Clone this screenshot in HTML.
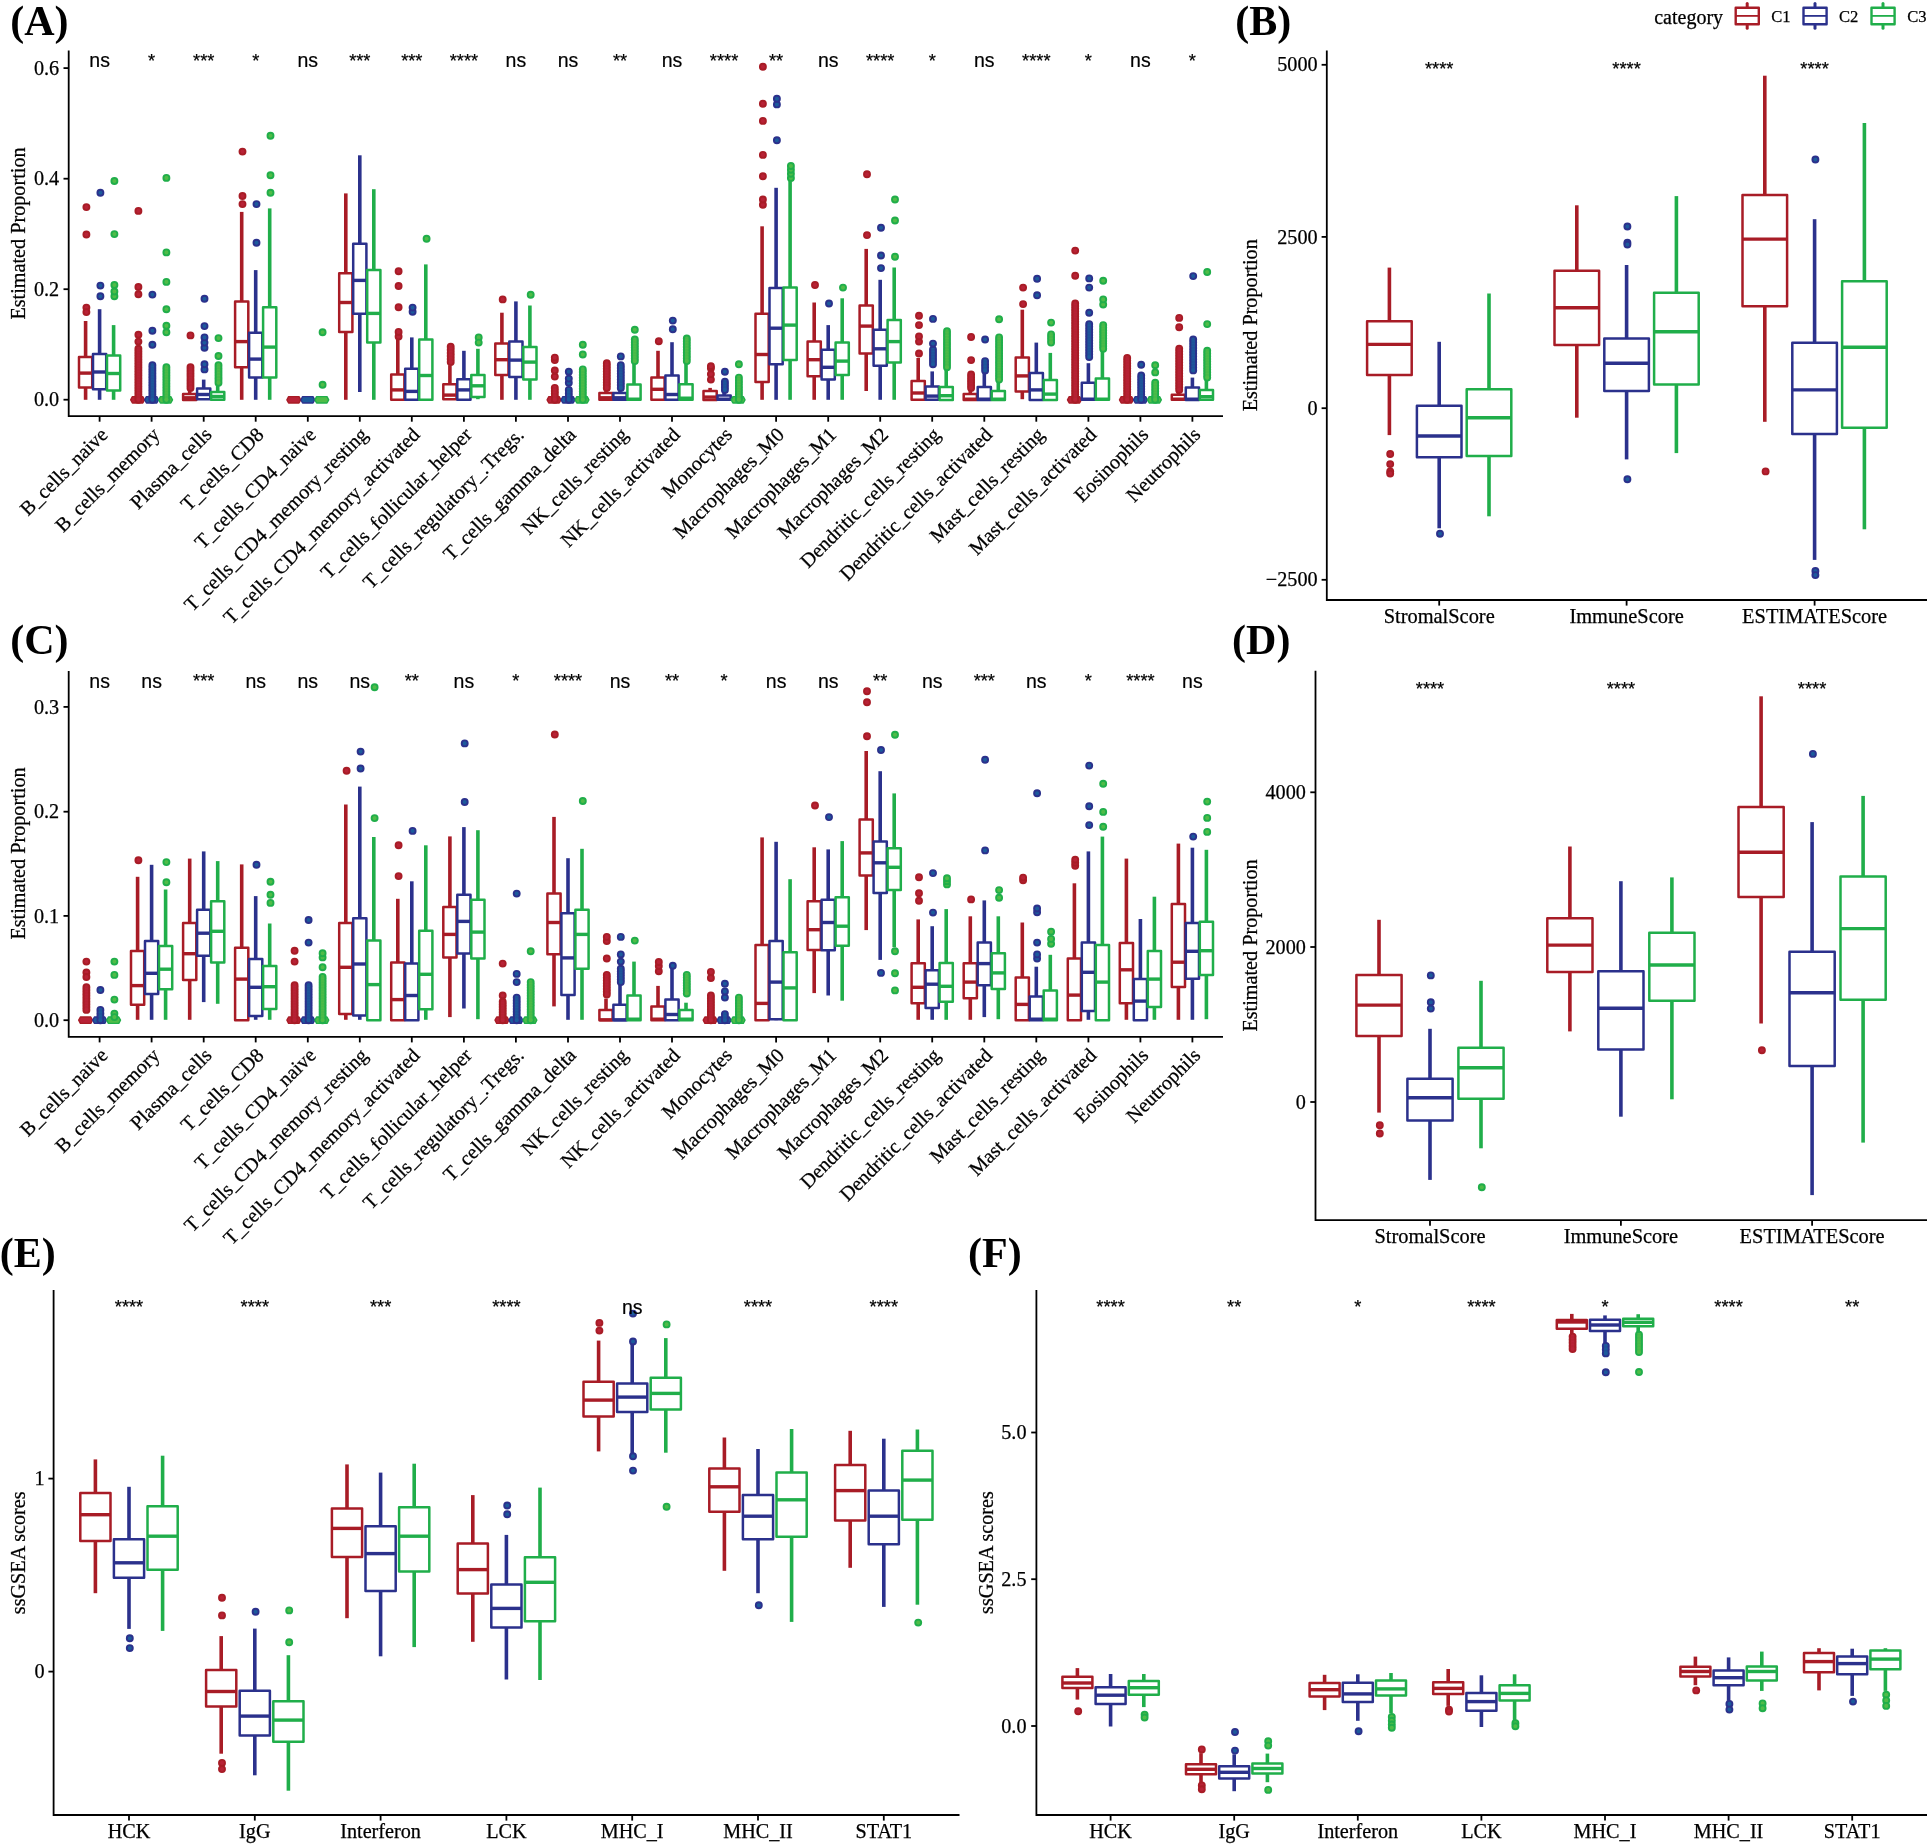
<!DOCTYPE html>
<html lang="en"><head><meta charset="utf-8"><title>Figure</title>
<style>html,body{margin:0;padding:0;background:#fff;overflow:hidden}svg{display:block;filter:blur(0.45px)}</style></head>
<body>
<svg width="1930" height="1846" viewBox="0 0 1930 1846">
<style>.t{font-family:"Liberation Serif","Times New Roman",serif;font-size:20.2px;fill:#000;stroke:#000;stroke-width:0.25px}.s{font-family:"Liberation Sans",Arial,sans-serif;font-size:19px;fill:#000;stroke:#000;stroke-width:0.2px}.p{font-family:"Liberation Serif","Times New Roman",serif;font-size:42px;font-weight:bold;fill:#000}</style>
<rect width="1930" height="1846" fill="#fff"/>
<g id="panelA">
<line x1="85.6" x2="85.6" y1="321.0" y2="357.0" stroke="#A81C26" stroke-width="3.6"/><line x1="85.6" x2="85.6" y1="387.5" y2="399.8" stroke="#A81C26" stroke-width="3.6"/><rect x="79.0" y="357.0" width="13.2" height="30.5" fill="#fff" stroke="#A81C26" stroke-width="2.5" stroke-linejoin="round"/><line x1="79.0" x2="92.2" y1="373.1" y2="373.1" stroke="#A81C26" stroke-width="3.4"/><circle cx="86.4" cy="307.6" r="3.0" fill="#B82236" stroke="#A81C26" stroke-width="1.9"/><circle cx="86.4" cy="312.1" r="3.0" fill="#B82236" stroke="#A81C26" stroke-width="1.9"/><circle cx="86.4" cy="234.5" r="3.0" fill="#B82236" stroke="#A81C26" stroke-width="1.9"/><circle cx="86.4" cy="207.1" r="3.0" fill="#B82236" stroke="#A81C26" stroke-width="1.9"/>
<line x1="99.6" x2="99.6" y1="309.2" y2="353.9" stroke="#2B318C" stroke-width="3.6"/><line x1="99.6" x2="99.6" y1="389.3" y2="399.8" stroke="#2B318C" stroke-width="3.6"/><rect x="93.0" y="353.9" width="13.2" height="35.4" fill="#fff" stroke="#2B318C" stroke-width="2.5" stroke-linejoin="round"/><line x1="93.0" x2="106.2" y1="372.0" y2="372.0" stroke="#2B318C" stroke-width="3.4"/><circle cx="100.4" cy="296.3" r="3.0" fill="#1C5A9C" stroke="#2B318C" stroke-width="1.9"/><circle cx="100.4" cy="285.6" r="3.0" fill="#1C5A9C" stroke="#2B318C" stroke-width="1.9"/><circle cx="100.4" cy="192.7" r="3.0" fill="#1C5A9C" stroke="#2B318C" stroke-width="1.9"/>
<line x1="113.6" x2="113.6" y1="325.1" y2="355.6" stroke="#20AE4A" stroke-width="3.6"/><line x1="113.6" x2="113.6" y1="390.6" y2="399.8" stroke="#20AE4A" stroke-width="3.6"/><rect x="107.0" y="355.6" width="13.2" height="35.0" fill="#fff" stroke="#20AE4A" stroke-width="2.5" stroke-linejoin="round"/><line x1="107.0" x2="120.2" y1="373.5" y2="373.5" stroke="#20AE4A" stroke-width="3.4"/><circle cx="114.4" cy="296.3" r="3.0" fill="#50BC48" stroke="#20AE4A" stroke-width="1.9"/><circle cx="114.4" cy="291.5" r="3.0" fill="#50BC48" stroke="#20AE4A" stroke-width="1.9"/><circle cx="114.4" cy="285.0" r="3.0" fill="#50BC48" stroke="#20AE4A" stroke-width="1.9"/><circle cx="114.4" cy="234.1" r="3.0" fill="#50BC48" stroke="#20AE4A" stroke-width="1.9"/><circle cx="114.4" cy="181.0" r="3.0" fill="#50BC48" stroke="#20AE4A" stroke-width="1.9"/>
<polygon points="130.7,399.8 132.4,396.6 142.8,396.6 144.5,399.8 142.8,403.0 132.4,403.0" fill="#B82236" stroke="#A81C26" stroke-width="1.4" stroke-linejoin="round"/><circle cx="138.4" cy="341.6" r="3.0" fill="#B82236" stroke="#A81C26" stroke-width="1.9"/><circle cx="138.4" cy="334.8" r="3.0" fill="#B82236" stroke="#A81C26" stroke-width="1.9"/><circle cx="138.4" cy="294.2" r="3.0" fill="#B82236" stroke="#A81C26" stroke-width="1.9"/><circle cx="138.4" cy="287.0" r="3.0" fill="#B82236" stroke="#A81C26" stroke-width="1.9"/><circle cx="138.4" cy="210.9" r="3.0" fill="#B82236" stroke="#A81C26" stroke-width="1.9"/><circle cx="138.4" cy="348.8" r="3.0" fill="#B82236" stroke="#A81C26" stroke-width="1.9"/><circle cx="138.4" cy="351.5" r="3.0" fill="#B82236" stroke="#A81C26" stroke-width="1.9"/><circle cx="138.4" cy="354.1" r="3.0" fill="#B82236" stroke="#A81C26" stroke-width="1.9"/><circle cx="138.4" cy="356.8" r="3.0" fill="#B82236" stroke="#A81C26" stroke-width="1.9"/><circle cx="138.4" cy="359.5" r="3.0" fill="#B82236" stroke="#A81C26" stroke-width="1.9"/><circle cx="138.4" cy="362.2" r="3.0" fill="#B82236" stroke="#A81C26" stroke-width="1.9"/><circle cx="138.4" cy="364.9" r="3.0" fill="#B82236" stroke="#A81C26" stroke-width="1.9"/><circle cx="138.4" cy="367.6" r="3.0" fill="#B82236" stroke="#A81C26" stroke-width="1.9"/><circle cx="138.4" cy="370.3" r="3.0" fill="#B82236" stroke="#A81C26" stroke-width="1.9"/><circle cx="138.4" cy="373.0" r="3.0" fill="#B82236" stroke="#A81C26" stroke-width="1.9"/><circle cx="138.4" cy="375.6" r="3.0" fill="#B82236" stroke="#A81C26" stroke-width="1.9"/><circle cx="138.4" cy="378.3" r="3.0" fill="#B82236" stroke="#A81C26" stroke-width="1.9"/><circle cx="138.4" cy="381.0" r="3.0" fill="#B82236" stroke="#A81C26" stroke-width="1.9"/><circle cx="138.4" cy="383.7" r="3.0" fill="#B82236" stroke="#A81C26" stroke-width="1.9"/><circle cx="138.4" cy="386.4" r="3.0" fill="#B82236" stroke="#A81C26" stroke-width="1.9"/><circle cx="138.4" cy="389.1" r="3.0" fill="#B82236" stroke="#A81C26" stroke-width="1.9"/><circle cx="138.4" cy="391.8" r="3.0" fill="#B82236" stroke="#A81C26" stroke-width="1.9"/><circle cx="138.4" cy="394.4" r="3.0" fill="#B82236" stroke="#A81C26" stroke-width="1.9"/><circle cx="138.4" cy="397.1" r="3.0" fill="#B82236" stroke="#A81C26" stroke-width="1.9"/><circle cx="138.4" cy="399.8" r="3.0" fill="#B82236" stroke="#A81C26" stroke-width="1.9"/><line x1="138.4" x2="138.4" y1="348.8" y2="399.8" stroke="#B82236" stroke-width="3.6" stroke-linecap="round" opacity="0.8"/>
<polygon points="144.7,399.8 146.4,396.6 156.8,396.6 158.5,399.8 156.8,403.0 146.4,403.0" fill="#1C5A9C" stroke="#2B318C" stroke-width="1.4" stroke-linejoin="round"/><circle cx="152.4" cy="344.7" r="3.0" fill="#1C5A9C" stroke="#2B318C" stroke-width="1.9"/><circle cx="152.4" cy="330.7" r="3.0" fill="#1C5A9C" stroke="#2B318C" stroke-width="1.9"/><circle cx="152.4" cy="294.6" r="3.0" fill="#1C5A9C" stroke="#2B318C" stroke-width="1.9"/><circle cx="152.4" cy="365.2" r="3.0" fill="#1C5A9C" stroke="#2B318C" stroke-width="1.9"/><circle cx="152.4" cy="367.9" r="3.0" fill="#1C5A9C" stroke="#2B318C" stroke-width="1.9"/><circle cx="152.4" cy="370.6" r="3.0" fill="#1C5A9C" stroke="#2B318C" stroke-width="1.9"/><circle cx="152.4" cy="373.2" r="3.0" fill="#1C5A9C" stroke="#2B318C" stroke-width="1.9"/><circle cx="152.4" cy="375.9" r="3.0" fill="#1C5A9C" stroke="#2B318C" stroke-width="1.9"/><circle cx="152.4" cy="378.5" r="3.0" fill="#1C5A9C" stroke="#2B318C" stroke-width="1.9"/><circle cx="152.4" cy="381.2" r="3.0" fill="#1C5A9C" stroke="#2B318C" stroke-width="1.9"/><circle cx="152.4" cy="383.9" r="3.0" fill="#1C5A9C" stroke="#2B318C" stroke-width="1.9"/><circle cx="152.4" cy="386.5" r="3.0" fill="#1C5A9C" stroke="#2B318C" stroke-width="1.9"/><circle cx="152.4" cy="389.2" r="3.0" fill="#1C5A9C" stroke="#2B318C" stroke-width="1.9"/><circle cx="152.4" cy="391.8" r="3.0" fill="#1C5A9C" stroke="#2B318C" stroke-width="1.9"/><circle cx="152.4" cy="394.5" r="3.0" fill="#1C5A9C" stroke="#2B318C" stroke-width="1.9"/><circle cx="152.4" cy="397.2" r="3.0" fill="#1C5A9C" stroke="#2B318C" stroke-width="1.9"/><circle cx="152.4" cy="399.8" r="3.0" fill="#1C5A9C" stroke="#2B318C" stroke-width="1.9"/><line x1="152.4" x2="152.4" y1="365.2" y2="399.8" stroke="#1C5A9C" stroke-width="3.6" stroke-linecap="round" opacity="0.8"/>
<polygon points="158.7,399.8 160.4,396.6 170.8,396.6 172.5,399.8 170.8,403.0 160.4,403.0" fill="#50BC48" stroke="#20AE4A" stroke-width="1.4" stroke-linejoin="round"/><circle cx="166.4" cy="332.3" r="3.0" fill="#50BC48" stroke="#20AE4A" stroke-width="1.9"/><circle cx="166.4" cy="325.7" r="3.0" fill="#50BC48" stroke="#20AE4A" stroke-width="1.9"/><circle cx="166.4" cy="309.2" r="3.0" fill="#50BC48" stroke="#20AE4A" stroke-width="1.9"/><circle cx="166.4" cy="281.9" r="3.0" fill="#50BC48" stroke="#20AE4A" stroke-width="1.9"/><circle cx="166.4" cy="252.4" r="3.0" fill="#50BC48" stroke="#20AE4A" stroke-width="1.9"/><circle cx="166.4" cy="177.9" r="3.0" fill="#50BC48" stroke="#20AE4A" stroke-width="1.9"/><circle cx="166.4" cy="367.3" r="3.0" fill="#50BC48" stroke="#20AE4A" stroke-width="1.9"/><circle cx="166.4" cy="370.0" r="3.0" fill="#50BC48" stroke="#20AE4A" stroke-width="1.9"/><circle cx="166.4" cy="372.7" r="3.0" fill="#50BC48" stroke="#20AE4A" stroke-width="1.9"/><circle cx="166.4" cy="375.4" r="3.0" fill="#50BC48" stroke="#20AE4A" stroke-width="1.9"/><circle cx="166.4" cy="378.1" r="3.0" fill="#50BC48" stroke="#20AE4A" stroke-width="1.9"/><circle cx="166.4" cy="380.8" r="3.0" fill="#50BC48" stroke="#20AE4A" stroke-width="1.9"/><circle cx="166.4" cy="383.6" r="3.0" fill="#50BC48" stroke="#20AE4A" stroke-width="1.9"/><circle cx="166.4" cy="386.3" r="3.0" fill="#50BC48" stroke="#20AE4A" stroke-width="1.9"/><circle cx="166.4" cy="389.0" r="3.0" fill="#50BC48" stroke="#20AE4A" stroke-width="1.9"/><circle cx="166.4" cy="391.7" r="3.0" fill="#50BC48" stroke="#20AE4A" stroke-width="1.9"/><circle cx="166.4" cy="394.4" r="3.0" fill="#50BC48" stroke="#20AE4A" stroke-width="1.9"/><circle cx="166.4" cy="397.1" r="3.0" fill="#50BC48" stroke="#20AE4A" stroke-width="1.9"/><circle cx="166.4" cy="399.8" r="3.0" fill="#50BC48" stroke="#20AE4A" stroke-width="1.9"/><line x1="166.4" x2="166.4" y1="367.3" y2="399.8" stroke="#50BC48" stroke-width="3.6" stroke-linecap="round" opacity="0.8"/>
<line x1="189.7" x2="189.7" y1="387.9" y2="394.1" stroke="#A81C26" stroke-width="3.6"/><rect x="183.1" y="394.1" width="13.2" height="5.8" fill="#fff" stroke="#A81C26" stroke-width="2.5" stroke-linejoin="round"/><line x1="183.1" x2="196.3" y1="397.8" y2="397.8" stroke="#A81C26" stroke-width="3.4"/><circle cx="190.5" cy="335.4" r="3.0" fill="#B82236" stroke="#A81C26" stroke-width="1.9"/><circle cx="190.5" cy="367.3" r="3.0" fill="#B82236" stroke="#A81C26" stroke-width="1.9"/><circle cx="190.5" cy="370.2" r="3.0" fill="#B82236" stroke="#A81C26" stroke-width="1.9"/><circle cx="190.5" cy="373.2" r="3.0" fill="#B82236" stroke="#A81C26" stroke-width="1.9"/><circle cx="190.5" cy="376.1" r="3.0" fill="#B82236" stroke="#A81C26" stroke-width="1.9"/><circle cx="190.5" cy="379.1" r="3.0" fill="#B82236" stroke="#A81C26" stroke-width="1.9"/><circle cx="190.5" cy="382.0" r="3.0" fill="#B82236" stroke="#A81C26" stroke-width="1.9"/><circle cx="190.5" cy="384.9" r="3.0" fill="#B82236" stroke="#A81C26" stroke-width="1.9"/><circle cx="190.5" cy="387.9" r="3.0" fill="#B82236" stroke="#A81C26" stroke-width="1.9"/><line x1="190.5" x2="190.5" y1="367.3" y2="387.9" stroke="#B82236" stroke-width="3.6" stroke-linecap="round" opacity="0.8"/>
<line x1="203.7" x2="203.7" y1="379.6" y2="388.5" stroke="#2B318C" stroke-width="3.6"/><line x1="203.7" x2="203.7" y1="399.2" y2="399.8" stroke="#2B318C" stroke-width="3.6"/><rect x="197.1" y="388.5" width="13.2" height="10.7" fill="#fff" stroke="#2B318C" stroke-width="2.5" stroke-linejoin="round"/><line x1="197.1" x2="210.3" y1="394.5" y2="394.5" stroke="#2B318C" stroke-width="3.4"/><circle cx="204.5" cy="369.4" r="3.0" fill="#1C5A9C" stroke="#2B318C" stroke-width="1.9"/><circle cx="204.5" cy="364.2" r="3.0" fill="#1C5A9C" stroke="#2B318C" stroke-width="1.9"/><circle cx="204.5" cy="347.7" r="3.0" fill="#1C5A9C" stroke="#2B318C" stroke-width="1.9"/><circle cx="204.5" cy="342.6" r="3.0" fill="#1C5A9C" stroke="#2B318C" stroke-width="1.9"/><circle cx="204.5" cy="337.4" r="3.0" fill="#1C5A9C" stroke="#2B318C" stroke-width="1.9"/><circle cx="204.5" cy="326.1" r="3.0" fill="#1C5A9C" stroke="#2B318C" stroke-width="1.9"/><circle cx="204.5" cy="298.7" r="3.0" fill="#1C5A9C" stroke="#2B318C" stroke-width="1.9"/>
<line x1="217.7" x2="217.7" y1="382.7" y2="392.0" stroke="#20AE4A" stroke-width="3.6"/><rect x="211.1" y="392.0" width="13.2" height="7.8" fill="#fff" stroke="#20AE4A" stroke-width="2.5" stroke-linejoin="round"/><line x1="211.1" x2="224.3" y1="396.5" y2="396.5" stroke="#20AE4A" stroke-width="3.4"/><circle cx="218.5" cy="356.0" r="3.0" fill="#50BC48" stroke="#20AE4A" stroke-width="1.9"/><circle cx="218.5" cy="338.1" r="3.0" fill="#50BC48" stroke="#20AE4A" stroke-width="1.9"/><circle cx="218.5" cy="365.2" r="3.0" fill="#50BC48" stroke="#20AE4A" stroke-width="1.9"/><circle cx="218.5" cy="368.2" r="3.0" fill="#50BC48" stroke="#20AE4A" stroke-width="1.9"/><circle cx="218.5" cy="371.1" r="3.0" fill="#50BC48" stroke="#20AE4A" stroke-width="1.9"/><circle cx="218.5" cy="374.0" r="3.0" fill="#50BC48" stroke="#20AE4A" stroke-width="1.9"/><circle cx="218.5" cy="376.9" r="3.0" fill="#50BC48" stroke="#20AE4A" stroke-width="1.9"/><circle cx="218.5" cy="379.8" r="3.0" fill="#50BC48" stroke="#20AE4A" stroke-width="1.9"/><circle cx="218.5" cy="382.7" r="3.0" fill="#50BC48" stroke="#20AE4A" stroke-width="1.9"/><line x1="218.5" x2="218.5" y1="365.2" y2="382.7" stroke="#50BC48" stroke-width="3.6" stroke-linecap="round" opacity="0.8"/>
<line x1="241.7" x2="241.7" y1="211.9" y2="301.4" stroke="#A81C26" stroke-width="3.6"/><line x1="241.7" x2="241.7" y1="367.3" y2="399.8" stroke="#A81C26" stroke-width="3.6"/><rect x="235.1" y="301.4" width="13.2" height="65.9" fill="#fff" stroke="#A81C26" stroke-width="2.5" stroke-linejoin="round"/><line x1="235.1" x2="248.3" y1="341.6" y2="341.6" stroke="#A81C26" stroke-width="3.4"/><circle cx="242.5" cy="204.1" r="3.0" fill="#B82236" stroke="#A81C26" stroke-width="1.9"/><circle cx="242.5" cy="196.0" r="3.0" fill="#B82236" stroke="#A81C26" stroke-width="1.9"/><circle cx="242.5" cy="151.6" r="3.0" fill="#B82236" stroke="#A81C26" stroke-width="1.9"/>
<line x1="255.7" x2="255.7" y1="270.1" y2="332.7" stroke="#2B318C" stroke-width="3.6"/><line x1="255.7" x2="255.7" y1="377.6" y2="399.8" stroke="#2B318C" stroke-width="3.6"/><rect x="249.1" y="332.7" width="13.2" height="44.9" fill="#fff" stroke="#2B318C" stroke-width="2.5" stroke-linejoin="round"/><line x1="249.1" x2="262.3" y1="359.1" y2="359.1" stroke="#2B318C" stroke-width="3.4"/><circle cx="256.5" cy="242.8" r="3.0" fill="#1C5A9C" stroke="#2B318C" stroke-width="1.9"/><circle cx="256.5" cy="204.1" r="3.0" fill="#1C5A9C" stroke="#2B318C" stroke-width="1.9"/>
<line x1="269.7" x2="269.7" y1="208.4" y2="307.2" stroke="#20AE4A" stroke-width="3.6"/><line x1="269.7" x2="269.7" y1="377.6" y2="399.8" stroke="#20AE4A" stroke-width="3.6"/><rect x="263.1" y="307.2" width="13.2" height="70.4" fill="#fff" stroke="#20AE4A" stroke-width="2.5" stroke-linejoin="round"/><line x1="263.1" x2="276.3" y1="347.1" y2="347.1" stroke="#20AE4A" stroke-width="3.4"/><circle cx="270.5" cy="192.7" r="3.0" fill="#50BC48" stroke="#20AE4A" stroke-width="1.9"/><circle cx="270.5" cy="175.2" r="3.0" fill="#50BC48" stroke="#20AE4A" stroke-width="1.9"/><circle cx="270.5" cy="135.7" r="3.0" fill="#50BC48" stroke="#20AE4A" stroke-width="1.9"/>
<polygon points="286.9,399.8 288.6,396.6 299.0,396.6 300.7,399.8 299.0,403.0 288.6,403.0" fill="#B82236" stroke="#A81C26" stroke-width="1.4" stroke-linejoin="round"/>
<polygon points="300.9,399.8 302.6,396.6 313.0,396.6 314.7,399.8 313.0,403.0 302.6,403.0" fill="#1C5A9C" stroke="#2B318C" stroke-width="1.4" stroke-linejoin="round"/>
<polygon points="314.9,399.8 316.6,396.6 327.0,396.6 328.7,399.8 327.0,403.0 316.6,403.0" fill="#50BC48" stroke="#20AE4A" stroke-width="1.4" stroke-linejoin="round"/><circle cx="322.6" cy="384.8" r="3.0" fill="#50BC48" stroke="#20AE4A" stroke-width="1.9"/><circle cx="322.6" cy="332.3" r="3.0" fill="#50BC48" stroke="#20AE4A" stroke-width="1.9"/>
<line x1="345.8" x2="345.8" y1="193.4" y2="273.2" stroke="#A81C26" stroke-width="3.6"/><line x1="345.8" x2="345.8" y1="331.9" y2="399.8" stroke="#A81C26" stroke-width="3.6"/><rect x="339.2" y="273.2" width="13.2" height="58.7" fill="#fff" stroke="#A81C26" stroke-width="2.5" stroke-linejoin="round"/><line x1="339.2" x2="352.4" y1="302.5" y2="302.5" stroke="#A81C26" stroke-width="3.4"/>
<line x1="359.8" x2="359.8" y1="155.3" y2="243.8" stroke="#2B318C" stroke-width="3.6"/><line x1="359.8" x2="359.8" y1="313.8" y2="392.0" stroke="#2B318C" stroke-width="3.6"/><rect x="353.2" y="243.8" width="13.2" height="70.0" fill="#fff" stroke="#2B318C" stroke-width="2.5" stroke-linejoin="round"/><line x1="353.2" x2="366.4" y1="280.4" y2="280.4" stroke="#2B318C" stroke-width="3.4"/>
<line x1="373.8" x2="373.8" y1="189.2" y2="269.9" stroke="#20AE4A" stroke-width="3.6"/><line x1="373.8" x2="373.8" y1="342.6" y2="399.8" stroke="#20AE4A" stroke-width="3.6"/><rect x="367.2" y="269.9" width="13.2" height="72.7" fill="#fff" stroke="#20AE4A" stroke-width="2.5" stroke-linejoin="round"/><line x1="367.2" x2="380.4" y1="313.4" y2="313.4" stroke="#20AE4A" stroke-width="3.4"/>
<line x1="397.8" x2="397.8" y1="338.5" y2="374.5" stroke="#A81C26" stroke-width="3.6"/><rect x="391.2" y="374.5" width="13.2" height="25.3" fill="#fff" stroke="#A81C26" stroke-width="2.5" stroke-linejoin="round"/><line x1="391.2" x2="404.4" y1="389.9" y2="389.9" stroke="#A81C26" stroke-width="3.4"/><circle cx="398.6" cy="336.4" r="3.0" fill="#B82236" stroke="#A81C26" stroke-width="1.9"/><circle cx="398.6" cy="331.9" r="3.0" fill="#B82236" stroke="#A81C26" stroke-width="1.9"/><circle cx="398.6" cy="307.2" r="3.0" fill="#B82236" stroke="#A81C26" stroke-width="1.9"/><circle cx="398.6" cy="286.0" r="3.0" fill="#B82236" stroke="#A81C26" stroke-width="1.9"/><circle cx="398.6" cy="271.2" r="3.0" fill="#B82236" stroke="#A81C26" stroke-width="1.9"/>
<line x1="411.8" x2="411.8" y1="337.4" y2="368.7" stroke="#2B318C" stroke-width="3.6"/><rect x="405.2" y="368.7" width="13.2" height="31.1" fill="#fff" stroke="#2B318C" stroke-width="2.5" stroke-linejoin="round"/><line x1="405.2" x2="418.4" y1="391.4" y2="391.4" stroke="#2B318C" stroke-width="3.4"/><circle cx="412.6" cy="311.7" r="3.0" fill="#1C5A9C" stroke="#2B318C" stroke-width="1.9"/><circle cx="412.6" cy="307.6" r="3.0" fill="#1C5A9C" stroke="#2B318C" stroke-width="1.9"/>
<line x1="425.8" x2="425.8" y1="264.4" y2="339.5" stroke="#20AE4A" stroke-width="3.6"/><rect x="419.2" y="339.5" width="13.2" height="60.3" fill="#fff" stroke="#20AE4A" stroke-width="2.5" stroke-linejoin="round"/><line x1="419.2" x2="432.4" y1="375.5" y2="375.5" stroke="#20AE4A" stroke-width="3.4"/><circle cx="426.6" cy="238.8" r="3.0" fill="#50BC48" stroke="#20AE4A" stroke-width="1.9"/>
<line x1="449.9" x2="449.9" y1="365.2" y2="384.2" stroke="#A81C26" stroke-width="3.6"/><line x1="449.9" x2="449.9" y1="399.2" y2="399.8" stroke="#A81C26" stroke-width="3.6"/><rect x="443.3" y="384.2" width="13.2" height="15.0" fill="#fff" stroke="#A81C26" stroke-width="2.5" stroke-linejoin="round"/><line x1="443.3" x2="456.5" y1="395.1" y2="395.1" stroke="#A81C26" stroke-width="3.4"/><circle cx="450.7" cy="346.7" r="3.0" fill="#B82236" stroke="#A81C26" stroke-width="1.9"/><circle cx="450.7" cy="349.8" r="3.0" fill="#B82236" stroke="#A81C26" stroke-width="1.9"/><circle cx="450.7" cy="352.9" r="3.0" fill="#B82236" stroke="#A81C26" stroke-width="1.9"/><circle cx="450.7" cy="356.0" r="3.0" fill="#B82236" stroke="#A81C26" stroke-width="1.9"/><circle cx="450.7" cy="359.1" r="3.0" fill="#B82236" stroke="#A81C26" stroke-width="1.9"/><circle cx="450.7" cy="362.1" r="3.0" fill="#B82236" stroke="#A81C26" stroke-width="1.9"/><line x1="450.7" x2="450.7" y1="346.7" y2="362.1" stroke="#B82236" stroke-width="3.6" stroke-linecap="round" opacity="0.8"/>
<line x1="463.9" x2="463.9" y1="350.8" y2="379.2" stroke="#2B318C" stroke-width="3.6"/><rect x="457.3" y="379.2" width="13.2" height="20.6" fill="#fff" stroke="#2B318C" stroke-width="2.5" stroke-linejoin="round"/><line x1="457.3" x2="470.5" y1="389.9" y2="389.9" stroke="#2B318C" stroke-width="3.4"/>
<line x1="477.9" x2="477.9" y1="348.8" y2="375.1" stroke="#20AE4A" stroke-width="3.6"/><line x1="477.9" x2="477.9" y1="397.1" y2="399.2" stroke="#20AE4A" stroke-width="3.6"/><rect x="471.3" y="375.1" width="13.2" height="22.0" fill="#fff" stroke="#20AE4A" stroke-width="2.5" stroke-linejoin="round"/><line x1="471.3" x2="484.5" y1="385.8" y2="385.8" stroke="#20AE4A" stroke-width="3.4"/><circle cx="478.7" cy="337.4" r="3.0" fill="#50BC48" stroke="#20AE4A" stroke-width="1.9"/><circle cx="478.7" cy="342.6" r="3.0" fill="#50BC48" stroke="#20AE4A" stroke-width="1.9"/>
<line x1="501.9" x2="501.9" y1="312.7" y2="343.6" stroke="#A81C26" stroke-width="3.6"/><line x1="501.9" x2="501.9" y1="375.1" y2="399.8" stroke="#A81C26" stroke-width="3.6"/><rect x="495.3" y="343.6" width="13.2" height="31.5" fill="#fff" stroke="#A81C26" stroke-width="2.5" stroke-linejoin="round"/><line x1="495.3" x2="508.5" y1="359.7" y2="359.7" stroke="#A81C26" stroke-width="3.4"/><circle cx="502.7" cy="299.4" r="3.0" fill="#B82236" stroke="#A81C26" stroke-width="1.9"/>
<line x1="515.9" x2="515.9" y1="301.4" y2="341.6" stroke="#2B318C" stroke-width="3.6"/><line x1="515.9" x2="515.9" y1="377.0" y2="399.8" stroke="#2B318C" stroke-width="3.6"/><rect x="509.3" y="341.6" width="13.2" height="35.4" fill="#fff" stroke="#2B318C" stroke-width="2.5" stroke-linejoin="round"/><line x1="509.3" x2="522.5" y1="360.1" y2="360.1" stroke="#2B318C" stroke-width="3.4"/>
<line x1="529.9" x2="529.9" y1="305.5" y2="347.1" stroke="#20AE4A" stroke-width="3.6"/><line x1="529.9" x2="529.9" y1="379.6" y2="399.8" stroke="#20AE4A" stroke-width="3.6"/><rect x="523.3" y="347.1" width="13.2" height="32.5" fill="#fff" stroke="#20AE4A" stroke-width="2.5" stroke-linejoin="round"/><line x1="523.3" x2="536.5" y1="362.1" y2="362.1" stroke="#20AE4A" stroke-width="3.4"/><circle cx="530.7" cy="294.8" r="3.0" fill="#50BC48" stroke="#20AE4A" stroke-width="1.9"/>
<polygon points="547.1,399.8 548.8,396.6 559.2,396.6 560.9,399.8 559.2,403.0 548.8,403.0" fill="#B82236" stroke="#A81C26" stroke-width="1.4" stroke-linejoin="round"/><circle cx="554.8" cy="376.6" r="3.0" fill="#B82236" stroke="#A81C26" stroke-width="1.9"/><circle cx="554.8" cy="370.4" r="3.0" fill="#B82236" stroke="#A81C26" stroke-width="1.9"/><circle cx="554.8" cy="360.1" r="3.0" fill="#B82236" stroke="#A81C26" stroke-width="1.9"/><circle cx="554.8" cy="357.6" r="3.0" fill="#B82236" stroke="#A81C26" stroke-width="1.9"/><circle cx="554.8" cy="387.9" r="3.0" fill="#B82236" stroke="#A81C26" stroke-width="1.9"/><circle cx="554.8" cy="390.9" r="3.0" fill="#B82236" stroke="#A81C26" stroke-width="1.9"/><circle cx="554.8" cy="393.8" r="3.0" fill="#B82236" stroke="#A81C26" stroke-width="1.9"/><circle cx="554.8" cy="396.8" r="3.0" fill="#B82236" stroke="#A81C26" stroke-width="1.9"/><circle cx="554.8" cy="399.8" r="3.0" fill="#B82236" stroke="#A81C26" stroke-width="1.9"/><line x1="554.8" x2="554.8" y1="387.9" y2="399.8" stroke="#B82236" stroke-width="3.6" stroke-linecap="round" opacity="0.8"/>
<polygon points="561.1,399.8 562.8,396.6 573.2,396.6 574.9,399.8 573.2,403.0 562.8,403.0" fill="#1C5A9C" stroke="#2B318C" stroke-width="1.4" stroke-linejoin="round"/><circle cx="568.8" cy="382.7" r="3.0" fill="#1C5A9C" stroke="#2B318C" stroke-width="1.9"/><circle cx="568.8" cy="378.6" r="3.0" fill="#1C5A9C" stroke="#2B318C" stroke-width="1.9"/><circle cx="568.8" cy="371.8" r="3.0" fill="#1C5A9C" stroke="#2B318C" stroke-width="1.9"/><circle cx="568.8" cy="389.9" r="3.0" fill="#1C5A9C" stroke="#2B318C" stroke-width="1.9"/><circle cx="568.8" cy="393.2" r="3.0" fill="#1C5A9C" stroke="#2B318C" stroke-width="1.9"/><circle cx="568.8" cy="396.5" r="3.0" fill="#1C5A9C" stroke="#2B318C" stroke-width="1.9"/><circle cx="568.8" cy="399.8" r="3.0" fill="#1C5A9C" stroke="#2B318C" stroke-width="1.9"/><line x1="568.8" x2="568.8" y1="389.9" y2="399.8" stroke="#1C5A9C" stroke-width="3.6" stroke-linecap="round" opacity="0.8"/>
<polygon points="575.1,399.8 576.8,396.6 587.2,396.6 588.9,399.8 587.2,403.0 576.8,403.0" fill="#50BC48" stroke="#20AE4A" stroke-width="1.4" stroke-linejoin="round"/><circle cx="582.8" cy="354.5" r="3.0" fill="#50BC48" stroke="#20AE4A" stroke-width="1.9"/><circle cx="582.8" cy="344.7" r="3.0" fill="#50BC48" stroke="#20AE4A" stroke-width="1.9"/><circle cx="582.8" cy="369.4" r="3.0" fill="#50BC48" stroke="#20AE4A" stroke-width="1.9"/><circle cx="582.8" cy="372.1" r="3.0" fill="#50BC48" stroke="#20AE4A" stroke-width="1.9"/><circle cx="582.8" cy="374.9" r="3.0" fill="#50BC48" stroke="#20AE4A" stroke-width="1.9"/><circle cx="582.8" cy="377.7" r="3.0" fill="#50BC48" stroke="#20AE4A" stroke-width="1.9"/><circle cx="582.8" cy="380.4" r="3.0" fill="#50BC48" stroke="#20AE4A" stroke-width="1.9"/><circle cx="582.8" cy="383.2" r="3.0" fill="#50BC48" stroke="#20AE4A" stroke-width="1.9"/><circle cx="582.8" cy="386.0" r="3.0" fill="#50BC48" stroke="#20AE4A" stroke-width="1.9"/><circle cx="582.8" cy="388.7" r="3.0" fill="#50BC48" stroke="#20AE4A" stroke-width="1.9"/><circle cx="582.8" cy="391.5" r="3.0" fill="#50BC48" stroke="#20AE4A" stroke-width="1.9"/><circle cx="582.8" cy="394.3" r="3.0" fill="#50BC48" stroke="#20AE4A" stroke-width="1.9"/><circle cx="582.8" cy="397.0" r="3.0" fill="#50BC48" stroke="#20AE4A" stroke-width="1.9"/><circle cx="582.8" cy="399.8" r="3.0" fill="#50BC48" stroke="#20AE4A" stroke-width="1.9"/><line x1="582.8" x2="582.8" y1="369.4" y2="399.8" stroke="#50BC48" stroke-width="3.6" stroke-linecap="round" opacity="0.8"/>
<line x1="606.0" x2="606.0" y1="387.9" y2="393.0" stroke="#A81C26" stroke-width="3.6"/><rect x="599.4" y="393.0" width="13.2" height="6.8" fill="#fff" stroke="#A81C26" stroke-width="2.5" stroke-linejoin="round"/><line x1="599.4" x2="612.6" y1="397.8" y2="397.8" stroke="#A81C26" stroke-width="3.4"/><circle cx="606.8" cy="363.2" r="3.0" fill="#B82236" stroke="#A81C26" stroke-width="1.9"/><circle cx="606.8" cy="365.9" r="3.0" fill="#B82236" stroke="#A81C26" stroke-width="1.9"/><circle cx="606.8" cy="368.7" r="3.0" fill="#B82236" stroke="#A81C26" stroke-width="1.9"/><circle cx="606.8" cy="371.4" r="3.0" fill="#B82236" stroke="#A81C26" stroke-width="1.9"/><circle cx="606.8" cy="374.2" r="3.0" fill="#B82236" stroke="#A81C26" stroke-width="1.9"/><circle cx="606.8" cy="376.9" r="3.0" fill="#B82236" stroke="#A81C26" stroke-width="1.9"/><circle cx="606.8" cy="379.6" r="3.0" fill="#B82236" stroke="#A81C26" stroke-width="1.9"/><circle cx="606.8" cy="382.4" r="3.0" fill="#B82236" stroke="#A81C26" stroke-width="1.9"/><circle cx="606.8" cy="385.1" r="3.0" fill="#B82236" stroke="#A81C26" stroke-width="1.9"/><circle cx="606.8" cy="387.9" r="3.0" fill="#B82236" stroke="#A81C26" stroke-width="1.9"/><line x1="606.8" x2="606.8" y1="363.2" y2="387.9" stroke="#B82236" stroke-width="3.6" stroke-linecap="round" opacity="0.8"/>
<line x1="620.0" x2="620.0" y1="387.9" y2="393.0" stroke="#2B318C" stroke-width="3.6"/><rect x="613.4" y="393.0" width="13.2" height="6.8" fill="#fff" stroke="#2B318C" stroke-width="2.5" stroke-linejoin="round"/><line x1="613.4" x2="626.6" y1="397.8" y2="397.8" stroke="#2B318C" stroke-width="3.4"/><circle cx="620.8" cy="356.4" r="3.0" fill="#1C5A9C" stroke="#2B318C" stroke-width="1.9"/><circle cx="620.8" cy="365.2" r="3.0" fill="#1C5A9C" stroke="#2B318C" stroke-width="1.9"/><circle cx="620.8" cy="368.1" r="3.0" fill="#1C5A9C" stroke="#2B318C" stroke-width="1.9"/><circle cx="620.8" cy="370.9" r="3.0" fill="#1C5A9C" stroke="#2B318C" stroke-width="1.9"/><circle cx="620.8" cy="373.7" r="3.0" fill="#1C5A9C" stroke="#2B318C" stroke-width="1.9"/><circle cx="620.8" cy="376.6" r="3.0" fill="#1C5A9C" stroke="#2B318C" stroke-width="1.9"/><circle cx="620.8" cy="379.4" r="3.0" fill="#1C5A9C" stroke="#2B318C" stroke-width="1.9"/><circle cx="620.8" cy="382.2" r="3.0" fill="#1C5A9C" stroke="#2B318C" stroke-width="1.9"/><circle cx="620.8" cy="385.0" r="3.0" fill="#1C5A9C" stroke="#2B318C" stroke-width="1.9"/><circle cx="620.8" cy="387.9" r="3.0" fill="#1C5A9C" stroke="#2B318C" stroke-width="1.9"/><line x1="620.8" x2="620.8" y1="365.2" y2="387.9" stroke="#1C5A9C" stroke-width="3.6" stroke-linecap="round" opacity="0.8"/>
<line x1="634.0" x2="634.0" y1="361.1" y2="384.4" stroke="#20AE4A" stroke-width="3.6"/><rect x="627.4" y="384.4" width="13.2" height="15.4" fill="#fff" stroke="#20AE4A" stroke-width="2.5" stroke-linejoin="round"/><line x1="627.4" x2="640.6" y1="399.2" y2="399.2" stroke="#20AE4A" stroke-width="3.4"/><circle cx="634.8" cy="329.8" r="3.0" fill="#50BC48" stroke="#20AE4A" stroke-width="1.9"/><circle cx="634.8" cy="339.5" r="3.0" fill="#50BC48" stroke="#20AE4A" stroke-width="1.9"/><circle cx="634.8" cy="342.2" r="3.0" fill="#50BC48" stroke="#20AE4A" stroke-width="1.9"/><circle cx="634.8" cy="344.9" r="3.0" fill="#50BC48" stroke="#20AE4A" stroke-width="1.9"/><circle cx="634.8" cy="347.6" r="3.0" fill="#50BC48" stroke="#20AE4A" stroke-width="1.9"/><circle cx="634.8" cy="350.3" r="3.0" fill="#50BC48" stroke="#20AE4A" stroke-width="1.9"/><circle cx="634.8" cy="353.0" r="3.0" fill="#50BC48" stroke="#20AE4A" stroke-width="1.9"/><circle cx="634.8" cy="355.7" r="3.0" fill="#50BC48" stroke="#20AE4A" stroke-width="1.9"/><circle cx="634.8" cy="358.4" r="3.0" fill="#50BC48" stroke="#20AE4A" stroke-width="1.9"/><circle cx="634.8" cy="361.1" r="3.0" fill="#50BC48" stroke="#20AE4A" stroke-width="1.9"/><line x1="634.8" x2="634.8" y1="339.5" y2="361.1" stroke="#50BC48" stroke-width="3.6" stroke-linecap="round" opacity="0.8"/>
<line x1="658.0" x2="658.0" y1="350.8" y2="377.6" stroke="#A81C26" stroke-width="3.6"/><rect x="651.4" y="377.6" width="13.2" height="22.2" fill="#fff" stroke="#A81C26" stroke-width="2.5" stroke-linejoin="round"/><line x1="651.4" x2="664.6" y1="389.3" y2="389.3" stroke="#A81C26" stroke-width="3.4"/><circle cx="658.8" cy="341.2" r="3.0" fill="#B82236" stroke="#A81C26" stroke-width="1.9"/>
<line x1="672.0" x2="672.0" y1="342.2" y2="375.5" stroke="#2B318C" stroke-width="3.6"/><rect x="665.4" y="375.5" width="13.2" height="24.3" fill="#fff" stroke="#2B318C" stroke-width="2.5" stroke-linejoin="round"/><line x1="665.4" x2="678.6" y1="394.5" y2="394.5" stroke="#2B318C" stroke-width="3.4"/><circle cx="672.8" cy="329.2" r="3.0" fill="#1C5A9C" stroke="#2B318C" stroke-width="1.9"/><circle cx="672.8" cy="320.6" r="3.0" fill="#1C5A9C" stroke="#2B318C" stroke-width="1.9"/>
<line x1="686.0" x2="686.0" y1="361.1" y2="384.2" stroke="#20AE4A" stroke-width="3.6"/><rect x="679.4" y="384.2" width="13.2" height="15.6" fill="#fff" stroke="#20AE4A" stroke-width="2.5" stroke-linejoin="round"/><line x1="679.4" x2="692.6" y1="398.2" y2="398.2" stroke="#20AE4A" stroke-width="3.4"/><circle cx="686.8" cy="338.5" r="3.0" fill="#50BC48" stroke="#20AE4A" stroke-width="1.9"/><circle cx="686.8" cy="341.3" r="3.0" fill="#50BC48" stroke="#20AE4A" stroke-width="1.9"/><circle cx="686.8" cy="344.1" r="3.0" fill="#50BC48" stroke="#20AE4A" stroke-width="1.9"/><circle cx="686.8" cy="347.0" r="3.0" fill="#50BC48" stroke="#20AE4A" stroke-width="1.9"/><circle cx="686.8" cy="349.8" r="3.0" fill="#50BC48" stroke="#20AE4A" stroke-width="1.9"/><circle cx="686.8" cy="352.6" r="3.0" fill="#50BC48" stroke="#20AE4A" stroke-width="1.9"/><circle cx="686.8" cy="355.5" r="3.0" fill="#50BC48" stroke="#20AE4A" stroke-width="1.9"/><circle cx="686.8" cy="358.3" r="3.0" fill="#50BC48" stroke="#20AE4A" stroke-width="1.9"/><circle cx="686.8" cy="361.1" r="3.0" fill="#50BC48" stroke="#20AE4A" stroke-width="1.9"/><line x1="686.8" x2="686.8" y1="338.5" y2="361.1" stroke="#50BC48" stroke-width="3.6" stroke-linecap="round" opacity="0.8"/>
<line x1="710.1" x2="710.1" y1="387.9" y2="391.0" stroke="#A81C26" stroke-width="3.6"/><rect x="703.5" y="391.0" width="13.2" height="8.9" fill="#fff" stroke="#A81C26" stroke-width="2.5" stroke-linejoin="round"/><line x1="703.5" x2="716.7" y1="397.1" y2="397.1" stroke="#A81C26" stroke-width="3.4"/><circle cx="710.9" cy="379.6" r="3.0" fill="#B82236" stroke="#A81C26" stroke-width="1.9"/><circle cx="710.9" cy="374.1" r="3.0" fill="#B82236" stroke="#A81C26" stroke-width="1.9"/><circle cx="710.9" cy="368.3" r="3.0" fill="#B82236" stroke="#A81C26" stroke-width="1.9"/><circle cx="710.9" cy="366.3" r="3.0" fill="#B82236" stroke="#A81C26" stroke-width="1.9"/>
<line x1="724.1" x2="724.1" y1="392.0" y2="395.5" stroke="#2B318C" stroke-width="3.6"/><rect x="717.5" y="395.5" width="13.2" height="4.3" fill="#fff" stroke="#2B318C" stroke-width="2.5" stroke-linejoin="round"/><line x1="717.5" x2="730.7" y1="399.2" y2="399.2" stroke="#2B318C" stroke-width="3.4"/><circle cx="724.9" cy="371.8" r="3.0" fill="#1C5A9C" stroke="#2B318C" stroke-width="1.9"/><circle cx="724.9" cy="381.7" r="3.0" fill="#1C5A9C" stroke="#2B318C" stroke-width="1.9"/><circle cx="724.9" cy="384.4" r="3.0" fill="#1C5A9C" stroke="#2B318C" stroke-width="1.9"/><circle cx="724.9" cy="387.2" r="3.0" fill="#1C5A9C" stroke="#2B318C" stroke-width="1.9"/><circle cx="724.9" cy="389.9" r="3.0" fill="#1C5A9C" stroke="#2B318C" stroke-width="1.9"/><line x1="724.9" x2="724.9" y1="381.7" y2="389.9" stroke="#1C5A9C" stroke-width="3.6" stroke-linecap="round" opacity="0.8"/>
<polygon points="731.2,399.8 732.9,396.6 743.3,396.6 745.0,399.8 743.3,403.0 732.9,403.0" fill="#50BC48" stroke="#20AE4A" stroke-width="1.4" stroke-linejoin="round"/><circle cx="738.9" cy="364.2" r="3.0" fill="#50BC48" stroke="#20AE4A" stroke-width="1.9"/><circle cx="738.9" cy="377.6" r="3.0" fill="#50BC48" stroke="#20AE4A" stroke-width="1.9"/><circle cx="738.9" cy="380.4" r="3.0" fill="#50BC48" stroke="#20AE4A" stroke-width="1.9"/><circle cx="738.9" cy="383.1" r="3.0" fill="#50BC48" stroke="#20AE4A" stroke-width="1.9"/><circle cx="738.9" cy="385.9" r="3.0" fill="#50BC48" stroke="#20AE4A" stroke-width="1.9"/><circle cx="738.9" cy="388.7" r="3.0" fill="#50BC48" stroke="#20AE4A" stroke-width="1.9"/><circle cx="738.9" cy="391.5" r="3.0" fill="#50BC48" stroke="#20AE4A" stroke-width="1.9"/><circle cx="738.9" cy="394.3" r="3.0" fill="#50BC48" stroke="#20AE4A" stroke-width="1.9"/><circle cx="738.9" cy="397.0" r="3.0" fill="#50BC48" stroke="#20AE4A" stroke-width="1.9"/><circle cx="738.9" cy="399.8" r="3.0" fill="#50BC48" stroke="#20AE4A" stroke-width="1.9"/><line x1="738.9" x2="738.9" y1="377.6" y2="399.8" stroke="#50BC48" stroke-width="3.6" stroke-linecap="round" opacity="0.8"/>
<line x1="762.1" x2="762.1" y1="226.3" y2="313.8" stroke="#A81C26" stroke-width="3.6"/><line x1="762.1" x2="762.1" y1="382.1" y2="399.8" stroke="#A81C26" stroke-width="3.6"/><rect x="755.5" y="313.8" width="13.2" height="68.3" fill="#fff" stroke="#A81C26" stroke-width="2.5" stroke-linejoin="round"/><line x1="755.5" x2="768.7" y1="354.5" y2="354.5" stroke="#A81C26" stroke-width="3.4"/><circle cx="762.9" cy="204.7" r="3.0" fill="#B82236" stroke="#A81C26" stroke-width="1.9"/><circle cx="762.9" cy="199.5" r="3.0" fill="#B82236" stroke="#A81C26" stroke-width="1.9"/><circle cx="762.9" cy="176.3" r="3.0" fill="#B82236" stroke="#A81C26" stroke-width="1.9"/><circle cx="762.9" cy="154.9" r="3.0" fill="#B82236" stroke="#A81C26" stroke-width="1.9"/><circle cx="762.9" cy="120.9" r="3.0" fill="#B82236" stroke="#A81C26" stroke-width="1.9"/><circle cx="762.9" cy="103.8" r="3.0" fill="#B82236" stroke="#A81C26" stroke-width="1.9"/><circle cx="762.9" cy="66.8" r="3.0" fill="#B82236" stroke="#A81C26" stroke-width="1.9"/>
<line x1="776.1" x2="776.1" y1="187.8" y2="288.0" stroke="#2B318C" stroke-width="3.6"/><line x1="776.1" x2="776.1" y1="364.2" y2="399.8" stroke="#2B318C" stroke-width="3.6"/><rect x="769.5" y="288.0" width="13.2" height="76.2" fill="#fff" stroke="#2B318C" stroke-width="2.5" stroke-linejoin="round"/><line x1="769.5" x2="782.7" y1="328.2" y2="328.2" stroke="#2B318C" stroke-width="3.4"/><circle cx="776.9" cy="140.2" r="3.0" fill="#1C5A9C" stroke="#2B318C" stroke-width="1.9"/><circle cx="776.9" cy="104.4" r="3.0" fill="#1C5A9C" stroke="#2B318C" stroke-width="1.9"/><circle cx="776.9" cy="98.7" r="3.0" fill="#1C5A9C" stroke="#2B318C" stroke-width="1.9"/>
<line x1="790.1" x2="790.1" y1="180.0" y2="287.6" stroke="#20AE4A" stroke-width="3.6"/><line x1="790.1" x2="790.1" y1="360.1" y2="399.8" stroke="#20AE4A" stroke-width="3.6"/><rect x="783.5" y="287.6" width="13.2" height="72.5" fill="#fff" stroke="#20AE4A" stroke-width="2.5" stroke-linejoin="round"/><line x1="783.5" x2="796.7" y1="325.1" y2="325.1" stroke="#20AE4A" stroke-width="3.4"/><circle cx="790.9" cy="177.9" r="3.0" fill="#50BC48" stroke="#20AE4A" stroke-width="1.9"/><circle cx="790.9" cy="173.8" r="3.0" fill="#50BC48" stroke="#20AE4A" stroke-width="1.9"/><circle cx="790.9" cy="169.7" r="3.0" fill="#50BC48" stroke="#20AE4A" stroke-width="1.9"/><circle cx="790.9" cy="166.0" r="3.0" fill="#50BC48" stroke="#20AE4A" stroke-width="1.9"/>
<line x1="814.2" x2="814.2" y1="302.5" y2="341.6" stroke="#A81C26" stroke-width="3.6"/><line x1="814.2" x2="814.2" y1="376.1" y2="399.8" stroke="#A81C26" stroke-width="3.6"/><rect x="807.6" y="341.6" width="13.2" height="34.6" fill="#fff" stroke="#A81C26" stroke-width="2.5" stroke-linejoin="round"/><line x1="807.6" x2="820.8" y1="359.7" y2="359.7" stroke="#A81C26" stroke-width="3.4"/><circle cx="815.0" cy="285.0" r="3.0" fill="#B82236" stroke="#A81C26" stroke-width="1.9"/>
<line x1="828.2" x2="828.2" y1="325.1" y2="349.8" stroke="#2B318C" stroke-width="3.6"/><line x1="828.2" x2="828.2" y1="379.6" y2="399.8" stroke="#2B318C" stroke-width="3.6"/><rect x="821.6" y="349.8" width="13.2" height="29.8" fill="#fff" stroke="#2B318C" stroke-width="2.5" stroke-linejoin="round"/><line x1="821.6" x2="834.8" y1="367.3" y2="367.3" stroke="#2B318C" stroke-width="3.4"/><circle cx="829.0" cy="303.5" r="3.0" fill="#1C5A9C" stroke="#2B318C" stroke-width="1.9"/>
<line x1="842.2" x2="842.2" y1="298.3" y2="342.6" stroke="#20AE4A" stroke-width="3.6"/><line x1="842.2" x2="842.2" y1="375.1" y2="399.8" stroke="#20AE4A" stroke-width="3.6"/><rect x="835.6" y="342.6" width="13.2" height="32.5" fill="#fff" stroke="#20AE4A" stroke-width="2.5" stroke-linejoin="round"/><line x1="835.6" x2="848.8" y1="361.1" y2="361.1" stroke="#20AE4A" stroke-width="3.4"/><circle cx="843.0" cy="287.6" r="3.0" fill="#50BC48" stroke="#20AE4A" stroke-width="1.9"/>
<line x1="866.2" x2="866.2" y1="248.9" y2="305.5" stroke="#A81C26" stroke-width="3.6"/><line x1="866.2" x2="866.2" y1="353.5" y2="391.0" stroke="#A81C26" stroke-width="3.6"/><rect x="859.6" y="305.5" width="13.2" height="48.0" fill="#fff" stroke="#A81C26" stroke-width="2.5" stroke-linejoin="round"/><line x1="859.6" x2="872.8" y1="326.1" y2="326.1" stroke="#A81C26" stroke-width="3.4"/><circle cx="867.0" cy="235.1" r="3.0" fill="#B82236" stroke="#A81C26" stroke-width="1.9"/><circle cx="867.0" cy="174.2" r="3.0" fill="#B82236" stroke="#A81C26" stroke-width="1.9"/>
<line x1="880.2" x2="880.2" y1="279.8" y2="329.8" stroke="#2B318C" stroke-width="3.6"/><line x1="880.2" x2="880.2" y1="365.9" y2="399.8" stroke="#2B318C" stroke-width="3.6"/><rect x="873.6" y="329.8" width="13.2" height="36.0" fill="#fff" stroke="#2B318C" stroke-width="2.5" stroke-linejoin="round"/><line x1="873.6" x2="886.8" y1="348.8" y2="348.8" stroke="#2B318C" stroke-width="3.4"/><circle cx="881.0" cy="268.1" r="3.0" fill="#1C5A9C" stroke="#2B318C" stroke-width="1.9"/><circle cx="881.0" cy="255.5" r="3.0" fill="#1C5A9C" stroke="#2B318C" stroke-width="1.9"/><circle cx="881.0" cy="227.7" r="3.0" fill="#1C5A9C" stroke="#2B318C" stroke-width="1.9"/>
<line x1="894.2" x2="894.2" y1="267.5" y2="320.0" stroke="#20AE4A" stroke-width="3.6"/><line x1="894.2" x2="894.2" y1="362.6" y2="399.8" stroke="#20AE4A" stroke-width="3.6"/><rect x="887.6" y="320.0" width="13.2" height="42.6" fill="#fff" stroke="#20AE4A" stroke-width="2.5" stroke-linejoin="round"/><line x1="887.6" x2="900.8" y1="341.6" y2="341.6" stroke="#20AE4A" stroke-width="3.4"/><circle cx="895.0" cy="256.8" r="3.0" fill="#50BC48" stroke="#20AE4A" stroke-width="1.9"/><circle cx="895.0" cy="220.5" r="3.0" fill="#50BC48" stroke="#20AE4A" stroke-width="1.9"/><circle cx="895.0" cy="199.5" r="3.0" fill="#50BC48" stroke="#20AE4A" stroke-width="1.9"/>
<line x1="918.2" x2="918.2" y1="358.0" y2="381.1" stroke="#A81C26" stroke-width="3.6"/><rect x="911.6" y="381.1" width="13.2" height="18.7" fill="#fff" stroke="#A81C26" stroke-width="2.5" stroke-linejoin="round"/><line x1="911.6" x2="924.8" y1="393.0" y2="393.0" stroke="#A81C26" stroke-width="3.4"/><circle cx="919.0" cy="353.5" r="3.0" fill="#B82236" stroke="#A81C26" stroke-width="1.9"/><circle cx="919.0" cy="341.6" r="3.0" fill="#B82236" stroke="#A81C26" stroke-width="1.9"/><circle cx="919.0" cy="336.4" r="3.0" fill="#B82236" stroke="#A81C26" stroke-width="1.9"/><circle cx="919.0" cy="325.1" r="3.0" fill="#B82236" stroke="#A81C26" stroke-width="1.9"/><circle cx="919.0" cy="315.8" r="3.0" fill="#B82236" stroke="#A81C26" stroke-width="1.9"/>
<line x1="932.2" x2="932.2" y1="371.4" y2="386.4" stroke="#2B318C" stroke-width="3.6"/><rect x="925.6" y="386.4" width="13.2" height="13.4" fill="#fff" stroke="#2B318C" stroke-width="2.5" stroke-linejoin="round"/><line x1="925.6" x2="938.8" y1="396.1" y2="396.1" stroke="#2B318C" stroke-width="3.4"/><circle cx="933.0" cy="343.6" r="3.0" fill="#1C5A9C" stroke="#2B318C" stroke-width="1.9"/><circle cx="933.0" cy="318.9" r="3.0" fill="#1C5A9C" stroke="#2B318C" stroke-width="1.9"/><circle cx="933.0" cy="349.8" r="3.0" fill="#1C5A9C" stroke="#2B318C" stroke-width="1.9"/><circle cx="933.0" cy="352.7" r="3.0" fill="#1C5A9C" stroke="#2B318C" stroke-width="1.9"/><circle cx="933.0" cy="355.6" r="3.0" fill="#1C5A9C" stroke="#2B318C" stroke-width="1.9"/><circle cx="933.0" cy="358.4" r="3.0" fill="#1C5A9C" stroke="#2B318C" stroke-width="1.9"/><circle cx="933.0" cy="361.3" r="3.0" fill="#1C5A9C" stroke="#2B318C" stroke-width="1.9"/><circle cx="933.0" cy="364.2" r="3.0" fill="#1C5A9C" stroke="#2B318C" stroke-width="1.9"/><line x1="933.0" x2="933.0" y1="349.8" y2="364.2" stroke="#1C5A9C" stroke-width="3.6" stroke-linecap="round" opacity="0.8"/>
<line x1="946.2" x2="946.2" y1="367.3" y2="386.9" stroke="#20AE4A" stroke-width="3.6"/><rect x="939.6" y="386.9" width="13.2" height="13.0" fill="#fff" stroke="#20AE4A" stroke-width="2.5" stroke-linejoin="round"/><line x1="939.6" x2="952.8" y1="395.7" y2="395.7" stroke="#20AE4A" stroke-width="3.4"/><circle cx="947.0" cy="331.3" r="3.0" fill="#50BC48" stroke="#20AE4A" stroke-width="1.9"/><circle cx="947.0" cy="334.0" r="3.0" fill="#50BC48" stroke="#20AE4A" stroke-width="1.9"/><circle cx="947.0" cy="336.8" r="3.0" fill="#50BC48" stroke="#20AE4A" stroke-width="1.9"/><circle cx="947.0" cy="339.6" r="3.0" fill="#50BC48" stroke="#20AE4A" stroke-width="1.9"/><circle cx="947.0" cy="342.4" r="3.0" fill="#50BC48" stroke="#20AE4A" stroke-width="1.9"/><circle cx="947.0" cy="345.1" r="3.0" fill="#50BC48" stroke="#20AE4A" stroke-width="1.9"/><circle cx="947.0" cy="347.9" r="3.0" fill="#50BC48" stroke="#20AE4A" stroke-width="1.9"/><circle cx="947.0" cy="350.7" r="3.0" fill="#50BC48" stroke="#20AE4A" stroke-width="1.9"/><circle cx="947.0" cy="353.4" r="3.0" fill="#50BC48" stroke="#20AE4A" stroke-width="1.9"/><circle cx="947.0" cy="356.2" r="3.0" fill="#50BC48" stroke="#20AE4A" stroke-width="1.9"/><circle cx="947.0" cy="359.0" r="3.0" fill="#50BC48" stroke="#20AE4A" stroke-width="1.9"/><circle cx="947.0" cy="361.8" r="3.0" fill="#50BC48" stroke="#20AE4A" stroke-width="1.9"/><circle cx="947.0" cy="364.5" r="3.0" fill="#50BC48" stroke="#20AE4A" stroke-width="1.9"/><circle cx="947.0" cy="367.3" r="3.0" fill="#50BC48" stroke="#20AE4A" stroke-width="1.9"/><line x1="947.0" x2="947.0" y1="331.3" y2="367.3" stroke="#50BC48" stroke-width="3.6" stroke-linecap="round" opacity="0.8"/>
<line x1="970.3" x2="970.3" y1="389.9" y2="394.1" stroke="#A81C26" stroke-width="3.6"/><rect x="963.7" y="394.1" width="13.2" height="5.8" fill="#fff" stroke="#A81C26" stroke-width="2.5" stroke-linejoin="round"/><line x1="963.7" x2="976.9" y1="399.2" y2="399.2" stroke="#A81C26" stroke-width="3.4"/><circle cx="971.1" cy="360.1" r="3.0" fill="#B82236" stroke="#A81C26" stroke-width="1.9"/><circle cx="971.1" cy="337.0" r="3.0" fill="#B82236" stroke="#A81C26" stroke-width="1.9"/><circle cx="971.1" cy="374.5" r="3.0" fill="#B82236" stroke="#A81C26" stroke-width="1.9"/><circle cx="971.1" cy="377.2" r="3.0" fill="#B82236" stroke="#A81C26" stroke-width="1.9"/><circle cx="971.1" cy="379.9" r="3.0" fill="#B82236" stroke="#A81C26" stroke-width="1.9"/><circle cx="971.1" cy="382.5" r="3.0" fill="#B82236" stroke="#A81C26" stroke-width="1.9"/><circle cx="971.1" cy="385.2" r="3.0" fill="#B82236" stroke="#A81C26" stroke-width="1.9"/><circle cx="971.1" cy="387.9" r="3.0" fill="#B82236" stroke="#A81C26" stroke-width="1.9"/><line x1="971.1" x2="971.1" y1="374.5" y2="387.9" stroke="#B82236" stroke-width="3.6" stroke-linecap="round" opacity="0.8"/>
<line x1="984.3" x2="984.3" y1="371.4" y2="386.9" stroke="#2B318C" stroke-width="3.6"/><rect x="977.7" y="386.9" width="13.2" height="13.0" fill="#fff" stroke="#2B318C" stroke-width="2.5" stroke-linejoin="round"/><line x1="977.7" x2="990.9" y1="399.2" y2="399.2" stroke="#2B318C" stroke-width="3.4"/><circle cx="985.1" cy="339.5" r="3.0" fill="#1C5A9C" stroke="#2B318C" stroke-width="1.9"/><circle cx="985.1" cy="361.1" r="3.0" fill="#1C5A9C" stroke="#2B318C" stroke-width="1.9"/><circle cx="985.1" cy="364.2" r="3.0" fill="#1C5A9C" stroke="#2B318C" stroke-width="1.9"/><circle cx="985.1" cy="367.3" r="3.0" fill="#1C5A9C" stroke="#2B318C" stroke-width="1.9"/><circle cx="985.1" cy="370.4" r="3.0" fill="#1C5A9C" stroke="#2B318C" stroke-width="1.9"/><line x1="985.1" x2="985.1" y1="361.1" y2="370.4" stroke="#1C5A9C" stroke-width="3.6" stroke-linecap="round" opacity="0.8"/>
<line x1="998.3" x2="998.3" y1="379.6" y2="391.0" stroke="#20AE4A" stroke-width="3.6"/><rect x="991.7" y="391.0" width="13.2" height="8.9" fill="#fff" stroke="#20AE4A" stroke-width="2.5" stroke-linejoin="round"/><line x1="991.7" x2="1004.9" y1="399.2" y2="399.2" stroke="#20AE4A" stroke-width="3.4"/><circle cx="999.1" cy="319.3" r="3.0" fill="#50BC48" stroke="#20AE4A" stroke-width="1.9"/><circle cx="999.1" cy="337.4" r="3.0" fill="#50BC48" stroke="#20AE4A" stroke-width="1.9"/><circle cx="999.1" cy="340.1" r="3.0" fill="#50BC48" stroke="#20AE4A" stroke-width="1.9"/><circle cx="999.1" cy="342.7" r="3.0" fill="#50BC48" stroke="#20AE4A" stroke-width="1.9"/><circle cx="999.1" cy="345.4" r="3.0" fill="#50BC48" stroke="#20AE4A" stroke-width="1.9"/><circle cx="999.1" cy="348.0" r="3.0" fill="#50BC48" stroke="#20AE4A" stroke-width="1.9"/><circle cx="999.1" cy="350.6" r="3.0" fill="#50BC48" stroke="#20AE4A" stroke-width="1.9"/><circle cx="999.1" cy="353.3" r="3.0" fill="#50BC48" stroke="#20AE4A" stroke-width="1.9"/><circle cx="999.1" cy="355.9" r="3.0" fill="#50BC48" stroke="#20AE4A" stroke-width="1.9"/><circle cx="999.1" cy="358.5" r="3.0" fill="#50BC48" stroke="#20AE4A" stroke-width="1.9"/><circle cx="999.1" cy="361.2" r="3.0" fill="#50BC48" stroke="#20AE4A" stroke-width="1.9"/><circle cx="999.1" cy="363.8" r="3.0" fill="#50BC48" stroke="#20AE4A" stroke-width="1.9"/><circle cx="999.1" cy="366.5" r="3.0" fill="#50BC48" stroke="#20AE4A" stroke-width="1.9"/><circle cx="999.1" cy="369.1" r="3.0" fill="#50BC48" stroke="#20AE4A" stroke-width="1.9"/><circle cx="999.1" cy="371.7" r="3.0" fill="#50BC48" stroke="#20AE4A" stroke-width="1.9"/><circle cx="999.1" cy="374.4" r="3.0" fill="#50BC48" stroke="#20AE4A" stroke-width="1.9"/><circle cx="999.1" cy="377.0" r="3.0" fill="#50BC48" stroke="#20AE4A" stroke-width="1.9"/><circle cx="999.1" cy="379.6" r="3.0" fill="#50BC48" stroke="#20AE4A" stroke-width="1.9"/><line x1="999.1" x2="999.1" y1="337.4" y2="379.6" stroke="#50BC48" stroke-width="3.6" stroke-linecap="round" opacity="0.8"/>
<line x1="1022.3" x2="1022.3" y1="309.7" y2="357.4" stroke="#A81C26" stroke-width="3.6"/><line x1="1022.3" x2="1022.3" y1="391.4" y2="399.2" stroke="#A81C26" stroke-width="3.6"/><rect x="1015.7" y="357.4" width="13.2" height="34.0" fill="#fff" stroke="#A81C26" stroke-width="2.5" stroke-linejoin="round"/><line x1="1015.7" x2="1028.9" y1="375.9" y2="375.9" stroke="#A81C26" stroke-width="3.4"/><circle cx="1023.1" cy="304.1" r="3.0" fill="#B82236" stroke="#A81C26" stroke-width="1.9"/><circle cx="1023.1" cy="287.6" r="3.0" fill="#B82236" stroke="#A81C26" stroke-width="1.9"/>
<line x1="1036.3" x2="1036.3" y1="342.6" y2="373.1" stroke="#2B318C" stroke-width="3.6"/><rect x="1029.7" y="373.1" width="13.2" height="26.8" fill="#fff" stroke="#2B318C" stroke-width="2.5" stroke-linejoin="round"/><line x1="1029.7" x2="1042.9" y1="389.9" y2="389.9" stroke="#2B318C" stroke-width="3.4"/><circle cx="1037.1" cy="295.2" r="3.0" fill="#1C5A9C" stroke="#2B318C" stroke-width="1.9"/><circle cx="1037.1" cy="278.8" r="3.0" fill="#1C5A9C" stroke="#2B318C" stroke-width="1.9"/>
<line x1="1050.3" x2="1050.3" y1="352.9" y2="380.1" stroke="#20AE4A" stroke-width="3.6"/><rect x="1043.7" y="380.1" width="13.2" height="19.8" fill="#fff" stroke="#20AE4A" stroke-width="2.5" stroke-linejoin="round"/><line x1="1043.7" x2="1056.9" y1="394.1" y2="394.1" stroke="#20AE4A" stroke-width="3.4"/><circle cx="1051.1" cy="322.6" r="3.0" fill="#50BC48" stroke="#20AE4A" stroke-width="1.9"/><circle cx="1051.1" cy="334.4" r="3.0" fill="#50BC48" stroke="#20AE4A" stroke-width="1.9"/><circle cx="1051.1" cy="337.1" r="3.0" fill="#50BC48" stroke="#20AE4A" stroke-width="1.9"/><circle cx="1051.1" cy="339.8" r="3.0" fill="#50BC48" stroke="#20AE4A" stroke-width="1.9"/><circle cx="1051.1" cy="342.6" r="3.0" fill="#50BC48" stroke="#20AE4A" stroke-width="1.9"/><line x1="1051.1" x2="1051.1" y1="334.4" y2="342.6" stroke="#50BC48" stroke-width="3.6" stroke-linecap="round" opacity="0.8"/>
<polygon points="1067.5,399.8 1069.2,396.6 1079.6,396.6 1081.3,399.8 1079.6,403.0 1069.2,403.0" fill="#B82236" stroke="#A81C26" stroke-width="1.4" stroke-linejoin="round"/><circle cx="1075.2" cy="275.7" r="3.0" fill="#B82236" stroke="#A81C26" stroke-width="1.9"/><circle cx="1075.2" cy="250.6" r="3.0" fill="#B82236" stroke="#A81C26" stroke-width="1.9"/><circle cx="1075.2" cy="303.5" r="3.0" fill="#B82236" stroke="#A81C26" stroke-width="1.9"/><circle cx="1075.2" cy="306.1" r="3.0" fill="#B82236" stroke="#A81C26" stroke-width="1.9"/><circle cx="1075.2" cy="308.7" r="3.0" fill="#B82236" stroke="#A81C26" stroke-width="1.9"/><circle cx="1075.2" cy="311.3" r="3.0" fill="#B82236" stroke="#A81C26" stroke-width="1.9"/><circle cx="1075.2" cy="313.9" r="3.0" fill="#B82236" stroke="#A81C26" stroke-width="1.9"/><circle cx="1075.2" cy="316.5" r="3.0" fill="#B82236" stroke="#A81C26" stroke-width="1.9"/><circle cx="1075.2" cy="319.1" r="3.0" fill="#B82236" stroke="#A81C26" stroke-width="1.9"/><circle cx="1075.2" cy="321.7" r="3.0" fill="#B82236" stroke="#A81C26" stroke-width="1.9"/><circle cx="1075.2" cy="324.3" r="3.0" fill="#B82236" stroke="#A81C26" stroke-width="1.9"/><circle cx="1075.2" cy="326.9" r="3.0" fill="#B82236" stroke="#A81C26" stroke-width="1.9"/><circle cx="1075.2" cy="329.5" r="3.0" fill="#B82236" stroke="#A81C26" stroke-width="1.9"/><circle cx="1075.2" cy="332.1" r="3.0" fill="#B82236" stroke="#A81C26" stroke-width="1.9"/><circle cx="1075.2" cy="334.7" r="3.0" fill="#B82236" stroke="#A81C26" stroke-width="1.9"/><circle cx="1075.2" cy="337.3" r="3.0" fill="#B82236" stroke="#A81C26" stroke-width="1.9"/><circle cx="1075.2" cy="339.9" r="3.0" fill="#B82236" stroke="#A81C26" stroke-width="1.9"/><circle cx="1075.2" cy="342.5" r="3.0" fill="#B82236" stroke="#A81C26" stroke-width="1.9"/><circle cx="1075.2" cy="345.1" r="3.0" fill="#B82236" stroke="#A81C26" stroke-width="1.9"/><circle cx="1075.2" cy="347.7" r="3.0" fill="#B82236" stroke="#A81C26" stroke-width="1.9"/><circle cx="1075.2" cy="350.3" r="3.0" fill="#B82236" stroke="#A81C26" stroke-width="1.9"/><circle cx="1075.2" cy="353.0" r="3.0" fill="#B82236" stroke="#A81C26" stroke-width="1.9"/><circle cx="1075.2" cy="355.6" r="3.0" fill="#B82236" stroke="#A81C26" stroke-width="1.9"/><circle cx="1075.2" cy="358.2" r="3.0" fill="#B82236" stroke="#A81C26" stroke-width="1.9"/><circle cx="1075.2" cy="360.8" r="3.0" fill="#B82236" stroke="#A81C26" stroke-width="1.9"/><circle cx="1075.2" cy="363.4" r="3.0" fill="#B82236" stroke="#A81C26" stroke-width="1.9"/><circle cx="1075.2" cy="366.0" r="3.0" fill="#B82236" stroke="#A81C26" stroke-width="1.9"/><circle cx="1075.2" cy="368.6" r="3.0" fill="#B82236" stroke="#A81C26" stroke-width="1.9"/><circle cx="1075.2" cy="371.2" r="3.0" fill="#B82236" stroke="#A81C26" stroke-width="1.9"/><circle cx="1075.2" cy="373.8" r="3.0" fill="#B82236" stroke="#A81C26" stroke-width="1.9"/><circle cx="1075.2" cy="376.4" r="3.0" fill="#B82236" stroke="#A81C26" stroke-width="1.9"/><circle cx="1075.2" cy="379.0" r="3.0" fill="#B82236" stroke="#A81C26" stroke-width="1.9"/><circle cx="1075.2" cy="381.6" r="3.0" fill="#B82236" stroke="#A81C26" stroke-width="1.9"/><circle cx="1075.2" cy="384.2" r="3.0" fill="#B82236" stroke="#A81C26" stroke-width="1.9"/><circle cx="1075.2" cy="386.8" r="3.0" fill="#B82236" stroke="#A81C26" stroke-width="1.9"/><circle cx="1075.2" cy="389.4" r="3.0" fill="#B82236" stroke="#A81C26" stroke-width="1.9"/><circle cx="1075.2" cy="392.0" r="3.0" fill="#B82236" stroke="#A81C26" stroke-width="1.9"/><circle cx="1075.2" cy="394.6" r="3.0" fill="#B82236" stroke="#A81C26" stroke-width="1.9"/><circle cx="1075.2" cy="397.2" r="3.0" fill="#B82236" stroke="#A81C26" stroke-width="1.9"/><circle cx="1075.2" cy="399.8" r="3.0" fill="#B82236" stroke="#A81C26" stroke-width="1.9"/><line x1="1075.2" x2="1075.2" y1="303.5" y2="399.8" stroke="#B82236" stroke-width="3.6" stroke-linecap="round" opacity="0.8"/>
<line x1="1088.4" x2="1088.4" y1="363.2" y2="382.7" stroke="#2B318C" stroke-width="3.6"/><rect x="1081.8" y="382.7" width="13.2" height="17.1" fill="#fff" stroke="#2B318C" stroke-width="2.5" stroke-linejoin="round"/><line x1="1081.8" x2="1095.0" y1="399.2" y2="399.2" stroke="#2B318C" stroke-width="3.4"/><circle cx="1089.2" cy="312.7" r="3.0" fill="#1C5A9C" stroke="#2B318C" stroke-width="1.9"/><circle cx="1089.2" cy="287.6" r="3.0" fill="#1C5A9C" stroke="#2B318C" stroke-width="1.9"/><circle cx="1089.2" cy="278.4" r="3.0" fill="#1C5A9C" stroke="#2B318C" stroke-width="1.9"/><circle cx="1089.2" cy="324.1" r="3.0" fill="#1C5A9C" stroke="#2B318C" stroke-width="1.9"/><circle cx="1089.2" cy="326.8" r="3.0" fill="#1C5A9C" stroke="#2B318C" stroke-width="1.9"/><circle cx="1089.2" cy="329.6" r="3.0" fill="#1C5A9C" stroke="#2B318C" stroke-width="1.9"/><circle cx="1089.2" cy="332.3" r="3.0" fill="#1C5A9C" stroke="#2B318C" stroke-width="1.9"/><circle cx="1089.2" cy="335.0" r="3.0" fill="#1C5A9C" stroke="#2B318C" stroke-width="1.9"/><circle cx="1089.2" cy="337.8" r="3.0" fill="#1C5A9C" stroke="#2B318C" stroke-width="1.9"/><circle cx="1089.2" cy="340.5" r="3.0" fill="#1C5A9C" stroke="#2B318C" stroke-width="1.9"/><circle cx="1089.2" cy="343.3" r="3.0" fill="#1C5A9C" stroke="#2B318C" stroke-width="1.9"/><circle cx="1089.2" cy="346.0" r="3.0" fill="#1C5A9C" stroke="#2B318C" stroke-width="1.9"/><circle cx="1089.2" cy="348.8" r="3.0" fill="#1C5A9C" stroke="#2B318C" stroke-width="1.9"/><circle cx="1089.2" cy="351.5" r="3.0" fill="#1C5A9C" stroke="#2B318C" stroke-width="1.9"/><circle cx="1089.2" cy="354.3" r="3.0" fill="#1C5A9C" stroke="#2B318C" stroke-width="1.9"/><circle cx="1089.2" cy="357.0" r="3.0" fill="#1C5A9C" stroke="#2B318C" stroke-width="1.9"/><line x1="1089.2" x2="1089.2" y1="324.1" y2="357.0" stroke="#1C5A9C" stroke-width="3.6" stroke-linecap="round" opacity="0.8"/>
<line x1="1102.4" x2="1102.4" y1="348.8" y2="378.6" stroke="#20AE4A" stroke-width="3.6"/><rect x="1095.8" y="378.6" width="13.2" height="21.2" fill="#fff" stroke="#20AE4A" stroke-width="2.5" stroke-linejoin="round"/><line x1="1095.8" x2="1109.0" y1="399.2" y2="399.2" stroke="#20AE4A" stroke-width="3.4"/><circle cx="1103.2" cy="304.5" r="3.0" fill="#50BC48" stroke="#20AE4A" stroke-width="1.9"/><circle cx="1103.2" cy="299.4" r="3.0" fill="#50BC48" stroke="#20AE4A" stroke-width="1.9"/><circle cx="1103.2" cy="280.8" r="3.0" fill="#50BC48" stroke="#20AE4A" stroke-width="1.9"/><circle cx="1103.2" cy="325.1" r="3.0" fill="#50BC48" stroke="#20AE4A" stroke-width="1.9"/><circle cx="1103.2" cy="327.7" r="3.0" fill="#50BC48" stroke="#20AE4A" stroke-width="1.9"/><circle cx="1103.2" cy="330.4" r="3.0" fill="#50BC48" stroke="#20AE4A" stroke-width="1.9"/><circle cx="1103.2" cy="333.0" r="3.0" fill="#50BC48" stroke="#20AE4A" stroke-width="1.9"/><circle cx="1103.2" cy="335.6" r="3.0" fill="#50BC48" stroke="#20AE4A" stroke-width="1.9"/><circle cx="1103.2" cy="338.2" r="3.0" fill="#50BC48" stroke="#20AE4A" stroke-width="1.9"/><circle cx="1103.2" cy="340.9" r="3.0" fill="#50BC48" stroke="#20AE4A" stroke-width="1.9"/><circle cx="1103.2" cy="343.5" r="3.0" fill="#50BC48" stroke="#20AE4A" stroke-width="1.9"/><circle cx="1103.2" cy="346.1" r="3.0" fill="#50BC48" stroke="#20AE4A" stroke-width="1.9"/><circle cx="1103.2" cy="348.8" r="3.0" fill="#50BC48" stroke="#20AE4A" stroke-width="1.9"/><line x1="1103.2" x2="1103.2" y1="325.1" y2="348.8" stroke="#50BC48" stroke-width="3.6" stroke-linecap="round" opacity="0.8"/>
<polygon points="1119.5,399.8 1121.2,396.6 1131.6,396.6 1133.3,399.8 1131.6,403.0 1121.2,403.0" fill="#B82236" stroke="#A81C26" stroke-width="1.4" stroke-linejoin="round"/><circle cx="1127.2" cy="358.0" r="3.0" fill="#B82236" stroke="#A81C26" stroke-width="1.9"/><circle cx="1127.2" cy="360.6" r="3.0" fill="#B82236" stroke="#A81C26" stroke-width="1.9"/><circle cx="1127.2" cy="363.3" r="3.0" fill="#B82236" stroke="#A81C26" stroke-width="1.9"/><circle cx="1127.2" cy="365.9" r="3.0" fill="#B82236" stroke="#A81C26" stroke-width="1.9"/><circle cx="1127.2" cy="368.5" r="3.0" fill="#B82236" stroke="#A81C26" stroke-width="1.9"/><circle cx="1127.2" cy="371.1" r="3.0" fill="#B82236" stroke="#A81C26" stroke-width="1.9"/><circle cx="1127.2" cy="373.7" r="3.0" fill="#B82236" stroke="#A81C26" stroke-width="1.9"/><circle cx="1127.2" cy="376.3" r="3.0" fill="#B82236" stroke="#A81C26" stroke-width="1.9"/><circle cx="1127.2" cy="378.9" r="3.0" fill="#B82236" stroke="#A81C26" stroke-width="1.9"/><circle cx="1127.2" cy="381.5" r="3.0" fill="#B82236" stroke="#A81C26" stroke-width="1.9"/><circle cx="1127.2" cy="384.1" r="3.0" fill="#B82236" stroke="#A81C26" stroke-width="1.9"/><circle cx="1127.2" cy="386.8" r="3.0" fill="#B82236" stroke="#A81C26" stroke-width="1.9"/><circle cx="1127.2" cy="389.4" r="3.0" fill="#B82236" stroke="#A81C26" stroke-width="1.9"/><circle cx="1127.2" cy="392.0" r="3.0" fill="#B82236" stroke="#A81C26" stroke-width="1.9"/><circle cx="1127.2" cy="394.6" r="3.0" fill="#B82236" stroke="#A81C26" stroke-width="1.9"/><circle cx="1127.2" cy="397.2" r="3.0" fill="#B82236" stroke="#A81C26" stroke-width="1.9"/><circle cx="1127.2" cy="399.8" r="3.0" fill="#B82236" stroke="#A81C26" stroke-width="1.9"/><line x1="1127.2" x2="1127.2" y1="358.0" y2="399.8" stroke="#B82236" stroke-width="3.6" stroke-linecap="round" opacity="0.8"/>
<polygon points="1133.5,399.8 1135.2,396.6 1145.6,396.6 1147.3,399.8 1145.6,403.0 1135.2,403.0" fill="#1C5A9C" stroke="#2B318C" stroke-width="1.4" stroke-linejoin="round"/><circle cx="1141.2" cy="364.8" r="3.0" fill="#1C5A9C" stroke="#2B318C" stroke-width="1.9"/><circle cx="1141.2" cy="375.5" r="3.0" fill="#1C5A9C" stroke="#2B318C" stroke-width="1.9"/><circle cx="1141.2" cy="378.2" r="3.0" fill="#1C5A9C" stroke="#2B318C" stroke-width="1.9"/><circle cx="1141.2" cy="380.9" r="3.0" fill="#1C5A9C" stroke="#2B318C" stroke-width="1.9"/><circle cx="1141.2" cy="383.6" r="3.0" fill="#1C5A9C" stroke="#2B318C" stroke-width="1.9"/><circle cx="1141.2" cy="386.3" r="3.0" fill="#1C5A9C" stroke="#2B318C" stroke-width="1.9"/><circle cx="1141.2" cy="389.0" r="3.0" fill="#1C5A9C" stroke="#2B318C" stroke-width="1.9"/><circle cx="1141.2" cy="391.7" r="3.0" fill="#1C5A9C" stroke="#2B318C" stroke-width="1.9"/><circle cx="1141.2" cy="394.4" r="3.0" fill="#1C5A9C" stroke="#2B318C" stroke-width="1.9"/><circle cx="1141.2" cy="397.1" r="3.0" fill="#1C5A9C" stroke="#2B318C" stroke-width="1.9"/><circle cx="1141.2" cy="399.8" r="3.0" fill="#1C5A9C" stroke="#2B318C" stroke-width="1.9"/><line x1="1141.2" x2="1141.2" y1="375.5" y2="399.8" stroke="#1C5A9C" stroke-width="3.6" stroke-linecap="round" opacity="0.8"/>
<polygon points="1147.5,399.8 1149.2,396.6 1159.6,396.6 1161.3,399.8 1159.6,403.0 1149.2,403.0" fill="#50BC48" stroke="#20AE4A" stroke-width="1.4" stroke-linejoin="round"/><circle cx="1155.2" cy="372.4" r="3.0" fill="#50BC48" stroke="#20AE4A" stroke-width="1.9"/><circle cx="1155.2" cy="365.2" r="3.0" fill="#50BC48" stroke="#20AE4A" stroke-width="1.9"/><circle cx="1155.2" cy="382.7" r="3.0" fill="#50BC48" stroke="#20AE4A" stroke-width="1.9"/><circle cx="1155.2" cy="385.6" r="3.0" fill="#50BC48" stroke="#20AE4A" stroke-width="1.9"/><circle cx="1155.2" cy="388.4" r="3.0" fill="#50BC48" stroke="#20AE4A" stroke-width="1.9"/><circle cx="1155.2" cy="391.3" r="3.0" fill="#50BC48" stroke="#20AE4A" stroke-width="1.9"/><circle cx="1155.2" cy="394.1" r="3.0" fill="#50BC48" stroke="#20AE4A" stroke-width="1.9"/><circle cx="1155.2" cy="397.0" r="3.0" fill="#50BC48" stroke="#20AE4A" stroke-width="1.9"/><circle cx="1155.2" cy="399.8" r="3.0" fill="#50BC48" stroke="#20AE4A" stroke-width="1.9"/><line x1="1155.2" x2="1155.2" y1="382.7" y2="399.8" stroke="#50BC48" stroke-width="3.6" stroke-linecap="round" opacity="0.8"/>
<line x1="1178.4" x2="1178.4" y1="389.9" y2="394.7" stroke="#A81C26" stroke-width="3.6"/><rect x="1171.8" y="394.7" width="13.2" height="5.1" fill="#fff" stroke="#A81C26" stroke-width="2.5" stroke-linejoin="round"/><line x1="1171.8" x2="1185.0" y1="399.2" y2="399.2" stroke="#A81C26" stroke-width="3.4"/><circle cx="1179.2" cy="327.2" r="3.0" fill="#B82236" stroke="#A81C26" stroke-width="1.9"/><circle cx="1179.2" cy="317.9" r="3.0" fill="#B82236" stroke="#A81C26" stroke-width="1.9"/><circle cx="1179.2" cy="348.8" r="3.0" fill="#B82236" stroke="#A81C26" stroke-width="1.9"/><circle cx="1179.2" cy="351.5" r="3.0" fill="#B82236" stroke="#A81C26" stroke-width="1.9"/><circle cx="1179.2" cy="354.3" r="3.0" fill="#B82236" stroke="#A81C26" stroke-width="1.9"/><circle cx="1179.2" cy="357.0" r="3.0" fill="#B82236" stroke="#A81C26" stroke-width="1.9"/><circle cx="1179.2" cy="359.7" r="3.0" fill="#B82236" stroke="#A81C26" stroke-width="1.9"/><circle cx="1179.2" cy="362.5" r="3.0" fill="#B82236" stroke="#A81C26" stroke-width="1.9"/><circle cx="1179.2" cy="365.2" r="3.0" fill="#B82236" stroke="#A81C26" stroke-width="1.9"/><circle cx="1179.2" cy="368.0" r="3.0" fill="#B82236" stroke="#A81C26" stroke-width="1.9"/><circle cx="1179.2" cy="370.7" r="3.0" fill="#B82236" stroke="#A81C26" stroke-width="1.9"/><circle cx="1179.2" cy="373.5" r="3.0" fill="#B82236" stroke="#A81C26" stroke-width="1.9"/><circle cx="1179.2" cy="376.2" r="3.0" fill="#B82236" stroke="#A81C26" stroke-width="1.9"/><circle cx="1179.2" cy="379.0" r="3.0" fill="#B82236" stroke="#A81C26" stroke-width="1.9"/><circle cx="1179.2" cy="381.7" r="3.0" fill="#B82236" stroke="#A81C26" stroke-width="1.9"/><circle cx="1179.2" cy="384.4" r="3.0" fill="#B82236" stroke="#A81C26" stroke-width="1.9"/><circle cx="1179.2" cy="387.2" r="3.0" fill="#B82236" stroke="#A81C26" stroke-width="1.9"/><circle cx="1179.2" cy="389.9" r="3.0" fill="#B82236" stroke="#A81C26" stroke-width="1.9"/><line x1="1179.2" x2="1179.2" y1="348.8" y2="389.9" stroke="#B82236" stroke-width="3.6" stroke-linecap="round" opacity="0.8"/>
<line x1="1192.4" x2="1192.4" y1="377.6" y2="387.5" stroke="#2B318C" stroke-width="3.6"/><rect x="1185.8" y="387.5" width="13.2" height="12.4" fill="#fff" stroke="#2B318C" stroke-width="2.5" stroke-linejoin="round"/><line x1="1185.8" x2="1199.0" y1="399.2" y2="399.2" stroke="#2B318C" stroke-width="3.4"/><circle cx="1193.2" cy="276.1" r="3.0" fill="#1C5A9C" stroke="#2B318C" stroke-width="1.9"/><circle cx="1193.2" cy="339.5" r="3.0" fill="#1C5A9C" stroke="#2B318C" stroke-width="1.9"/><circle cx="1193.2" cy="342.3" r="3.0" fill="#1C5A9C" stroke="#2B318C" stroke-width="1.9"/><circle cx="1193.2" cy="345.1" r="3.0" fill="#1C5A9C" stroke="#2B318C" stroke-width="1.9"/><circle cx="1193.2" cy="347.9" r="3.0" fill="#1C5A9C" stroke="#2B318C" stroke-width="1.9"/><circle cx="1193.2" cy="350.7" r="3.0" fill="#1C5A9C" stroke="#2B318C" stroke-width="1.9"/><circle cx="1193.2" cy="353.5" r="3.0" fill="#1C5A9C" stroke="#2B318C" stroke-width="1.9"/><circle cx="1193.2" cy="356.3" r="3.0" fill="#1C5A9C" stroke="#2B318C" stroke-width="1.9"/><circle cx="1193.2" cy="359.2" r="3.0" fill="#1C5A9C" stroke="#2B318C" stroke-width="1.9"/><circle cx="1193.2" cy="362.0" r="3.0" fill="#1C5A9C" stroke="#2B318C" stroke-width="1.9"/><circle cx="1193.2" cy="364.8" r="3.0" fill="#1C5A9C" stroke="#2B318C" stroke-width="1.9"/><circle cx="1193.2" cy="367.6" r="3.0" fill="#1C5A9C" stroke="#2B318C" stroke-width="1.9"/><circle cx="1193.2" cy="370.4" r="3.0" fill="#1C5A9C" stroke="#2B318C" stroke-width="1.9"/><line x1="1193.2" x2="1193.2" y1="339.5" y2="370.4" stroke="#1C5A9C" stroke-width="3.6" stroke-linecap="round" opacity="0.8"/>
<line x1="1206.4" x2="1206.4" y1="377.6" y2="389.9" stroke="#20AE4A" stroke-width="3.6"/><rect x="1199.8" y="389.9" width="13.2" height="9.9" fill="#fff" stroke="#20AE4A" stroke-width="2.5" stroke-linejoin="round"/><line x1="1199.8" x2="1213.0" y1="396.7" y2="396.7" stroke="#20AE4A" stroke-width="3.4"/><circle cx="1207.2" cy="324.1" r="3.0" fill="#50BC48" stroke="#20AE4A" stroke-width="1.9"/><circle cx="1207.2" cy="272.0" r="3.0" fill="#50BC48" stroke="#20AE4A" stroke-width="1.9"/><circle cx="1207.2" cy="350.8" r="3.0" fill="#50BC48" stroke="#20AE4A" stroke-width="1.9"/><circle cx="1207.2" cy="353.5" r="3.0" fill="#50BC48" stroke="#20AE4A" stroke-width="1.9"/><circle cx="1207.2" cy="356.2" r="3.0" fill="#50BC48" stroke="#20AE4A" stroke-width="1.9"/><circle cx="1207.2" cy="358.9" r="3.0" fill="#50BC48" stroke="#20AE4A" stroke-width="1.9"/><circle cx="1207.2" cy="361.5" r="3.0" fill="#50BC48" stroke="#20AE4A" stroke-width="1.9"/><circle cx="1207.2" cy="364.2" r="3.0" fill="#50BC48" stroke="#20AE4A" stroke-width="1.9"/><circle cx="1207.2" cy="366.9" r="3.0" fill="#50BC48" stroke="#20AE4A" stroke-width="1.9"/><circle cx="1207.2" cy="369.6" r="3.0" fill="#50BC48" stroke="#20AE4A" stroke-width="1.9"/><circle cx="1207.2" cy="372.2" r="3.0" fill="#50BC48" stroke="#20AE4A" stroke-width="1.9"/><circle cx="1207.2" cy="374.9" r="3.0" fill="#50BC48" stroke="#20AE4A" stroke-width="1.9"/><circle cx="1207.2" cy="377.6" r="3.0" fill="#50BC48" stroke="#20AE4A" stroke-width="1.9"/><line x1="1207.2" x2="1207.2" y1="350.8" y2="377.6" stroke="#50BC48" stroke-width="3.6" stroke-linecap="round" opacity="0.8"/>
<path d="M68.7 50.4 V416.1 H1223.0" fill="none" stroke="#000" stroke-width="1.8" stroke-linejoin="miter"/>
<line x1="63.5" x2="68.7" y1="399.7" y2="399.7" stroke="#000" stroke-width="1.8"/>
<text x="59.2" y="406.3" text-anchor="end" class="t">0.0</text>
<line x1="63.5" x2="68.7" y1="289.2" y2="289.2" stroke="#000" stroke-width="1.8"/>
<text x="59.2" y="295.8" text-anchor="end" class="t">0.2</text>
<line x1="63.5" x2="68.7" y1="178.7" y2="178.7" stroke="#000" stroke-width="1.8"/>
<text x="59.2" y="185.3" text-anchor="end" class="t">0.4</text>
<line x1="63.5" x2="68.7" y1="68.1" y2="68.1" stroke="#000" stroke-width="1.8"/>
<text x="59.2" y="74.7" text-anchor="end" class="t">0.6</text>
<line x1="99.6" x2="99.6" y1="416.1" y2="421.7" stroke="#000" stroke-width="1.8"/>
<line x1="151.6" x2="151.6" y1="416.1" y2="421.7" stroke="#000" stroke-width="1.8"/>
<line x1="203.7" x2="203.7" y1="416.1" y2="421.7" stroke="#000" stroke-width="1.8"/>
<line x1="255.7" x2="255.7" y1="416.1" y2="421.7" stroke="#000" stroke-width="1.8"/>
<line x1="307.8" x2="307.8" y1="416.1" y2="421.7" stroke="#000" stroke-width="1.8"/>
<line x1="359.8" x2="359.8" y1="416.1" y2="421.7" stroke="#000" stroke-width="1.8"/>
<line x1="411.8" x2="411.8" y1="416.1" y2="421.7" stroke="#000" stroke-width="1.8"/>
<line x1="463.9" x2="463.9" y1="416.1" y2="421.7" stroke="#000" stroke-width="1.8"/>
<line x1="515.9" x2="515.9" y1="416.1" y2="421.7" stroke="#000" stroke-width="1.8"/>
<line x1="568.0" x2="568.0" y1="416.1" y2="421.7" stroke="#000" stroke-width="1.8"/>
<line x1="620.0" x2="620.0" y1="416.1" y2="421.7" stroke="#000" stroke-width="1.8"/>
<line x1="672.0" x2="672.0" y1="416.1" y2="421.7" stroke="#000" stroke-width="1.8"/>
<line x1="724.1" x2="724.1" y1="416.1" y2="421.7" stroke="#000" stroke-width="1.8"/>
<line x1="776.1" x2="776.1" y1="416.1" y2="421.7" stroke="#000" stroke-width="1.8"/>
<line x1="828.2" x2="828.2" y1="416.1" y2="421.7" stroke="#000" stroke-width="1.8"/>
<line x1="880.2" x2="880.2" y1="416.1" y2="421.7" stroke="#000" stroke-width="1.8"/>
<line x1="932.2" x2="932.2" y1="416.1" y2="421.7" stroke="#000" stroke-width="1.8"/>
<line x1="984.3" x2="984.3" y1="416.1" y2="421.7" stroke="#000" stroke-width="1.8"/>
<line x1="1036.3" x2="1036.3" y1="416.1" y2="421.7" stroke="#000" stroke-width="1.8"/>
<line x1="1088.4" x2="1088.4" y1="416.1" y2="421.7" stroke="#000" stroke-width="1.8"/>
<line x1="1140.4" x2="1140.4" y1="416.1" y2="421.7" stroke="#000" stroke-width="1.8"/>
<line x1="1192.4" x2="1192.4" y1="416.1" y2="421.7" stroke="#000" stroke-width="1.8"/>
<text transform="translate(108.8 435.8) rotate(-45)" text-anchor="end" class="t">B_cells_naive</text>
<text transform="translate(160.8 435.8) rotate(-45)" text-anchor="end" class="t">B_cells_memory</text>
<text transform="translate(212.9 435.8) rotate(-45)" text-anchor="end" class="t">Plasma_cells</text>
<text transform="translate(264.9 435.8) rotate(-45)" text-anchor="end" class="t">T_cells_CD8</text>
<text transform="translate(317.0 435.8) rotate(-45)" text-anchor="end" class="t">T_cells_CD4_naive</text>
<text transform="translate(369.0 435.8) rotate(-45)" text-anchor="end" class="t">T_cells_CD4_memory_resting</text>
<text transform="translate(421.0 435.8) rotate(-45)" text-anchor="end" class="t">T_cells_CD4_memory_activated</text>
<text transform="translate(473.1 435.8) rotate(-45)" text-anchor="end" class="t">T_cells_follicular_helper</text>
<text transform="translate(525.1 435.8) rotate(-45)" text-anchor="end" class="t">T_cells_regulatory_.Tregs.</text>
<text transform="translate(577.2 435.8) rotate(-45)" text-anchor="end" class="t">T_cells_gamma_delta</text>
<text transform="translate(629.2 435.8) rotate(-45)" text-anchor="end" class="t">NK_cells_resting</text>
<text transform="translate(681.2 435.8) rotate(-45)" text-anchor="end" class="t">NK_cells_activated</text>
<text transform="translate(733.3 435.8) rotate(-45)" text-anchor="end" class="t">Monocytes</text>
<text transform="translate(785.3 435.8) rotate(-45)" text-anchor="end" class="t">Macrophages_M0</text>
<text transform="translate(837.4 435.8) rotate(-45)" text-anchor="end" class="t">Macrophages_M1</text>
<text transform="translate(889.4 435.8) rotate(-45)" text-anchor="end" class="t">Macrophages_M2</text>
<text transform="translate(941.4 435.8) rotate(-45)" text-anchor="end" class="t">Dendritic_cells_resting</text>
<text transform="translate(993.5 435.8) rotate(-45)" text-anchor="end" class="t">Dendritic_cells_activated</text>
<text transform="translate(1045.5 435.8) rotate(-45)" text-anchor="end" class="t">Mast_cells_resting</text>
<text transform="translate(1097.6 435.8) rotate(-45)" text-anchor="end" class="t">Mast_cells_activated</text>
<text transform="translate(1149.6 435.8) rotate(-45)" text-anchor="end" class="t">Eosinophils</text>
<text transform="translate(1201.6 435.8) rotate(-45)" text-anchor="end" class="t">Neutrophils</text>
<text x="99.6" y="67.2" text-anchor="middle" class="s" style="font-size:19.5px">ns</text>
<text x="151.6" y="66.8" text-anchor="middle" class="s" style="font-size:18.3px">*</text>
<text x="203.7" y="66.8" text-anchor="middle" class="s" style="font-size:18.3px">***</text>
<text x="255.7" y="66.8" text-anchor="middle" class="s" style="font-size:18.3px">*</text>
<text x="307.8" y="67.2" text-anchor="middle" class="s" style="font-size:19.5px">ns</text>
<text x="359.8" y="66.8" text-anchor="middle" class="s" style="font-size:18.3px">***</text>
<text x="411.8" y="66.8" text-anchor="middle" class="s" style="font-size:18.3px">***</text>
<text x="463.9" y="66.8" text-anchor="middle" class="s" style="font-size:18.3px">****</text>
<text x="515.9" y="67.2" text-anchor="middle" class="s" style="font-size:19.5px">ns</text>
<text x="568.0" y="67.2" text-anchor="middle" class="s" style="font-size:19.5px">ns</text>
<text x="620.0" y="66.8" text-anchor="middle" class="s" style="font-size:18.3px">**</text>
<text x="672.0" y="67.2" text-anchor="middle" class="s" style="font-size:19.5px">ns</text>
<text x="724.1" y="66.8" text-anchor="middle" class="s" style="font-size:18.3px">****</text>
<text x="776.1" y="66.8" text-anchor="middle" class="s" style="font-size:18.3px">**</text>
<text x="828.2" y="67.2" text-anchor="middle" class="s" style="font-size:19.5px">ns</text>
<text x="880.2" y="66.8" text-anchor="middle" class="s" style="font-size:18.3px">****</text>
<text x="932.2" y="66.8" text-anchor="middle" class="s" style="font-size:18.3px">*</text>
<text x="984.3" y="67.2" text-anchor="middle" class="s" style="font-size:19.5px">ns</text>
<text x="1036.3" y="66.8" text-anchor="middle" class="s" style="font-size:18.3px">****</text>
<text x="1088.4" y="66.8" text-anchor="middle" class="s" style="font-size:18.3px">*</text>
<text x="1140.4" y="67.2" text-anchor="middle" class="s" style="font-size:19.5px">ns</text>
<text x="1192.4" y="66.8" text-anchor="middle" class="s" style="font-size:18.3px">*</text>
<text transform="translate(25.4 233.5) rotate(-90)" text-anchor="middle" class="t">Estimated Proportion</text>
<text x="10.3" y="35.0" class="p">(A)</text>
</g>
<g id="panelC">
<polygon points="78.7,1020.2 80.4,1017.0 90.8,1017.0 92.5,1020.2 90.8,1023.4 80.4,1023.4" fill="#B82236" stroke="#A81C26" stroke-width="1.4" stroke-linejoin="round"/><circle cx="86.4" cy="961.6" r="3.0" fill="#B82236" stroke="#A81C26" stroke-width="1.9"/><circle cx="86.4" cy="972.5" r="3.0" fill="#B82236" stroke="#A81C26" stroke-width="1.9"/><circle cx="86.4" cy="977.0" r="3.0" fill="#B82236" stroke="#A81C26" stroke-width="1.9"/><circle cx="86.4" cy="987.3" r="3.0" fill="#B82236" stroke="#A81C26" stroke-width="1.9"/><circle cx="86.4" cy="990.1" r="3.0" fill="#B82236" stroke="#A81C26" stroke-width="1.9"/><circle cx="86.4" cy="993.0" r="3.0" fill="#B82236" stroke="#A81C26" stroke-width="1.9"/><circle cx="86.4" cy="995.8" r="3.0" fill="#B82236" stroke="#A81C26" stroke-width="1.9"/><circle cx="86.4" cy="998.6" r="3.0" fill="#B82236" stroke="#A81C26" stroke-width="1.9"/><circle cx="86.4" cy="1001.4" r="3.0" fill="#B82236" stroke="#A81C26" stroke-width="1.9"/><circle cx="86.4" cy="1004.3" r="3.0" fill="#B82236" stroke="#A81C26" stroke-width="1.9"/><circle cx="86.4" cy="1007.1" r="3.0" fill="#B82236" stroke="#A81C26" stroke-width="1.9"/><circle cx="86.4" cy="1009.9" r="3.0" fill="#B82236" stroke="#A81C26" stroke-width="1.9"/><line x1="86.4" x2="86.4" y1="987.3" y2="1009.9" stroke="#B82236" stroke-width="3.6" stroke-linecap="round" opacity="0.8"/>
<polygon points="92.7,1020.2 94.4,1017.0 104.8,1017.0 106.5,1020.2 104.8,1023.4 94.4,1023.4" fill="#1C5A9C" stroke="#2B318C" stroke-width="1.4" stroke-linejoin="round"/><circle cx="100.4" cy="990.0" r="3.0" fill="#1C5A9C" stroke="#2B318C" stroke-width="1.9"/><circle cx="100.4" cy="1009.9" r="3.0" fill="#1C5A9C" stroke="#2B318C" stroke-width="1.9"/><circle cx="100.4" cy="1013.4" r="3.0" fill="#1C5A9C" stroke="#2B318C" stroke-width="1.9"/><circle cx="100.4" cy="1016.8" r="3.0" fill="#1C5A9C" stroke="#2B318C" stroke-width="1.9"/><circle cx="100.4" cy="1020.2" r="3.0" fill="#1C5A9C" stroke="#2B318C" stroke-width="1.9"/><line x1="100.4" x2="100.4" y1="1009.9" y2="1020.2" stroke="#1C5A9C" stroke-width="3.6" stroke-linecap="round" opacity="0.8"/>
<polygon points="106.7,1020.2 108.4,1017.0 118.8,1017.0 120.5,1020.2 118.8,1023.4 108.4,1023.4" fill="#50BC48" stroke="#20AE4A" stroke-width="1.4" stroke-linejoin="round"/><circle cx="114.4" cy="961.6" r="3.0" fill="#50BC48" stroke="#20AE4A" stroke-width="1.9"/><circle cx="114.4" cy="974.9" r="3.0" fill="#50BC48" stroke="#20AE4A" stroke-width="1.9"/><circle cx="114.4" cy="999.6" r="3.0" fill="#50BC48" stroke="#20AE4A" stroke-width="1.9"/><circle cx="114.4" cy="1013.6" r="3.0" fill="#50BC48" stroke="#20AE4A" stroke-width="1.9"/><circle cx="114.4" cy="1017.1" r="3.0" fill="#50BC48" stroke="#20AE4A" stroke-width="1.9"/>
<line x1="137.6" x2="137.6" y1="876.8" y2="950.9" stroke="#A81C26" stroke-width="3.6"/><line x1="137.6" x2="137.6" y1="1004.8" y2="1019.8" stroke="#A81C26" stroke-width="3.6"/><rect x="131.0" y="950.9" width="13.2" height="53.9" fill="#fff" stroke="#A81C26" stroke-width="2.5" stroke-linejoin="round"/><line x1="131.0" x2="144.2" y1="985.6" y2="985.6" stroke="#A81C26" stroke-width="3.4"/><circle cx="138.4" cy="860.3" r="3.0" fill="#B82236" stroke="#A81C26" stroke-width="1.9"/>
<line x1="151.6" x2="151.6" y1="864.8" y2="941.0" stroke="#2B318C" stroke-width="3.6"/><line x1="151.6" x2="151.6" y1="993.9" y2="1019.8" stroke="#2B318C" stroke-width="3.6"/><rect x="145.0" y="941.0" width="13.2" height="52.9" fill="#fff" stroke="#2B318C" stroke-width="2.5" stroke-linejoin="round"/><line x1="145.0" x2="158.2" y1="973.3" y2="973.3" stroke="#2B318C" stroke-width="3.4"/>
<line x1="165.6" x2="165.6" y1="889.5" y2="946.1" stroke="#20AE4A" stroke-width="3.6"/><line x1="165.6" x2="165.6" y1="989.4" y2="1019.8" stroke="#20AE4A" stroke-width="3.6"/><rect x="159.0" y="946.1" width="13.2" height="43.2" fill="#fff" stroke="#20AE4A" stroke-width="2.5" stroke-linejoin="round"/><line x1="159.0" x2="172.2" y1="969.2" y2="969.2" stroke="#20AE4A" stroke-width="3.4"/><circle cx="166.4" cy="882.3" r="3.0" fill="#50BC48" stroke="#20AE4A" stroke-width="1.9"/><circle cx="166.4" cy="862.1" r="3.0" fill="#50BC48" stroke="#20AE4A" stroke-width="1.9"/>
<line x1="189.7" x2="189.7" y1="858.6" y2="923.1" stroke="#A81C26" stroke-width="3.6"/><line x1="189.7" x2="189.7" y1="980.1" y2="1019.8" stroke="#A81C26" stroke-width="3.6"/><rect x="183.1" y="923.1" width="13.2" height="57.0" fill="#fff" stroke="#A81C26" stroke-width="2.5" stroke-linejoin="round"/><line x1="183.1" x2="196.3" y1="953.7" y2="953.7" stroke="#A81C26" stroke-width="3.4"/>
<line x1="203.7" x2="203.7" y1="851.4" y2="909.7" stroke="#2B318C" stroke-width="3.6"/><line x1="203.7" x2="203.7" y1="955.8" y2="1002.1" stroke="#2B318C" stroke-width="3.6"/><rect x="197.1" y="909.7" width="13.2" height="46.1" fill="#fff" stroke="#2B318C" stroke-width="2.5" stroke-linejoin="round"/><line x1="197.1" x2="210.3" y1="933.2" y2="933.2" stroke="#2B318C" stroke-width="3.4"/>
<line x1="217.7" x2="217.7" y1="861.1" y2="901.3" stroke="#20AE4A" stroke-width="3.6"/><line x1="217.7" x2="217.7" y1="962.6" y2="1003.8" stroke="#20AE4A" stroke-width="3.6"/><rect x="211.1" y="901.3" width="13.2" height="61.3" fill="#fff" stroke="#20AE4A" stroke-width="2.5" stroke-linejoin="round"/><line x1="211.1" x2="224.3" y1="931.3" y2="931.3" stroke="#20AE4A" stroke-width="3.4"/>
<line x1="241.7" x2="241.7" y1="864.4" y2="947.8" stroke="#A81C26" stroke-width="3.6"/><rect x="235.1" y="947.8" width="13.2" height="72.5" fill="#fff" stroke="#A81C26" stroke-width="2.5" stroke-linejoin="round"/><line x1="235.1" x2="248.3" y1="979.1" y2="979.1" stroke="#A81C26" stroke-width="3.4"/>
<line x1="255.7" x2="255.7" y1="896.1" y2="959.1" stroke="#2B318C" stroke-width="3.6"/><line x1="255.7" x2="255.7" y1="1016.1" y2="1019.8" stroke="#2B318C" stroke-width="3.6"/><rect x="249.1" y="959.1" width="13.2" height="57.0" fill="#fff" stroke="#2B318C" stroke-width="2.5" stroke-linejoin="round"/><line x1="249.1" x2="262.3" y1="987.3" y2="987.3" stroke="#2B318C" stroke-width="3.4"/><circle cx="256.5" cy="864.8" r="3.0" fill="#1C5A9C" stroke="#2B318C" stroke-width="1.9"/>
<line x1="269.7" x2="269.7" y1="923.5" y2="966.1" stroke="#20AE4A" stroke-width="3.6"/><line x1="269.7" x2="269.7" y1="1008.9" y2="1019.8" stroke="#20AE4A" stroke-width="3.6"/><rect x="263.1" y="966.1" width="13.2" height="42.8" fill="#fff" stroke="#20AE4A" stroke-width="2.5" stroke-linejoin="round"/><line x1="263.1" x2="276.3" y1="986.7" y2="986.7" stroke="#20AE4A" stroke-width="3.4"/><circle cx="270.5" cy="902.9" r="3.0" fill="#50BC48" stroke="#20AE4A" stroke-width="1.9"/><circle cx="270.5" cy="894.7" r="3.0" fill="#50BC48" stroke="#20AE4A" stroke-width="1.9"/><circle cx="270.5" cy="881.7" r="3.0" fill="#50BC48" stroke="#20AE4A" stroke-width="1.9"/>
<polygon points="286.9,1020.2 288.6,1017.0 299.0,1017.0 300.7,1020.2 299.0,1023.4 288.6,1023.4" fill="#B82236" stroke="#A81C26" stroke-width="1.4" stroke-linejoin="round"/><circle cx="294.6" cy="961.6" r="3.0" fill="#B82236" stroke="#A81C26" stroke-width="1.9"/><circle cx="294.6" cy="950.7" r="3.0" fill="#B82236" stroke="#A81C26" stroke-width="1.9"/><circle cx="294.6" cy="985.2" r="3.0" fill="#B82236" stroke="#A81C26" stroke-width="1.9"/><circle cx="294.6" cy="987.9" r="3.0" fill="#B82236" stroke="#A81C26" stroke-width="1.9"/><circle cx="294.6" cy="990.6" r="3.0" fill="#B82236" stroke="#A81C26" stroke-width="1.9"/><circle cx="294.6" cy="993.3" r="3.0" fill="#B82236" stroke="#A81C26" stroke-width="1.9"/><circle cx="294.6" cy="996.0" r="3.0" fill="#B82236" stroke="#A81C26" stroke-width="1.9"/><circle cx="294.6" cy="998.7" r="3.0" fill="#B82236" stroke="#A81C26" stroke-width="1.9"/><circle cx="294.6" cy="1001.4" r="3.0" fill="#B82236" stroke="#A81C26" stroke-width="1.9"/><circle cx="294.6" cy="1004.1" r="3.0" fill="#B82236" stroke="#A81C26" stroke-width="1.9"/><circle cx="294.6" cy="1006.8" r="3.0" fill="#B82236" stroke="#A81C26" stroke-width="1.9"/><circle cx="294.6" cy="1009.5" r="3.0" fill="#B82236" stroke="#A81C26" stroke-width="1.9"/><circle cx="294.6" cy="1012.2" r="3.0" fill="#B82236" stroke="#A81C26" stroke-width="1.9"/><circle cx="294.6" cy="1014.8" r="3.0" fill="#B82236" stroke="#A81C26" stroke-width="1.9"/><circle cx="294.6" cy="1017.5" r="3.0" fill="#B82236" stroke="#A81C26" stroke-width="1.9"/><circle cx="294.6" cy="1020.2" r="3.0" fill="#B82236" stroke="#A81C26" stroke-width="1.9"/><line x1="294.6" x2="294.6" y1="985.2" y2="1020.2" stroke="#B82236" stroke-width="3.6" stroke-linecap="round" opacity="0.8"/>
<polygon points="300.9,1020.2 302.6,1017.0 313.0,1017.0 314.7,1020.2 313.0,1023.4 302.6,1023.4" fill="#1C5A9C" stroke="#2B318C" stroke-width="1.4" stroke-linejoin="round"/><circle cx="308.6" cy="942.6" r="3.0" fill="#1C5A9C" stroke="#2B318C" stroke-width="1.9"/><circle cx="308.6" cy="920.0" r="3.0" fill="#1C5A9C" stroke="#2B318C" stroke-width="1.9"/><circle cx="308.6" cy="985.2" r="3.0" fill="#1C5A9C" stroke="#2B318C" stroke-width="1.9"/><circle cx="308.6" cy="987.9" r="3.0" fill="#1C5A9C" stroke="#2B318C" stroke-width="1.9"/><circle cx="308.6" cy="990.6" r="3.0" fill="#1C5A9C" stroke="#2B318C" stroke-width="1.9"/><circle cx="308.6" cy="993.3" r="3.0" fill="#1C5A9C" stroke="#2B318C" stroke-width="1.9"/><circle cx="308.6" cy="996.0" r="3.0" fill="#1C5A9C" stroke="#2B318C" stroke-width="1.9"/><circle cx="308.6" cy="998.7" r="3.0" fill="#1C5A9C" stroke="#2B318C" stroke-width="1.9"/><circle cx="308.6" cy="1001.4" r="3.0" fill="#1C5A9C" stroke="#2B318C" stroke-width="1.9"/><circle cx="308.6" cy="1004.1" r="3.0" fill="#1C5A9C" stroke="#2B318C" stroke-width="1.9"/><circle cx="308.6" cy="1006.8" r="3.0" fill="#1C5A9C" stroke="#2B318C" stroke-width="1.9"/><circle cx="308.6" cy="1009.5" r="3.0" fill="#1C5A9C" stroke="#2B318C" stroke-width="1.9"/><circle cx="308.6" cy="1012.2" r="3.0" fill="#1C5A9C" stroke="#2B318C" stroke-width="1.9"/><circle cx="308.6" cy="1014.8" r="3.0" fill="#1C5A9C" stroke="#2B318C" stroke-width="1.9"/><circle cx="308.6" cy="1017.5" r="3.0" fill="#1C5A9C" stroke="#2B318C" stroke-width="1.9"/><circle cx="308.6" cy="1020.2" r="3.0" fill="#1C5A9C" stroke="#2B318C" stroke-width="1.9"/><line x1="308.6" x2="308.6" y1="985.2" y2="1020.2" stroke="#1C5A9C" stroke-width="3.6" stroke-linecap="round" opacity="0.8"/>
<polygon points="314.9,1020.2 316.6,1017.0 327.0,1017.0 328.7,1020.2 327.0,1023.4 316.6,1023.4" fill="#50BC48" stroke="#20AE4A" stroke-width="1.4" stroke-linejoin="round"/><circle cx="322.6" cy="967.3" r="3.0" fill="#50BC48" stroke="#20AE4A" stroke-width="1.9"/><circle cx="322.6" cy="957.4" r="3.0" fill="#50BC48" stroke="#20AE4A" stroke-width="1.9"/><circle cx="322.6" cy="953.3" r="3.0" fill="#50BC48" stroke="#20AE4A" stroke-width="1.9"/><circle cx="322.6" cy="977.0" r="3.0" fill="#50BC48" stroke="#20AE4A" stroke-width="1.9"/><circle cx="322.6" cy="979.7" r="3.0" fill="#50BC48" stroke="#20AE4A" stroke-width="1.9"/><circle cx="322.6" cy="982.4" r="3.0" fill="#50BC48" stroke="#20AE4A" stroke-width="1.9"/><circle cx="322.6" cy="985.1" r="3.0" fill="#50BC48" stroke="#20AE4A" stroke-width="1.9"/><circle cx="322.6" cy="987.8" r="3.0" fill="#50BC48" stroke="#20AE4A" stroke-width="1.9"/><circle cx="322.6" cy="990.5" r="3.0" fill="#50BC48" stroke="#20AE4A" stroke-width="1.9"/><circle cx="322.6" cy="993.2" r="3.0" fill="#50BC48" stroke="#20AE4A" stroke-width="1.9"/><circle cx="322.6" cy="995.9" r="3.0" fill="#50BC48" stroke="#20AE4A" stroke-width="1.9"/><circle cx="322.6" cy="998.6" r="3.0" fill="#50BC48" stroke="#20AE4A" stroke-width="1.9"/><circle cx="322.6" cy="1001.3" r="3.0" fill="#50BC48" stroke="#20AE4A" stroke-width="1.9"/><circle cx="322.6" cy="1004.0" r="3.0" fill="#50BC48" stroke="#20AE4A" stroke-width="1.9"/><circle cx="322.6" cy="1006.7" r="3.0" fill="#50BC48" stroke="#20AE4A" stroke-width="1.9"/><circle cx="322.6" cy="1009.4" r="3.0" fill="#50BC48" stroke="#20AE4A" stroke-width="1.9"/><circle cx="322.6" cy="1012.1" r="3.0" fill="#50BC48" stroke="#20AE4A" stroke-width="1.9"/><circle cx="322.6" cy="1014.8" r="3.0" fill="#50BC48" stroke="#20AE4A" stroke-width="1.9"/><circle cx="322.6" cy="1017.5" r="3.0" fill="#50BC48" stroke="#20AE4A" stroke-width="1.9"/><circle cx="322.6" cy="1020.2" r="3.0" fill="#50BC48" stroke="#20AE4A" stroke-width="1.9"/><line x1="322.6" x2="322.6" y1="977.0" y2="1020.2" stroke="#50BC48" stroke-width="3.6" stroke-linecap="round" opacity="0.8"/>
<line x1="345.8" x2="345.8" y1="804.5" y2="923.1" stroke="#A81C26" stroke-width="3.6"/><line x1="345.8" x2="345.8" y1="1014.1" y2="1019.8" stroke="#A81C26" stroke-width="3.6"/><rect x="339.2" y="923.1" width="13.2" height="91.0" fill="#fff" stroke="#A81C26" stroke-width="2.5" stroke-linejoin="round"/><line x1="339.2" x2="352.4" y1="967.3" y2="967.3" stroke="#A81C26" stroke-width="3.4"/><circle cx="346.6" cy="770.7" r="3.0" fill="#B82236" stroke="#A81C26" stroke-width="1.9"/>
<line x1="359.8" x2="359.8" y1="786.6" y2="918.3" stroke="#2B318C" stroke-width="3.6"/><line x1="359.8" x2="359.8" y1="1015.5" y2="1019.8" stroke="#2B318C" stroke-width="3.6"/><rect x="353.2" y="918.3" width="13.2" height="97.2" fill="#fff" stroke="#2B318C" stroke-width="2.5" stroke-linejoin="round"/><line x1="353.2" x2="366.4" y1="964.0" y2="964.0" stroke="#2B318C" stroke-width="3.4"/><circle cx="360.6" cy="768.5" r="3.0" fill="#1C5A9C" stroke="#2B318C" stroke-width="1.9"/><circle cx="360.6" cy="751.6" r="3.0" fill="#1C5A9C" stroke="#2B318C" stroke-width="1.9"/>
<line x1="373.8" x2="373.8" y1="837.0" y2="940.4" stroke="#20AE4A" stroke-width="3.6"/><rect x="367.2" y="940.4" width="13.2" height="79.9" fill="#fff" stroke="#20AE4A" stroke-width="2.5" stroke-linejoin="round"/><line x1="367.2" x2="380.4" y1="984.6" y2="984.6" stroke="#20AE4A" stroke-width="3.4"/><circle cx="374.6" cy="818.1" r="3.0" fill="#50BC48" stroke="#20AE4A" stroke-width="1.9"/><circle cx="374.6" cy="687.2" r="3.0" fill="#50BC48" stroke="#20AE4A" stroke-width="1.9"/>
<line x1="397.8" x2="397.8" y1="898.8" y2="962.6" stroke="#A81C26" stroke-width="3.6"/><rect x="391.2" y="962.6" width="13.2" height="57.6" fill="#fff" stroke="#A81C26" stroke-width="2.5" stroke-linejoin="round"/><line x1="391.2" x2="404.4" y1="999.6" y2="999.6" stroke="#A81C26" stroke-width="3.4"/><circle cx="398.6" cy="876.1" r="3.0" fill="#B82236" stroke="#A81C26" stroke-width="1.9"/><circle cx="398.6" cy="845.3" r="3.0" fill="#B82236" stroke="#A81C26" stroke-width="1.9"/>
<line x1="411.8" x2="411.8" y1="881.3" y2="963.6" stroke="#2B318C" stroke-width="3.6"/><rect x="405.2" y="963.6" width="13.2" height="56.6" fill="#fff" stroke="#2B318C" stroke-width="2.5" stroke-linejoin="round"/><line x1="405.2" x2="418.4" y1="995.5" y2="995.5" stroke="#2B318C" stroke-width="3.4"/><circle cx="412.6" cy="830.9" r="3.0" fill="#1C5A9C" stroke="#2B318C" stroke-width="1.9"/>
<line x1="425.8" x2="425.8" y1="845.3" y2="930.7" stroke="#20AE4A" stroke-width="3.6"/><line x1="425.8" x2="425.8" y1="1009.3" y2="1019.8" stroke="#20AE4A" stroke-width="3.6"/><rect x="419.2" y="930.7" width="13.2" height="78.6" fill="#fff" stroke="#20AE4A" stroke-width="2.5" stroke-linejoin="round"/><line x1="419.2" x2="432.4" y1="974.3" y2="974.3" stroke="#20AE4A" stroke-width="3.4"/>
<line x1="449.9" x2="449.9" y1="836.4" y2="907.0" stroke="#A81C26" stroke-width="3.6"/><line x1="449.9" x2="449.9" y1="957.4" y2="1017.1" stroke="#A81C26" stroke-width="3.6"/><rect x="443.3" y="907.0" width="13.2" height="50.4" fill="#fff" stroke="#A81C26" stroke-width="2.5" stroke-linejoin="round"/><line x1="443.3" x2="456.5" y1="934.4" y2="934.4" stroke="#A81C26" stroke-width="3.4"/>
<line x1="463.9" x2="463.9" y1="827.1" y2="894.7" stroke="#2B318C" stroke-width="3.6"/><line x1="463.9" x2="463.9" y1="953.3" y2="1008.5" stroke="#2B318C" stroke-width="3.6"/><rect x="457.3" y="894.7" width="13.2" height="58.7" fill="#fff" stroke="#2B318C" stroke-width="2.5" stroke-linejoin="round"/><line x1="457.3" x2="470.5" y1="921.4" y2="921.4" stroke="#2B318C" stroke-width="3.4"/><circle cx="464.7" cy="802.0" r="3.0" fill="#1C5A9C" stroke="#2B318C" stroke-width="1.9"/><circle cx="464.7" cy="743.4" r="3.0" fill="#1C5A9C" stroke="#2B318C" stroke-width="1.9"/>
<line x1="477.9" x2="477.9" y1="830.2" y2="899.8" stroke="#20AE4A" stroke-width="3.6"/><line x1="477.9" x2="477.9" y1="958.5" y2="1019.2" stroke="#20AE4A" stroke-width="3.6"/><rect x="471.3" y="899.8" width="13.2" height="58.7" fill="#fff" stroke="#20AE4A" stroke-width="2.5" stroke-linejoin="round"/><line x1="471.3" x2="484.5" y1="932.1" y2="932.1" stroke="#20AE4A" stroke-width="3.4"/>
<polygon points="495.0,1020.2 496.7,1017.0 507.1,1017.0 508.8,1020.2 507.1,1023.4 496.7,1023.4" fill="#B82236" stroke="#A81C26" stroke-width="1.4" stroke-linejoin="round"/><circle cx="502.7" cy="995.5" r="3.0" fill="#B82236" stroke="#A81C26" stroke-width="1.9"/><circle cx="502.7" cy="963.6" r="3.0" fill="#B82236" stroke="#A81C26" stroke-width="1.9"/><circle cx="502.7" cy="1001.7" r="3.0" fill="#B82236" stroke="#A81C26" stroke-width="1.9"/><circle cx="502.7" cy="1004.4" r="3.0" fill="#B82236" stroke="#A81C26" stroke-width="1.9"/><circle cx="502.7" cy="1007.0" r="3.0" fill="#B82236" stroke="#A81C26" stroke-width="1.9"/><circle cx="502.7" cy="1009.6" r="3.0" fill="#B82236" stroke="#A81C26" stroke-width="1.9"/><circle cx="502.7" cy="1012.3" r="3.0" fill="#B82236" stroke="#A81C26" stroke-width="1.9"/><circle cx="502.7" cy="1014.9" r="3.0" fill="#B82236" stroke="#A81C26" stroke-width="1.9"/><circle cx="502.7" cy="1017.6" r="3.0" fill="#B82236" stroke="#A81C26" stroke-width="1.9"/><circle cx="502.7" cy="1020.2" r="3.0" fill="#B82236" stroke="#A81C26" stroke-width="1.9"/><line x1="502.7" x2="502.7" y1="1001.7" y2="1020.2" stroke="#B82236" stroke-width="3.6" stroke-linecap="round" opacity="0.8"/>
<polygon points="509.0,1020.2 510.7,1017.0 521.1,1017.0 522.8,1020.2 521.1,1023.4 510.7,1023.4" fill="#1C5A9C" stroke="#2B318C" stroke-width="1.4" stroke-linejoin="round"/><circle cx="516.7" cy="982.1" r="3.0" fill="#1C5A9C" stroke="#2B318C" stroke-width="1.9"/><circle cx="516.7" cy="973.9" r="3.0" fill="#1C5A9C" stroke="#2B318C" stroke-width="1.9"/><circle cx="516.7" cy="893.6" r="3.0" fill="#1C5A9C" stroke="#2B318C" stroke-width="1.9"/><circle cx="516.7" cy="997.6" r="3.0" fill="#1C5A9C" stroke="#2B318C" stroke-width="1.9"/><circle cx="516.7" cy="1000.4" r="3.0" fill="#1C5A9C" stroke="#2B318C" stroke-width="1.9"/><circle cx="516.7" cy="1003.2" r="3.0" fill="#1C5A9C" stroke="#2B318C" stroke-width="1.9"/><circle cx="516.7" cy="1006.1" r="3.0" fill="#1C5A9C" stroke="#2B318C" stroke-width="1.9"/><circle cx="516.7" cy="1008.9" r="3.0" fill="#1C5A9C" stroke="#2B318C" stroke-width="1.9"/><circle cx="516.7" cy="1011.7" r="3.0" fill="#1C5A9C" stroke="#2B318C" stroke-width="1.9"/><circle cx="516.7" cy="1014.6" r="3.0" fill="#1C5A9C" stroke="#2B318C" stroke-width="1.9"/><circle cx="516.7" cy="1017.4" r="3.0" fill="#1C5A9C" stroke="#2B318C" stroke-width="1.9"/><circle cx="516.7" cy="1020.2" r="3.0" fill="#1C5A9C" stroke="#2B318C" stroke-width="1.9"/><line x1="516.7" x2="516.7" y1="997.6" y2="1020.2" stroke="#1C5A9C" stroke-width="3.6" stroke-linecap="round" opacity="0.8"/>
<polygon points="523.0,1020.2 524.7,1017.0 535.1,1017.0 536.8,1020.2 535.1,1023.4 524.7,1023.4" fill="#50BC48" stroke="#20AE4A" stroke-width="1.4" stroke-linejoin="round"/><circle cx="530.7" cy="951.3" r="3.0" fill="#50BC48" stroke="#20AE4A" stroke-width="1.9"/><circle cx="530.7" cy="982.1" r="3.0" fill="#50BC48" stroke="#20AE4A" stroke-width="1.9"/><circle cx="530.7" cy="984.9" r="3.0" fill="#50BC48" stroke="#20AE4A" stroke-width="1.9"/><circle cx="530.7" cy="987.6" r="3.0" fill="#50BC48" stroke="#20AE4A" stroke-width="1.9"/><circle cx="530.7" cy="990.3" r="3.0" fill="#50BC48" stroke="#20AE4A" stroke-width="1.9"/><circle cx="530.7" cy="993.0" r="3.0" fill="#50BC48" stroke="#20AE4A" stroke-width="1.9"/><circle cx="530.7" cy="995.7" r="3.0" fill="#50BC48" stroke="#20AE4A" stroke-width="1.9"/><circle cx="530.7" cy="998.5" r="3.0" fill="#50BC48" stroke="#20AE4A" stroke-width="1.9"/><circle cx="530.7" cy="1001.2" r="3.0" fill="#50BC48" stroke="#20AE4A" stroke-width="1.9"/><circle cx="530.7" cy="1003.9" r="3.0" fill="#50BC48" stroke="#20AE4A" stroke-width="1.9"/><circle cx="530.7" cy="1006.6" r="3.0" fill="#50BC48" stroke="#20AE4A" stroke-width="1.9"/><circle cx="530.7" cy="1009.4" r="3.0" fill="#50BC48" stroke="#20AE4A" stroke-width="1.9"/><circle cx="530.7" cy="1012.1" r="3.0" fill="#50BC48" stroke="#20AE4A" stroke-width="1.9"/><circle cx="530.7" cy="1014.8" r="3.0" fill="#50BC48" stroke="#20AE4A" stroke-width="1.9"/><circle cx="530.7" cy="1017.5" r="3.0" fill="#50BC48" stroke="#20AE4A" stroke-width="1.9"/><circle cx="530.7" cy="1020.2" r="3.0" fill="#50BC48" stroke="#20AE4A" stroke-width="1.9"/><line x1="530.7" x2="530.7" y1="982.1" y2="1020.2" stroke="#50BC48" stroke-width="3.6" stroke-linecap="round" opacity="0.8"/>
<line x1="554.0" x2="554.0" y1="816.9" y2="893.6" stroke="#A81C26" stroke-width="3.6"/><line x1="554.0" x2="554.0" y1="954.4" y2="1006.4" stroke="#A81C26" stroke-width="3.6"/><rect x="547.4" y="893.6" width="13.2" height="60.7" fill="#fff" stroke="#A81C26" stroke-width="2.5" stroke-linejoin="round"/><line x1="547.4" x2="560.6" y1="922.5" y2="922.5" stroke="#A81C26" stroke-width="3.4"/><circle cx="554.8" cy="734.5" r="3.0" fill="#B82236" stroke="#A81C26" stroke-width="1.9"/>
<line x1="568.0" x2="568.0" y1="858.2" y2="913.2" stroke="#2B318C" stroke-width="3.6"/><line x1="568.0" x2="568.0" y1="995.1" y2="1019.8" stroke="#2B318C" stroke-width="3.6"/><rect x="561.4" y="913.2" width="13.2" height="81.9" fill="#fff" stroke="#2B318C" stroke-width="2.5" stroke-linejoin="round"/><line x1="561.4" x2="574.6" y1="957.9" y2="957.9" stroke="#2B318C" stroke-width="3.4"/>
<line x1="582.0" x2="582.0" y1="848.8" y2="909.7" stroke="#20AE4A" stroke-width="3.6"/><line x1="582.0" x2="582.0" y1="968.8" y2="1019.8" stroke="#20AE4A" stroke-width="3.6"/><rect x="575.4" y="909.7" width="13.2" height="59.1" fill="#fff" stroke="#20AE4A" stroke-width="2.5" stroke-linejoin="round"/><line x1="575.4" x2="588.6" y1="934.4" y2="934.4" stroke="#20AE4A" stroke-width="3.4"/><circle cx="582.8" cy="801.0" r="3.0" fill="#50BC48" stroke="#20AE4A" stroke-width="1.9"/>
<line x1="606.0" x2="606.0" y1="998.6" y2="1009.9" stroke="#A81C26" stroke-width="3.6"/><rect x="599.4" y="1009.9" width="13.2" height="10.3" fill="#fff" stroke="#A81C26" stroke-width="2.5" stroke-linejoin="round"/><line x1="599.4" x2="612.6" y1="1019.8" y2="1019.8" stroke="#A81C26" stroke-width="3.4"/><circle cx="606.8" cy="958.5" r="3.0" fill="#B82236" stroke="#A81C26" stroke-width="1.9"/><circle cx="606.8" cy="941.0" r="3.0" fill="#B82236" stroke="#A81C26" stroke-width="1.9"/><circle cx="606.8" cy="936.9" r="3.0" fill="#B82236" stroke="#A81C26" stroke-width="1.9"/><circle cx="606.8" cy="974.9" r="3.0" fill="#B82236" stroke="#A81C26" stroke-width="1.9"/><circle cx="606.8" cy="977.7" r="3.0" fill="#B82236" stroke="#A81C26" stroke-width="1.9"/><circle cx="606.8" cy="980.5" r="3.0" fill="#B82236" stroke="#A81C26" stroke-width="1.9"/><circle cx="606.8" cy="983.3" r="3.0" fill="#B82236" stroke="#A81C26" stroke-width="1.9"/><circle cx="606.8" cy="986.1" r="3.0" fill="#B82236" stroke="#A81C26" stroke-width="1.9"/><circle cx="606.8" cy="988.9" r="3.0" fill="#B82236" stroke="#A81C26" stroke-width="1.9"/><circle cx="606.8" cy="991.7" r="3.0" fill="#B82236" stroke="#A81C26" stroke-width="1.9"/><circle cx="606.8" cy="994.5" r="3.0" fill="#B82236" stroke="#A81C26" stroke-width="1.9"/><line x1="606.8" x2="606.8" y1="974.9" y2="994.5" stroke="#B82236" stroke-width="3.6" stroke-linecap="round" opacity="0.8"/>
<line x1="620.0" x2="620.0" y1="983.2" y2="1004.8" stroke="#2B318C" stroke-width="3.6"/><rect x="613.4" y="1004.8" width="13.2" height="15.4" fill="#fff" stroke="#2B318C" stroke-width="2.5" stroke-linejoin="round"/><line x1="613.4" x2="626.6" y1="1019.8" y2="1019.8" stroke="#2B318C" stroke-width="3.4"/><circle cx="620.8" cy="961.6" r="3.0" fill="#1C5A9C" stroke="#2B318C" stroke-width="1.9"/><circle cx="620.8" cy="954.4" r="3.0" fill="#1C5A9C" stroke="#2B318C" stroke-width="1.9"/><circle cx="620.8" cy="936.9" r="3.0" fill="#1C5A9C" stroke="#2B318C" stroke-width="1.9"/><circle cx="620.8" cy="968.8" r="3.0" fill="#1C5A9C" stroke="#2B318C" stroke-width="1.9"/><circle cx="620.8" cy="971.4" r="3.0" fill="#1C5A9C" stroke="#2B318C" stroke-width="1.9"/><circle cx="620.8" cy="974.1" r="3.0" fill="#1C5A9C" stroke="#2B318C" stroke-width="1.9"/><circle cx="620.8" cy="976.8" r="3.0" fill="#1C5A9C" stroke="#2B318C" stroke-width="1.9"/><circle cx="620.8" cy="979.5" r="3.0" fill="#1C5A9C" stroke="#2B318C" stroke-width="1.9"/><circle cx="620.8" cy="982.1" r="3.0" fill="#1C5A9C" stroke="#2B318C" stroke-width="1.9"/><line x1="620.8" x2="620.8" y1="968.8" y2="982.1" stroke="#1C5A9C" stroke-width="3.6" stroke-linecap="round" opacity="0.8"/>
<line x1="634.0" x2="634.0" y1="961.6" y2="995.5" stroke="#20AE4A" stroke-width="3.6"/><rect x="627.4" y="995.5" width="13.2" height="24.7" fill="#fff" stroke="#20AE4A" stroke-width="2.5" stroke-linejoin="round"/><line x1="627.4" x2="640.6" y1="1019.2" y2="1019.2" stroke="#20AE4A" stroke-width="3.4"/><circle cx="634.8" cy="940.6" r="3.0" fill="#50BC48" stroke="#20AE4A" stroke-width="1.9"/>
<line x1="658.0" x2="658.0" y1="985.9" y2="1006.4" stroke="#A81C26" stroke-width="3.6"/><rect x="651.4" y="1006.4" width="13.2" height="13.8" fill="#fff" stroke="#A81C26" stroke-width="2.5" stroke-linejoin="round"/><line x1="651.4" x2="664.6" y1="1019.2" y2="1019.2" stroke="#A81C26" stroke-width="3.4"/><circle cx="658.8" cy="971.2" r="3.0" fill="#B82236" stroke="#A81C26" stroke-width="1.9"/><circle cx="658.8" cy="966.1" r="3.0" fill="#B82236" stroke="#A81C26" stroke-width="1.9"/><circle cx="658.8" cy="962.0" r="3.0" fill="#B82236" stroke="#A81C26" stroke-width="1.9"/>
<line x1="672.0" x2="672.0" y1="968.8" y2="999.6" stroke="#2B318C" stroke-width="3.6"/><rect x="665.4" y="999.6" width="13.2" height="20.6" fill="#fff" stroke="#2B318C" stroke-width="2.5" stroke-linejoin="round"/><line x1="665.4" x2="678.6" y1="1014.5" y2="1014.5" stroke="#2B318C" stroke-width="3.4"/><circle cx="672.8" cy="965.7" r="3.0" fill="#1C5A9C" stroke="#2B318C" stroke-width="1.9"/>
<line x1="686.0" x2="686.0" y1="1002.7" y2="1009.9" stroke="#20AE4A" stroke-width="3.6"/><rect x="679.4" y="1009.9" width="13.2" height="10.3" fill="#fff" stroke="#20AE4A" stroke-width="2.5" stroke-linejoin="round"/><line x1="679.4" x2="692.6" y1="1019.2" y2="1019.2" stroke="#20AE4A" stroke-width="3.4"/><circle cx="686.8" cy="974.9" r="3.0" fill="#50BC48" stroke="#20AE4A" stroke-width="1.9"/><circle cx="686.8" cy="977.6" r="3.0" fill="#50BC48" stroke="#20AE4A" stroke-width="1.9"/><circle cx="686.8" cy="980.2" r="3.0" fill="#50BC48" stroke="#20AE4A" stroke-width="1.9"/><circle cx="686.8" cy="982.9" r="3.0" fill="#50BC48" stroke="#20AE4A" stroke-width="1.9"/><circle cx="686.8" cy="985.5" r="3.0" fill="#50BC48" stroke="#20AE4A" stroke-width="1.9"/><circle cx="686.8" cy="988.2" r="3.0" fill="#50BC48" stroke="#20AE4A" stroke-width="1.9"/><circle cx="686.8" cy="990.8" r="3.0" fill="#50BC48" stroke="#20AE4A" stroke-width="1.9"/><circle cx="686.8" cy="993.5" r="3.0" fill="#50BC48" stroke="#20AE4A" stroke-width="1.9"/><line x1="686.8" x2="686.8" y1="974.9" y2="993.5" stroke="#50BC48" stroke-width="3.6" stroke-linecap="round" opacity="0.8"/>
<polygon points="703.2,1020.2 704.9,1017.0 715.3,1017.0 717.0,1020.2 715.3,1023.4 704.9,1023.4" fill="#B82236" stroke="#A81C26" stroke-width="1.4" stroke-linejoin="round"/><circle cx="710.9" cy="978.0" r="3.0" fill="#B82236" stroke="#A81C26" stroke-width="1.9"/><circle cx="710.9" cy="971.9" r="3.0" fill="#B82236" stroke="#A81C26" stroke-width="1.9"/><circle cx="710.9" cy="995.5" r="3.0" fill="#B82236" stroke="#A81C26" stroke-width="1.9"/><circle cx="710.9" cy="998.3" r="3.0" fill="#B82236" stroke="#A81C26" stroke-width="1.9"/><circle cx="710.9" cy="1001.0" r="3.0" fill="#B82236" stroke="#A81C26" stroke-width="1.9"/><circle cx="710.9" cy="1003.8" r="3.0" fill="#B82236" stroke="#A81C26" stroke-width="1.9"/><circle cx="710.9" cy="1006.5" r="3.0" fill="#B82236" stroke="#A81C26" stroke-width="1.9"/><circle cx="710.9" cy="1009.3" r="3.0" fill="#B82236" stroke="#A81C26" stroke-width="1.9"/><circle cx="710.9" cy="1012.0" r="3.0" fill="#B82236" stroke="#A81C26" stroke-width="1.9"/><circle cx="710.9" cy="1014.7" r="3.0" fill="#B82236" stroke="#A81C26" stroke-width="1.9"/><circle cx="710.9" cy="1017.5" r="3.0" fill="#B82236" stroke="#A81C26" stroke-width="1.9"/><circle cx="710.9" cy="1020.2" r="3.0" fill="#B82236" stroke="#A81C26" stroke-width="1.9"/><line x1="710.9" x2="710.9" y1="995.5" y2="1020.2" stroke="#B82236" stroke-width="3.6" stroke-linecap="round" opacity="0.8"/>
<polygon points="717.2,1020.2 718.9,1017.0 729.3,1017.0 731.0,1020.2 729.3,1023.4 718.9,1023.4" fill="#1C5A9C" stroke="#2B318C" stroke-width="1.4" stroke-linejoin="round"/><circle cx="724.9" cy="997.6" r="3.0" fill="#1C5A9C" stroke="#2B318C" stroke-width="1.9"/><circle cx="724.9" cy="991.4" r="3.0" fill="#1C5A9C" stroke="#2B318C" stroke-width="1.9"/><circle cx="724.9" cy="983.8" r="3.0" fill="#1C5A9C" stroke="#2B318C" stroke-width="1.9"/><circle cx="724.9" cy="1014.1" r="3.0" fill="#1C5A9C" stroke="#2B318C" stroke-width="1.9"/><circle cx="724.9" cy="1017.1" r="3.0" fill="#1C5A9C" stroke="#2B318C" stroke-width="1.9"/><circle cx="724.9" cy="1020.2" r="3.0" fill="#1C5A9C" stroke="#2B318C" stroke-width="1.9"/><line x1="724.9" x2="724.9" y1="1014.1" y2="1020.2" stroke="#1C5A9C" stroke-width="3.6" stroke-linecap="round" opacity="0.8"/>
<polygon points="731.2,1020.2 732.9,1017.0 743.3,1017.0 745.0,1020.2 743.3,1023.4 732.9,1023.4" fill="#50BC48" stroke="#20AE4A" stroke-width="1.4" stroke-linejoin="round"/><circle cx="738.9" cy="997.6" r="3.0" fill="#50BC48" stroke="#20AE4A" stroke-width="1.9"/><circle cx="738.9" cy="1000.4" r="3.0" fill="#50BC48" stroke="#20AE4A" stroke-width="1.9"/><circle cx="738.9" cy="1003.2" r="3.0" fill="#50BC48" stroke="#20AE4A" stroke-width="1.9"/><circle cx="738.9" cy="1006.1" r="3.0" fill="#50BC48" stroke="#20AE4A" stroke-width="1.9"/><circle cx="738.9" cy="1008.9" r="3.0" fill="#50BC48" stroke="#20AE4A" stroke-width="1.9"/><circle cx="738.9" cy="1011.7" r="3.0" fill="#50BC48" stroke="#20AE4A" stroke-width="1.9"/><circle cx="738.9" cy="1014.6" r="3.0" fill="#50BC48" stroke="#20AE4A" stroke-width="1.9"/><circle cx="738.9" cy="1017.4" r="3.0" fill="#50BC48" stroke="#20AE4A" stroke-width="1.9"/><circle cx="738.9" cy="1020.2" r="3.0" fill="#50BC48" stroke="#20AE4A" stroke-width="1.9"/><line x1="738.9" x2="738.9" y1="997.6" y2="1020.2" stroke="#50BC48" stroke-width="3.6" stroke-linecap="round" opacity="0.8"/>
<line x1="762.1" x2="762.1" y1="837.4" y2="945.1" stroke="#A81C26" stroke-width="3.6"/><rect x="755.5" y="945.1" width="13.2" height="75.1" fill="#fff" stroke="#A81C26" stroke-width="2.5" stroke-linejoin="round"/><line x1="755.5" x2="768.7" y1="1003.4" y2="1003.4" stroke="#A81C26" stroke-width="3.4"/>
<line x1="776.1" x2="776.1" y1="841.8" y2="941.0" stroke="#2B318C" stroke-width="3.6"/><line x1="776.1" x2="776.1" y1="1019.2" y2="1020.2" stroke="#2B318C" stroke-width="3.6"/><rect x="769.5" y="941.0" width="13.2" height="78.2" fill="#fff" stroke="#2B318C" stroke-width="2.5" stroke-linejoin="round"/><line x1="769.5" x2="782.7" y1="982.1" y2="982.1" stroke="#2B318C" stroke-width="3.4"/>
<line x1="790.1" x2="790.1" y1="879.2" y2="952.3" stroke="#20AE4A" stroke-width="3.6"/><rect x="783.5" y="952.3" width="13.2" height="67.9" fill="#fff" stroke="#20AE4A" stroke-width="2.5" stroke-linejoin="round"/><line x1="783.5" x2="796.7" y1="987.9" y2="987.9" stroke="#20AE4A" stroke-width="3.4"/>
<line x1="814.2" x2="814.2" y1="847.3" y2="901.3" stroke="#A81C26" stroke-width="3.6"/><line x1="814.2" x2="814.2" y1="949.8" y2="993.1" stroke="#A81C26" stroke-width="3.6"/><rect x="807.6" y="901.3" width="13.2" height="48.6" fill="#fff" stroke="#A81C26" stroke-width="2.5" stroke-linejoin="round"/><line x1="807.6" x2="820.8" y1="929.7" y2="929.7" stroke="#A81C26" stroke-width="3.4"/><circle cx="815.0" cy="805.5" r="3.0" fill="#B82236" stroke="#A81C26" stroke-width="1.9"/>
<line x1="828.2" x2="828.2" y1="849.4" y2="899.8" stroke="#2B318C" stroke-width="3.6"/><line x1="828.2" x2="828.2" y1="950.2" y2="995.5" stroke="#2B318C" stroke-width="3.6"/><rect x="821.6" y="899.8" width="13.2" height="50.4" fill="#fff" stroke="#2B318C" stroke-width="2.5" stroke-linejoin="round"/><line x1="821.6" x2="834.8" y1="922.5" y2="922.5" stroke="#2B318C" stroke-width="3.4"/><circle cx="829.0" cy="817.1" r="3.0" fill="#1C5A9C" stroke="#2B318C" stroke-width="1.9"/>
<line x1="842.2" x2="842.2" y1="841.1" y2="897.3" stroke="#20AE4A" stroke-width="3.6"/><line x1="842.2" x2="842.2" y1="945.7" y2="1000.7" stroke="#20AE4A" stroke-width="3.6"/><rect x="835.6" y="897.3" width="13.2" height="48.4" fill="#fff" stroke="#20AE4A" stroke-width="2.5" stroke-linejoin="round"/><line x1="835.6" x2="848.8" y1="926.2" y2="926.2" stroke="#20AE4A" stroke-width="3.4"/>
<line x1="866.2" x2="866.2" y1="751.0" y2="819.5" stroke="#A81C26" stroke-width="3.6"/><line x1="866.2" x2="866.2" y1="875.5" y2="930.1" stroke="#A81C26" stroke-width="3.6"/><rect x="859.6" y="819.5" width="13.2" height="56.0" fill="#fff" stroke="#A81C26" stroke-width="2.5" stroke-linejoin="round"/><line x1="859.6" x2="872.8" y1="852.9" y2="852.9" stroke="#A81C26" stroke-width="3.4"/><circle cx="867.0" cy="736.2" r="3.0" fill="#B82236" stroke="#A81C26" stroke-width="1.9"/><circle cx="867.0" cy="702.2" r="3.0" fill="#B82236" stroke="#A81C26" stroke-width="1.9"/><circle cx="867.0" cy="691.3" r="3.0" fill="#B82236" stroke="#A81C26" stroke-width="1.9"/>
<line x1="880.2" x2="880.2" y1="771.2" y2="841.6" stroke="#2B318C" stroke-width="3.6"/><line x1="880.2" x2="880.2" y1="893.0" y2="959.9" stroke="#2B318C" stroke-width="3.6"/><rect x="873.6" y="841.6" width="13.2" height="51.5" fill="#fff" stroke="#2B318C" stroke-width="2.5" stroke-linejoin="round"/><line x1="873.6" x2="886.8" y1="862.8" y2="862.8" stroke="#2B318C" stroke-width="3.4"/><circle cx="881.0" cy="750.0" r="3.0" fill="#1C5A9C" stroke="#2B318C" stroke-width="1.9"/><circle cx="881.0" cy="972.9" r="3.0" fill="#1C5A9C" stroke="#2B318C" stroke-width="1.9"/>
<line x1="894.2" x2="894.2" y1="793.4" y2="848.3" stroke="#20AE4A" stroke-width="3.6"/><line x1="894.2" x2="894.2" y1="890.1" y2="947.2" stroke="#20AE4A" stroke-width="3.6"/><rect x="887.6" y="848.3" width="13.2" height="41.8" fill="#fff" stroke="#20AE4A" stroke-width="2.5" stroke-linejoin="round"/><line x1="887.6" x2="900.8" y1="867.3" y2="867.3" stroke="#20AE4A" stroke-width="3.4"/><circle cx="895.0" cy="734.7" r="3.0" fill="#50BC48" stroke="#20AE4A" stroke-width="1.9"/><circle cx="895.0" cy="951.3" r="3.0" fill="#50BC48" stroke="#20AE4A" stroke-width="1.9"/><circle cx="895.0" cy="973.3" r="3.0" fill="#50BC48" stroke="#20AE4A" stroke-width="1.9"/><circle cx="895.0" cy="990.4" r="3.0" fill="#50BC48" stroke="#20AE4A" stroke-width="1.9"/>
<line x1="918.2" x2="918.2" y1="919.4" y2="963.2" stroke="#A81C26" stroke-width="3.6"/><line x1="918.2" x2="918.2" y1="1003.4" y2="1019.8" stroke="#A81C26" stroke-width="3.6"/><rect x="911.6" y="963.2" width="13.2" height="40.1" fill="#fff" stroke="#A81C26" stroke-width="2.5" stroke-linejoin="round"/><line x1="911.6" x2="924.8" y1="987.3" y2="987.3" stroke="#A81C26" stroke-width="3.4"/><circle cx="919.0" cy="900.8" r="3.0" fill="#B82236" stroke="#A81C26" stroke-width="1.9"/><circle cx="919.0" cy="893.2" r="3.0" fill="#B82236" stroke="#A81C26" stroke-width="1.9"/><circle cx="919.0" cy="877.2" r="3.0" fill="#B82236" stroke="#A81C26" stroke-width="1.9"/>
<line x1="932.2" x2="932.2" y1="926.2" y2="970.2" stroke="#2B318C" stroke-width="3.6"/><line x1="932.2" x2="932.2" y1="1007.9" y2="1019.8" stroke="#2B318C" stroke-width="3.6"/><rect x="925.6" y="970.2" width="13.2" height="37.7" fill="#fff" stroke="#2B318C" stroke-width="2.5" stroke-linejoin="round"/><line x1="925.6" x2="938.8" y1="984.2" y2="984.2" stroke="#2B318C" stroke-width="3.4"/><circle cx="933.0" cy="912.6" r="3.0" fill="#1C5A9C" stroke="#2B318C" stroke-width="1.9"/><circle cx="933.0" cy="873.1" r="3.0" fill="#1C5A9C" stroke="#2B318C" stroke-width="1.9"/>
<line x1="946.2" x2="946.2" y1="909.1" y2="963.0" stroke="#20AE4A" stroke-width="3.6"/><line x1="946.2" x2="946.2" y1="1001.7" y2="1019.8" stroke="#20AE4A" stroke-width="3.6"/><rect x="939.6" y="963.0" width="13.2" height="38.7" fill="#fff" stroke="#20AE4A" stroke-width="2.5" stroke-linejoin="round"/><line x1="939.6" x2="952.8" y1="986.3" y2="986.3" stroke="#20AE4A" stroke-width="3.4"/><circle cx="947.0" cy="884.4" r="3.0" fill="#50BC48" stroke="#20AE4A" stroke-width="1.9"/><circle cx="947.0" cy="881.3" r="3.0" fill="#50BC48" stroke="#20AE4A" stroke-width="1.9"/><circle cx="947.0" cy="878.2" r="3.0" fill="#50BC48" stroke="#20AE4A" stroke-width="1.9"/>
<line x1="970.3" x2="970.3" y1="916.3" y2="963.2" stroke="#A81C26" stroke-width="3.6"/><line x1="970.3" x2="970.3" y1="998.2" y2="1019.8" stroke="#A81C26" stroke-width="3.6"/><rect x="963.7" y="963.2" width="13.2" height="35.0" fill="#fff" stroke="#A81C26" stroke-width="2.5" stroke-linejoin="round"/><line x1="963.7" x2="976.9" y1="982.1" y2="982.1" stroke="#A81C26" stroke-width="3.4"/><circle cx="971.1" cy="899.4" r="3.0" fill="#B82236" stroke="#A81C26" stroke-width="1.9"/>
<line x1="984.3" x2="984.3" y1="900.4" y2="942.6" stroke="#2B318C" stroke-width="3.6"/><line x1="984.3" x2="984.3" y1="985.2" y2="1017.1" stroke="#2B318C" stroke-width="3.6"/><rect x="977.7" y="942.6" width="13.2" height="42.6" fill="#fff" stroke="#2B318C" stroke-width="2.5" stroke-linejoin="round"/><line x1="977.7" x2="990.9" y1="963.6" y2="963.6" stroke="#2B318C" stroke-width="3.4"/><circle cx="985.1" cy="850.4" r="3.0" fill="#1C5A9C" stroke="#2B318C" stroke-width="1.9"/><circle cx="985.1" cy="759.8" r="3.0" fill="#1C5A9C" stroke="#2B318C" stroke-width="1.9"/>
<line x1="998.3" x2="998.3" y1="916.3" y2="953.3" stroke="#20AE4A" stroke-width="3.6"/><line x1="998.3" x2="998.3" y1="988.9" y2="1019.2" stroke="#20AE4A" stroke-width="3.6"/><rect x="991.7" y="953.3" width="13.2" height="35.6" fill="#fff" stroke="#20AE4A" stroke-width="2.5" stroke-linejoin="round"/><line x1="991.7" x2="1004.9" y1="972.9" y2="972.9" stroke="#20AE4A" stroke-width="3.4"/><circle cx="999.1" cy="897.8" r="3.0" fill="#50BC48" stroke="#20AE4A" stroke-width="1.9"/><circle cx="999.1" cy="890.1" r="3.0" fill="#50BC48" stroke="#20AE4A" stroke-width="1.9"/>
<line x1="1022.3" x2="1022.3" y1="922.5" y2="977.6" stroke="#A81C26" stroke-width="3.6"/><rect x="1015.7" y="977.6" width="13.2" height="42.6" fill="#fff" stroke="#A81C26" stroke-width="2.5" stroke-linejoin="round"/><line x1="1015.7" x2="1028.9" y1="1004.4" y2="1004.4" stroke="#A81C26" stroke-width="3.4"/><circle cx="1023.1" cy="880.3" r="3.0" fill="#B82236" stroke="#A81C26" stroke-width="1.9"/><circle cx="1023.1" cy="877.6" r="3.0" fill="#B82236" stroke="#A81C26" stroke-width="1.9"/>
<line x1="1036.3" x2="1036.3" y1="966.7" y2="996.6" stroke="#2B318C" stroke-width="3.6"/><rect x="1029.7" y="996.6" width="13.2" height="23.7" fill="#fff" stroke="#2B318C" stroke-width="2.5" stroke-linejoin="round"/><line x1="1029.7" x2="1042.9" y1="1019.2" y2="1019.2" stroke="#2B318C" stroke-width="3.4"/><circle cx="1037.1" cy="958.5" r="3.0" fill="#1C5A9C" stroke="#2B318C" stroke-width="1.9"/><circle cx="1037.1" cy="954.4" r="3.0" fill="#1C5A9C" stroke="#2B318C" stroke-width="1.9"/><circle cx="1037.1" cy="942.6" r="3.0" fill="#1C5A9C" stroke="#2B318C" stroke-width="1.9"/><circle cx="1037.1" cy="912.2" r="3.0" fill="#1C5A9C" stroke="#2B318C" stroke-width="1.9"/><circle cx="1037.1" cy="908.5" r="3.0" fill="#1C5A9C" stroke="#2B318C" stroke-width="1.9"/><circle cx="1037.1" cy="793.2" r="3.0" fill="#1C5A9C" stroke="#2B318C" stroke-width="1.9"/>
<line x1="1050.3" x2="1050.3" y1="954.8" y2="990.4" stroke="#20AE4A" stroke-width="3.6"/><rect x="1043.7" y="990.4" width="13.2" height="29.8" fill="#fff" stroke="#20AE4A" stroke-width="2.5" stroke-linejoin="round"/><line x1="1043.7" x2="1056.9" y1="1019.2" y2="1019.2" stroke="#20AE4A" stroke-width="3.4"/><circle cx="1051.1" cy="943.7" r="3.0" fill="#50BC48" stroke="#20AE4A" stroke-width="1.9"/><circle cx="1051.1" cy="938.9" r="3.0" fill="#50BC48" stroke="#20AE4A" stroke-width="1.9"/><circle cx="1051.1" cy="931.7" r="3.0" fill="#50BC48" stroke="#20AE4A" stroke-width="1.9"/>
<line x1="1074.4" x2="1074.4" y1="883.3" y2="958.5" stroke="#A81C26" stroke-width="3.6"/><rect x="1067.8" y="958.5" width="13.2" height="61.8" fill="#fff" stroke="#A81C26" stroke-width="2.5" stroke-linejoin="round"/><line x1="1067.8" x2="1081.0" y1="995.1" y2="995.1" stroke="#A81C26" stroke-width="3.4"/><circle cx="1075.2" cy="865.8" r="3.0" fill="#B82236" stroke="#A81C26" stroke-width="1.9"/><circle cx="1075.2" cy="862.8" r="3.0" fill="#B82236" stroke="#A81C26" stroke-width="1.9"/><circle cx="1075.2" cy="859.7" r="3.0" fill="#B82236" stroke="#A81C26" stroke-width="1.9"/>
<line x1="1088.4" x2="1088.4" y1="851.4" y2="942.6" stroke="#2B318C" stroke-width="3.6"/><line x1="1088.4" x2="1088.4" y1="1011.0" y2="1019.8" stroke="#2B318C" stroke-width="3.6"/><rect x="1081.8" y="942.6" width="13.2" height="68.3" fill="#fff" stroke="#2B318C" stroke-width="2.5" stroke-linejoin="round"/><line x1="1081.8" x2="1095.0" y1="972.3" y2="972.3" stroke="#2B318C" stroke-width="3.4"/><circle cx="1089.2" cy="825.1" r="3.0" fill="#1C5A9C" stroke="#2B318C" stroke-width="1.9"/><circle cx="1089.2" cy="806.2" r="3.0" fill="#1C5A9C" stroke="#2B318C" stroke-width="1.9"/><circle cx="1089.2" cy="765.6" r="3.0" fill="#1C5A9C" stroke="#2B318C" stroke-width="1.9"/>
<line x1="1102.4" x2="1102.4" y1="836.6" y2="945.1" stroke="#20AE4A" stroke-width="3.6"/><rect x="1095.8" y="945.1" width="13.2" height="75.1" fill="#fff" stroke="#20AE4A" stroke-width="2.5" stroke-linejoin="round"/><line x1="1095.8" x2="1109.0" y1="982.1" y2="982.1" stroke="#20AE4A" stroke-width="3.4"/><circle cx="1103.2" cy="826.7" r="3.0" fill="#50BC48" stroke="#20AE4A" stroke-width="1.9"/><circle cx="1103.2" cy="811.9" r="3.0" fill="#50BC48" stroke="#20AE4A" stroke-width="1.9"/><circle cx="1103.2" cy="783.7" r="3.0" fill="#50BC48" stroke="#20AE4A" stroke-width="1.9"/>
<line x1="1126.4" x2="1126.4" y1="858.6" y2="943.0" stroke="#A81C26" stroke-width="3.6"/><line x1="1126.4" x2="1126.4" y1="1003.4" y2="1019.8" stroke="#A81C26" stroke-width="3.6"/><rect x="1119.8" y="943.0" width="13.2" height="60.3" fill="#fff" stroke="#A81C26" stroke-width="2.5" stroke-linejoin="round"/><line x1="1119.8" x2="1133.0" y1="969.8" y2="969.8" stroke="#A81C26" stroke-width="3.4"/>
<line x1="1140.4" x2="1140.4" y1="919.0" y2="979.1" stroke="#2B318C" stroke-width="3.6"/><rect x="1133.8" y="979.1" width="13.2" height="41.2" fill="#fff" stroke="#2B318C" stroke-width="2.5" stroke-linejoin="round"/><line x1="1133.8" x2="1147.0" y1="1001.1" y2="1001.1" stroke="#2B318C" stroke-width="3.4"/>
<line x1="1154.4" x2="1154.4" y1="896.7" y2="950.9" stroke="#20AE4A" stroke-width="3.6"/><line x1="1154.4" x2="1154.4" y1="1006.9" y2="1019.8" stroke="#20AE4A" stroke-width="3.6"/><rect x="1147.8" y="950.9" width="13.2" height="56.0" fill="#fff" stroke="#20AE4A" stroke-width="2.5" stroke-linejoin="round"/><line x1="1147.8" x2="1161.0" y1="979.1" y2="979.1" stroke="#20AE4A" stroke-width="3.4"/>
<line x1="1178.4" x2="1178.4" y1="843.6" y2="903.9" stroke="#A81C26" stroke-width="3.6"/><line x1="1178.4" x2="1178.4" y1="986.9" y2="1019.8" stroke="#A81C26" stroke-width="3.6"/><rect x="1171.8" y="903.9" width="13.2" height="83.0" fill="#fff" stroke="#A81C26" stroke-width="2.5" stroke-linejoin="round"/><line x1="1171.8" x2="1185.0" y1="962.2" y2="962.2" stroke="#A81C26" stroke-width="3.4"/>
<line x1="1192.4" x2="1192.4" y1="847.7" y2="922.9" stroke="#2B318C" stroke-width="3.6"/><line x1="1192.4" x2="1192.4" y1="978.6" y2="1019.8" stroke="#2B318C" stroke-width="3.6"/><rect x="1185.8" y="922.9" width="13.2" height="55.8" fill="#fff" stroke="#2B318C" stroke-width="2.5" stroke-linejoin="round"/><line x1="1185.8" x2="1199.0" y1="951.3" y2="951.3" stroke="#2B318C" stroke-width="3.4"/><circle cx="1193.2" cy="836.6" r="3.0" fill="#1C5A9C" stroke="#2B318C" stroke-width="1.9"/>
<line x1="1206.4" x2="1206.4" y1="849.8" y2="921.8" stroke="#20AE4A" stroke-width="3.6"/><line x1="1206.4" x2="1206.4" y1="974.9" y2="1019.2" stroke="#20AE4A" stroke-width="3.6"/><rect x="1199.8" y="921.8" width="13.2" height="53.1" fill="#fff" stroke="#20AE4A" stroke-width="2.5" stroke-linejoin="round"/><line x1="1199.8" x2="1213.0" y1="950.7" y2="950.7" stroke="#20AE4A" stroke-width="3.4"/><circle cx="1207.2" cy="831.9" r="3.0" fill="#50BC48" stroke="#20AE4A" stroke-width="1.9"/><circle cx="1207.2" cy="817.9" r="3.0" fill="#50BC48" stroke="#20AE4A" stroke-width="1.9"/><circle cx="1207.2" cy="801.6" r="3.0" fill="#50BC48" stroke="#20AE4A" stroke-width="1.9"/>
<path d="M68.7 671.0 V1036.8 H1223.0" fill="none" stroke="#000" stroke-width="1.8" stroke-linejoin="miter"/>
<line x1="63.5" x2="68.7" y1="1020.2" y2="1020.2" stroke="#000" stroke-width="1.8"/>
<text x="59.2" y="1026.8" text-anchor="end" class="t">0.0</text>
<line x1="63.5" x2="68.7" y1="915.9" y2="915.9" stroke="#000" stroke-width="1.8"/>
<text x="59.2" y="922.5" text-anchor="end" class="t">0.1</text>
<line x1="63.5" x2="68.7" y1="811.7" y2="811.7" stroke="#000" stroke-width="1.8"/>
<text x="59.2" y="818.3" text-anchor="end" class="t">0.2</text>
<line x1="63.5" x2="68.7" y1="706.9" y2="706.9" stroke="#000" stroke-width="1.8"/>
<text x="59.2" y="713.5" text-anchor="end" class="t">0.3</text>
<line x1="99.6" x2="99.6" y1="1036.8" y2="1042.4" stroke="#000" stroke-width="1.8"/>
<line x1="151.6" x2="151.6" y1="1036.8" y2="1042.4" stroke="#000" stroke-width="1.8"/>
<line x1="203.7" x2="203.7" y1="1036.8" y2="1042.4" stroke="#000" stroke-width="1.8"/>
<line x1="255.7" x2="255.7" y1="1036.8" y2="1042.4" stroke="#000" stroke-width="1.8"/>
<line x1="307.8" x2="307.8" y1="1036.8" y2="1042.4" stroke="#000" stroke-width="1.8"/>
<line x1="359.8" x2="359.8" y1="1036.8" y2="1042.4" stroke="#000" stroke-width="1.8"/>
<line x1="411.8" x2="411.8" y1="1036.8" y2="1042.4" stroke="#000" stroke-width="1.8"/>
<line x1="463.9" x2="463.9" y1="1036.8" y2="1042.4" stroke="#000" stroke-width="1.8"/>
<line x1="515.9" x2="515.9" y1="1036.8" y2="1042.4" stroke="#000" stroke-width="1.8"/>
<line x1="568.0" x2="568.0" y1="1036.8" y2="1042.4" stroke="#000" stroke-width="1.8"/>
<line x1="620.0" x2="620.0" y1="1036.8" y2="1042.4" stroke="#000" stroke-width="1.8"/>
<line x1="672.0" x2="672.0" y1="1036.8" y2="1042.4" stroke="#000" stroke-width="1.8"/>
<line x1="724.1" x2="724.1" y1="1036.8" y2="1042.4" stroke="#000" stroke-width="1.8"/>
<line x1="776.1" x2="776.1" y1="1036.8" y2="1042.4" stroke="#000" stroke-width="1.8"/>
<line x1="828.2" x2="828.2" y1="1036.8" y2="1042.4" stroke="#000" stroke-width="1.8"/>
<line x1="880.2" x2="880.2" y1="1036.8" y2="1042.4" stroke="#000" stroke-width="1.8"/>
<line x1="932.2" x2="932.2" y1="1036.8" y2="1042.4" stroke="#000" stroke-width="1.8"/>
<line x1="984.3" x2="984.3" y1="1036.8" y2="1042.4" stroke="#000" stroke-width="1.8"/>
<line x1="1036.3" x2="1036.3" y1="1036.8" y2="1042.4" stroke="#000" stroke-width="1.8"/>
<line x1="1088.4" x2="1088.4" y1="1036.8" y2="1042.4" stroke="#000" stroke-width="1.8"/>
<line x1="1140.4" x2="1140.4" y1="1036.8" y2="1042.4" stroke="#000" stroke-width="1.8"/>
<line x1="1192.4" x2="1192.4" y1="1036.8" y2="1042.4" stroke="#000" stroke-width="1.8"/>
<text transform="translate(108.8 1056.5) rotate(-45)" text-anchor="end" class="t">B_cells_naive</text>
<text transform="translate(160.8 1056.5) rotate(-45)" text-anchor="end" class="t">B_cells_memory</text>
<text transform="translate(212.9 1056.5) rotate(-45)" text-anchor="end" class="t">Plasma_cells</text>
<text transform="translate(264.9 1056.5) rotate(-45)" text-anchor="end" class="t">T_cells_CD8</text>
<text transform="translate(317.0 1056.5) rotate(-45)" text-anchor="end" class="t">T_cells_CD4_naive</text>
<text transform="translate(369.0 1056.5) rotate(-45)" text-anchor="end" class="t">T_cells_CD4_memory_resting</text>
<text transform="translate(421.0 1056.5) rotate(-45)" text-anchor="end" class="t">T_cells_CD4_memory_activated</text>
<text transform="translate(473.1 1056.5) rotate(-45)" text-anchor="end" class="t">T_cells_follicular_helper</text>
<text transform="translate(525.1 1056.5) rotate(-45)" text-anchor="end" class="t">T_cells_regulatory_.Tregs.</text>
<text transform="translate(577.2 1056.5) rotate(-45)" text-anchor="end" class="t">T_cells_gamma_delta</text>
<text transform="translate(629.2 1056.5) rotate(-45)" text-anchor="end" class="t">NK_cells_resting</text>
<text transform="translate(681.2 1056.5) rotate(-45)" text-anchor="end" class="t">NK_cells_activated</text>
<text transform="translate(733.3 1056.5) rotate(-45)" text-anchor="end" class="t">Monocytes</text>
<text transform="translate(785.3 1056.5) rotate(-45)" text-anchor="end" class="t">Macrophages_M0</text>
<text transform="translate(837.4 1056.5) rotate(-45)" text-anchor="end" class="t">Macrophages_M1</text>
<text transform="translate(889.4 1056.5) rotate(-45)" text-anchor="end" class="t">Macrophages_M2</text>
<text transform="translate(941.4 1056.5) rotate(-45)" text-anchor="end" class="t">Dendritic_cells_resting</text>
<text transform="translate(993.5 1056.5) rotate(-45)" text-anchor="end" class="t">Dendritic_cells_activated</text>
<text transform="translate(1045.5 1056.5) rotate(-45)" text-anchor="end" class="t">Mast_cells_resting</text>
<text transform="translate(1097.6 1056.5) rotate(-45)" text-anchor="end" class="t">Mast_cells_activated</text>
<text transform="translate(1149.6 1056.5) rotate(-45)" text-anchor="end" class="t">Eosinophils</text>
<text transform="translate(1201.6 1056.5) rotate(-45)" text-anchor="end" class="t">Neutrophils</text>
<text x="99.6" y="687.6" text-anchor="middle" class="s" style="font-size:19.5px">ns</text>
<text x="151.6" y="687.6" text-anchor="middle" class="s" style="font-size:19.5px">ns</text>
<text x="203.7" y="687.2" text-anchor="middle" class="s" style="font-size:18.3px">***</text>
<text x="255.7" y="687.6" text-anchor="middle" class="s" style="font-size:19.5px">ns</text>
<text x="307.8" y="687.6" text-anchor="middle" class="s" style="font-size:19.5px">ns</text>
<text x="359.8" y="687.6" text-anchor="middle" class="s" style="font-size:19.5px">ns</text>
<text x="411.8" y="687.2" text-anchor="middle" class="s" style="font-size:18.3px">**</text>
<text x="463.9" y="687.6" text-anchor="middle" class="s" style="font-size:19.5px">ns</text>
<text x="515.9" y="687.2" text-anchor="middle" class="s" style="font-size:18.3px">*</text>
<text x="568.0" y="687.2" text-anchor="middle" class="s" style="font-size:18.3px">****</text>
<text x="620.0" y="687.6" text-anchor="middle" class="s" style="font-size:19.5px">ns</text>
<text x="672.0" y="687.2" text-anchor="middle" class="s" style="font-size:18.3px">**</text>
<text x="724.1" y="687.2" text-anchor="middle" class="s" style="font-size:18.3px">*</text>
<text x="776.1" y="687.6" text-anchor="middle" class="s" style="font-size:19.5px">ns</text>
<text x="828.2" y="687.6" text-anchor="middle" class="s" style="font-size:19.5px">ns</text>
<text x="880.2" y="687.2" text-anchor="middle" class="s" style="font-size:18.3px">**</text>
<text x="932.2" y="687.6" text-anchor="middle" class="s" style="font-size:19.5px">ns</text>
<text x="984.3" y="687.2" text-anchor="middle" class="s" style="font-size:18.3px">***</text>
<text x="1036.3" y="687.6" text-anchor="middle" class="s" style="font-size:19.5px">ns</text>
<text x="1088.4" y="687.2" text-anchor="middle" class="s" style="font-size:18.3px">*</text>
<text x="1140.4" y="687.2" text-anchor="middle" class="s" style="font-size:18.3px">****</text>
<text x="1192.4" y="687.6" text-anchor="middle" class="s" style="font-size:19.5px">ns</text>
<text transform="translate(25.4 853.5) rotate(-90)" text-anchor="middle" class="t">Estimated Proportion</text>
<text x="10.3" y="654.2" class="p">(C)</text>
</g>
<g id="panelB">
<line x1="1389.4" x2="1389.4" y1="267.6" y2="321.3" stroke="#A81C26" stroke-width="3.6"/><line x1="1389.4" x2="1389.4" y1="375.0" y2="435.1" stroke="#A81C26" stroke-width="3.6"/><rect x="1367.1" y="321.3" width="44.6" height="53.7" fill="#fff" stroke="#A81C26" stroke-width="2.5" stroke-linejoin="round"/><line x1="1367.1" x2="1411.7" y1="344.4" y2="344.4" stroke="#A81C26" stroke-width="3.4"/><circle cx="1390.2" cy="454.0" r="3.0" fill="#B82236" stroke="#A81C26" stroke-width="1.9"/><circle cx="1390.2" cy="464.1" r="3.0" fill="#B82236" stroke="#A81C26" stroke-width="1.9"/><circle cx="1390.2" cy="471.4" r="3.0" fill="#B82236" stroke="#A81C26" stroke-width="1.9"/><circle cx="1390.2" cy="473.6" r="3.0" fill="#B82236" stroke="#A81C26" stroke-width="1.9"/>
<line x1="1439.2" x2="1439.2" y1="341.8" y2="405.7" stroke="#2B318C" stroke-width="3.6"/><line x1="1439.2" x2="1439.2" y1="457.2" y2="528.3" stroke="#2B318C" stroke-width="3.6"/><rect x="1416.9" y="405.7" width="44.6" height="51.5" fill="#fff" stroke="#2B318C" stroke-width="2.5" stroke-linejoin="round"/><line x1="1416.9" x2="1461.5" y1="436.0" y2="436.0" stroke="#2B318C" stroke-width="3.4"/><circle cx="1440.0" cy="533.7" r="3.0" fill="#1C5A9C" stroke="#2B318C" stroke-width="1.9"/>
<line x1="1489.0" x2="1489.0" y1="293.5" y2="389.2" stroke="#20AE4A" stroke-width="3.6"/><line x1="1489.0" x2="1489.0" y1="455.9" y2="516.3" stroke="#20AE4A" stroke-width="3.6"/><rect x="1466.7" y="389.2" width="44.6" height="66.7" fill="#fff" stroke="#20AE4A" stroke-width="2.5" stroke-linejoin="round"/><line x1="1466.7" x2="1511.3" y1="417.7" y2="417.7" stroke="#20AE4A" stroke-width="3.4"/>
<line x1="1576.8" x2="1576.8" y1="205.3" y2="270.7" stroke="#A81C26" stroke-width="3.6"/><line x1="1576.8" x2="1576.8" y1="345.0" y2="417.7" stroke="#A81C26" stroke-width="3.6"/><rect x="1554.5" y="270.7" width="44.6" height="74.3" fill="#fff" stroke="#A81C26" stroke-width="2.5" stroke-linejoin="round"/><line x1="1554.5" x2="1599.1" y1="307.7" y2="307.7" stroke="#A81C26" stroke-width="3.4"/>
<line x1="1626.6" x2="1626.6" y1="265.0" y2="338.4" stroke="#2B318C" stroke-width="3.6"/><line x1="1626.6" x2="1626.6" y1="390.8" y2="459.4" stroke="#2B318C" stroke-width="3.6"/><rect x="1604.3" y="338.4" width="44.6" height="52.5" fill="#fff" stroke="#2B318C" stroke-width="2.5" stroke-linejoin="round"/><line x1="1604.3" x2="1648.9" y1="363.3" y2="363.3" stroke="#2B318C" stroke-width="3.4"/><circle cx="1627.4" cy="226.5" r="3.0" fill="#1C5A9C" stroke="#2B318C" stroke-width="1.9"/><circle cx="1627.4" cy="242.6" r="3.0" fill="#1C5A9C" stroke="#2B318C" stroke-width="1.9"/><circle cx="1627.4" cy="244.5" r="3.0" fill="#1C5A9C" stroke="#2B318C" stroke-width="1.9"/><circle cx="1627.4" cy="479.3" r="3.0" fill="#1C5A9C" stroke="#2B318C" stroke-width="1.9"/>
<line x1="1676.4" x2="1676.4" y1="196.1" y2="292.8" stroke="#20AE4A" stroke-width="3.6"/><line x1="1676.4" x2="1676.4" y1="384.5" y2="453.1" stroke="#20AE4A" stroke-width="3.6"/><rect x="1654.1" y="292.8" width="44.6" height="91.7" fill="#fff" stroke="#20AE4A" stroke-width="2.5" stroke-linejoin="round"/><line x1="1654.1" x2="1698.7" y1="331.7" y2="331.7" stroke="#20AE4A" stroke-width="3.4"/>
<line x1="1764.8" x2="1764.8" y1="75.7" y2="194.9" stroke="#A81C26" stroke-width="3.6"/><line x1="1764.8" x2="1764.8" y1="306.1" y2="421.8" stroke="#A81C26" stroke-width="3.6"/><rect x="1742.5" y="194.9" width="44.6" height="111.3" fill="#fff" stroke="#A81C26" stroke-width="2.5" stroke-linejoin="round"/><line x1="1742.5" x2="1787.1" y1="239.1" y2="239.1" stroke="#A81C26" stroke-width="3.4"/><circle cx="1765.6" cy="471.4" r="3.0" fill="#B82236" stroke="#A81C26" stroke-width="1.9"/>
<line x1="1814.6" x2="1814.6" y1="219.2" y2="342.8" stroke="#2B318C" stroke-width="3.6"/><line x1="1814.6" x2="1814.6" y1="434.1" y2="559.9" stroke="#2B318C" stroke-width="3.6"/><rect x="1792.3" y="342.8" width="44.6" height="91.3" fill="#fff" stroke="#2B318C" stroke-width="2.5" stroke-linejoin="round"/><line x1="1792.3" x2="1836.9" y1="389.9" y2="389.9" stroke="#2B318C" stroke-width="3.4"/><circle cx="1815.4" cy="159.5" r="3.0" fill="#1C5A9C" stroke="#2B318C" stroke-width="1.9"/><circle cx="1815.4" cy="571.0" r="3.0" fill="#1C5A9C" stroke="#2B318C" stroke-width="1.9"/><circle cx="1815.4" cy="575.1" r="3.0" fill="#1C5A9C" stroke="#2B318C" stroke-width="1.9"/>
<line x1="1864.4" x2="1864.4" y1="123.1" y2="281.2" stroke="#20AE4A" stroke-width="3.6"/><line x1="1864.4" x2="1864.4" y1="427.8" y2="529.3" stroke="#20AE4A" stroke-width="3.6"/><rect x="1842.1" y="281.2" width="44.6" height="146.6" fill="#fff" stroke="#20AE4A" stroke-width="2.5" stroke-linejoin="round"/><line x1="1842.1" x2="1886.7" y1="347.2" y2="347.2" stroke="#20AE4A" stroke-width="3.4"/>
<path d="M1326.8 50.4 V600.0 H1927.0" fill="none" stroke="#000" stroke-width="1.8" stroke-linejoin="miter"/>
<line x1="1321.6" x2="1326.8" y1="64.8" y2="64.8" stroke="#000" stroke-width="1.8"/>
<text x="1317.6" y="71.4" text-anchor="end" class="t">5000</text>
<line x1="1321.6" x2="1326.8" y1="236.9" y2="236.9" stroke="#000" stroke-width="1.8"/>
<text x="1317.6" y="243.5" text-anchor="end" class="t">2500</text>
<line x1="1321.6" x2="1326.8" y1="408.2" y2="408.2" stroke="#000" stroke-width="1.8"/>
<text x="1317.6" y="414.8" text-anchor="end" class="t">0</text>
<line x1="1321.6" x2="1326.8" y1="579.8" y2="579.8" stroke="#000" stroke-width="1.8"/>
<text x="1317.6" y="586.4" text-anchor="end" class="t">−2500</text>
<line x1="1439.2" x2="1439.2" y1="600.0" y2="605.6" stroke="#000" stroke-width="1.8"/>
<line x1="1626.6" x2="1626.6" y1="600.0" y2="605.6" stroke="#000" stroke-width="1.8"/>
<line x1="1814.6" x2="1814.6" y1="600.0" y2="605.6" stroke="#000" stroke-width="1.8"/>
<text x="1439.2" y="622.9" text-anchor="middle" class="t" style="font-size:20.4px">StromalScore</text>
<text x="1626.6" y="622.9" text-anchor="middle" class="t" style="font-size:20.4px">ImmuneScore</text>
<text x="1814.6" y="622.9" text-anchor="middle" class="t" style="font-size:20.4px">ESTIMATEScore</text>
<text x="1439.2" y="75.3" text-anchor="middle" class="s" style="font-size:18.3px">****</text>
<text x="1626.6" y="75.3" text-anchor="middle" class="s" style="font-size:18.3px">****</text>
<text x="1814.6" y="75.3" text-anchor="middle" class="s" style="font-size:18.3px">****</text>
<text transform="translate(1256.5 325.3) rotate(-90)" text-anchor="middle" class="t">Estimated Proportion</text>
<text x="1235.2" y="34.9" class="p">(B)</text>
</g>
<g id="panelD">
<line x1="1379.0" x2="1379.0" y1="919.8" y2="975.1" stroke="#A81C26" stroke-width="3.6"/><line x1="1379.0" x2="1379.0" y1="1036.1" y2="1112.6" stroke="#A81C26" stroke-width="3.6"/><rect x="1356.4" y="975.1" width="45.2" height="61.0" fill="#fff" stroke="#A81C26" stroke-width="2.5" stroke-linejoin="round"/><line x1="1356.4" x2="1401.6" y1="1005.1" y2="1005.1" stroke="#A81C26" stroke-width="3.4"/><circle cx="1379.8" cy="1125.2" r="3.0" fill="#B82236" stroke="#A81C26" stroke-width="1.9"/><circle cx="1379.8" cy="1133.5" r="3.0" fill="#B82236" stroke="#A81C26" stroke-width="1.9"/>
<line x1="1430.0" x2="1430.0" y1="1028.8" y2="1078.8" stroke="#2B318C" stroke-width="3.6"/><line x1="1430.0" x2="1430.0" y1="1120.5" y2="1179.9" stroke="#2B318C" stroke-width="3.6"/><rect x="1407.4" y="1078.8" width="45.2" height="41.7" fill="#fff" stroke="#2B318C" stroke-width="2.5" stroke-linejoin="round"/><line x1="1407.4" x2="1452.6" y1="1097.7" y2="1097.7" stroke="#2B318C" stroke-width="3.4"/><circle cx="1430.8" cy="975.4" r="3.0" fill="#1C5A9C" stroke="#2B318C" stroke-width="1.9"/><circle cx="1430.8" cy="1002.3" r="3.0" fill="#1C5A9C" stroke="#2B318C" stroke-width="1.9"/><circle cx="1430.8" cy="1008.6" r="3.0" fill="#1C5A9C" stroke="#2B318C" stroke-width="1.9"/>
<line x1="1481.0" x2="1481.0" y1="980.8" y2="1047.8" stroke="#20AE4A" stroke-width="3.6"/><line x1="1481.0" x2="1481.0" y1="1098.7" y2="1148.3" stroke="#20AE4A" stroke-width="3.6"/><rect x="1458.4" y="1047.8" width="45.2" height="50.9" fill="#fff" stroke="#20AE4A" stroke-width="2.5" stroke-linejoin="round"/><line x1="1458.4" x2="1503.6" y1="1067.7" y2="1067.7" stroke="#20AE4A" stroke-width="3.4"/><circle cx="1481.8" cy="1187.2" r="3.0" fill="#50BC48" stroke="#20AE4A" stroke-width="1.9"/>
<line x1="1569.9" x2="1569.9" y1="846.5" y2="918.2" stroke="#A81C26" stroke-width="3.6"/><line x1="1569.9" x2="1569.9" y1="971.9" y2="1031.4" stroke="#A81C26" stroke-width="3.6"/><rect x="1547.3" y="918.2" width="45.2" height="53.7" fill="#fff" stroke="#A81C26" stroke-width="2.5" stroke-linejoin="round"/><line x1="1547.3" x2="1592.5" y1="945.1" y2="945.1" stroke="#A81C26" stroke-width="3.4"/>
<line x1="1620.9" x2="1620.9" y1="881.2" y2="971.3" stroke="#2B318C" stroke-width="3.6"/><line x1="1620.9" x2="1620.9" y1="1049.4" y2="1116.7" stroke="#2B318C" stroke-width="3.6"/><rect x="1598.3" y="971.3" width="45.2" height="78.1" fill="#fff" stroke="#2B318C" stroke-width="2.5" stroke-linejoin="round"/><line x1="1598.3" x2="1643.5" y1="1008.3" y2="1008.3" stroke="#2B318C" stroke-width="3.4"/>
<line x1="1671.9" x2="1671.9" y1="877.4" y2="932.8" stroke="#20AE4A" stroke-width="3.6"/><line x1="1671.9" x2="1671.9" y1="1000.7" y2="1099.3" stroke="#20AE4A" stroke-width="3.6"/><rect x="1649.3" y="932.8" width="45.2" height="68.0" fill="#fff" stroke="#20AE4A" stroke-width="2.5" stroke-linejoin="round"/><line x1="1649.3" x2="1694.5" y1="965.0" y2="965.0" stroke="#20AE4A" stroke-width="3.4"/>
<line x1="1761.1" x2="1761.1" y1="696.3" y2="807.0" stroke="#A81C26" stroke-width="3.6"/><line x1="1761.1" x2="1761.1" y1="897.0" y2="1023.5" stroke="#A81C26" stroke-width="3.6"/><rect x="1738.5" y="807.0" width="45.2" height="90.1" fill="#fff" stroke="#A81C26" stroke-width="2.5" stroke-linejoin="round"/><line x1="1738.5" x2="1783.7" y1="852.2" y2="852.2" stroke="#A81C26" stroke-width="3.4"/><circle cx="1761.9" cy="1050.3" r="3.0" fill="#B82236" stroke="#A81C26" stroke-width="1.9"/>
<line x1="1812.1" x2="1812.1" y1="822.1" y2="951.7" stroke="#2B318C" stroke-width="3.6"/><line x1="1812.1" x2="1812.1" y1="1066.1" y2="1195.1" stroke="#2B318C" stroke-width="3.6"/><rect x="1789.5" y="951.7" width="45.2" height="114.4" fill="#fff" stroke="#2B318C" stroke-width="2.5" stroke-linejoin="round"/><line x1="1789.5" x2="1834.7" y1="992.8" y2="992.8" stroke="#2B318C" stroke-width="3.4"/><circle cx="1812.9" cy="753.9" r="3.0" fill="#1C5A9C" stroke="#2B318C" stroke-width="1.9"/>
<line x1="1863.1" x2="1863.1" y1="795.9" y2="876.5" stroke="#20AE4A" stroke-width="3.6"/><line x1="1863.1" x2="1863.1" y1="999.8" y2="1142.6" stroke="#20AE4A" stroke-width="3.6"/><rect x="1840.5" y="876.5" width="45.2" height="123.3" fill="#fff" stroke="#20AE4A" stroke-width="2.5" stroke-linejoin="round"/><line x1="1840.5" x2="1885.7" y1="928.6" y2="928.6" stroke="#20AE4A" stroke-width="3.4"/>
<path d="M1315.5 670.7 V1220.2 H1927.0" fill="none" stroke="#000" stroke-width="1.8" stroke-linejoin="miter"/>
<line x1="1310.3" x2="1315.5" y1="792.3" y2="792.3" stroke="#000" stroke-width="1.8"/>
<text x="1305.9" y="798.9" text-anchor="end" class="t">4000</text>
<line x1="1310.3" x2="1315.5" y1="947.0" y2="947.0" stroke="#000" stroke-width="1.8"/>
<text x="1305.9" y="953.6" text-anchor="end" class="t">2000</text>
<line x1="1310.3" x2="1315.5" y1="1102.0" y2="1102.0" stroke="#000" stroke-width="1.8"/>
<text x="1305.9" y="1108.6" text-anchor="end" class="t">0</text>
<line x1="1430.0" x2="1430.0" y1="1220.2" y2="1225.8" stroke="#000" stroke-width="1.8"/>
<line x1="1620.9" x2="1620.9" y1="1220.2" y2="1225.8" stroke="#000" stroke-width="1.8"/>
<line x1="1812.1" x2="1812.1" y1="1220.2" y2="1225.8" stroke="#000" stroke-width="1.8"/>
<text x="1430.0" y="1242.8" text-anchor="middle" class="t" style="font-size:20.4px">StromalScore</text>
<text x="1620.9" y="1242.8" text-anchor="middle" class="t" style="font-size:20.4px">ImmuneScore</text>
<text x="1812.1" y="1242.8" text-anchor="middle" class="t" style="font-size:20.4px">ESTIMATEScore</text>
<text x="1430.0" y="695.2" text-anchor="middle" class="s" style="font-size:18.3px">****</text>
<text x="1620.9" y="695.2" text-anchor="middle" class="s" style="font-size:18.3px">****</text>
<text x="1812.1" y="695.2" text-anchor="middle" class="s" style="font-size:18.3px">****</text>
<text transform="translate(1256.5 945.5) rotate(-90)" text-anchor="middle" class="t">Estimated Proportion</text>
<text x="1232.1" y="653.8" class="p">(D)</text>
</g>
<g id="panelE">
<line x1="95.4" x2="95.4" y1="1459.4" y2="1493.1" stroke="#A81C26" stroke-width="3.6"/><line x1="95.4" x2="95.4" y1="1540.9" y2="1593.2" stroke="#A81C26" stroke-width="3.6"/><rect x="80.3" y="1493.1" width="30.2" height="47.8" fill="#fff" stroke="#A81C26" stroke-width="2.5" stroke-linejoin="round"/><line x1="80.3" x2="110.5" y1="1514.7" y2="1514.7" stroke="#A81C26" stroke-width="3.4"/>
<line x1="129.0" x2="129.0" y1="1486.8" y2="1539.2" stroke="#2B318C" stroke-width="3.6"/><line x1="129.0" x2="129.0" y1="1577.8" y2="1628.9" stroke="#2B318C" stroke-width="3.6"/><rect x="113.9" y="1539.2" width="30.2" height="38.6" fill="#fff" stroke="#2B318C" stroke-width="2.5" stroke-linejoin="round"/><line x1="113.9" x2="144.1" y1="1562.8" y2="1562.8" stroke="#2B318C" stroke-width="3.4"/><circle cx="129.8" cy="1638.3" r="3.0" fill="#1C5A9C" stroke="#2B318C" stroke-width="1.9"/><circle cx="129.8" cy="1648.1" r="3.0" fill="#1C5A9C" stroke="#2B318C" stroke-width="1.9"/>
<line x1="162.6" x2="162.6" y1="1455.7" y2="1506.3" stroke="#20AE4A" stroke-width="3.6"/><line x1="162.6" x2="162.6" y1="1569.8" y2="1630.9" stroke="#20AE4A" stroke-width="3.6"/><rect x="147.5" y="1506.3" width="30.2" height="63.5" fill="#fff" stroke="#20AE4A" stroke-width="2.5" stroke-linejoin="round"/><line x1="147.5" x2="177.7" y1="1536.2" y2="1536.2" stroke="#20AE4A" stroke-width="3.4"/>
<line x1="347.0" x2="347.0" y1="1464.4" y2="1508.5" stroke="#A81C26" stroke-width="3.6"/><line x1="347.0" x2="347.0" y1="1557.1" y2="1618.2" stroke="#A81C26" stroke-width="3.6"/><rect x="331.9" y="1508.5" width="30.2" height="48.6" fill="#fff" stroke="#A81C26" stroke-width="2.5" stroke-linejoin="round"/><line x1="331.9" x2="362.1" y1="1528.4" y2="1528.4" stroke="#A81C26" stroke-width="3.4"/>
<line x1="380.6" x2="380.6" y1="1472.6" y2="1526.2" stroke="#2B318C" stroke-width="3.6"/><line x1="380.6" x2="380.6" y1="1591.0" y2="1656.3" stroke="#2B318C" stroke-width="3.6"/><rect x="365.5" y="1526.2" width="30.2" height="64.8" fill="#fff" stroke="#2B318C" stroke-width="2.5" stroke-linejoin="round"/><line x1="365.5" x2="395.7" y1="1553.6" y2="1553.6" stroke="#2B318C" stroke-width="3.4"/>
<line x1="414.2" x2="414.2" y1="1463.7" y2="1507.3" stroke="#20AE4A" stroke-width="3.6"/><line x1="414.2" x2="414.2" y1="1571.6" y2="1647.1" stroke="#20AE4A" stroke-width="3.6"/><rect x="399.1" y="1507.3" width="30.2" height="64.3" fill="#fff" stroke="#20AE4A" stroke-width="2.5" stroke-linejoin="round"/><line x1="399.1" x2="429.3" y1="1536.2" y2="1536.2" stroke="#20AE4A" stroke-width="3.4"/>
<line x1="472.8" x2="472.8" y1="1495.1" y2="1543.6" stroke="#A81C26" stroke-width="3.6"/><line x1="472.8" x2="472.8" y1="1593.5" y2="1641.8" stroke="#A81C26" stroke-width="3.6"/><rect x="457.7" y="1543.6" width="30.2" height="49.8" fill="#fff" stroke="#A81C26" stroke-width="2.5" stroke-linejoin="round"/><line x1="457.7" x2="487.9" y1="1569.6" y2="1569.6" stroke="#A81C26" stroke-width="3.4"/>
<line x1="221.2" x2="221.2" y1="1636.1" y2="1670.1" stroke="#A81C26" stroke-width="3.6"/><line x1="221.2" x2="221.2" y1="1706.4" y2="1753.7" stroke="#A81C26" stroke-width="3.6"/><rect x="206.1" y="1670.1" width="30.2" height="36.3" fill="#fff" stroke="#A81C26" stroke-width="2.5" stroke-linejoin="round"/><line x1="206.1" x2="236.3" y1="1691.5" y2="1691.5" stroke="#A81C26" stroke-width="3.4"/><circle cx="222.0" cy="1615.4" r="3.0" fill="#B82236" stroke="#A81C26" stroke-width="1.9"/><circle cx="222.0" cy="1597.8" r="3.0" fill="#B82236" stroke="#A81C26" stroke-width="1.9"/><circle cx="222.0" cy="1762.9" r="3.0" fill="#B82236" stroke="#A81C26" stroke-width="1.9"/><circle cx="222.0" cy="1769.1" r="3.0" fill="#B82236" stroke="#A81C26" stroke-width="1.9"/>
<line x1="254.8" x2="254.8" y1="1628.6" y2="1690.8" stroke="#2B318C" stroke-width="3.6"/><line x1="254.8" x2="254.8" y1="1735.5" y2="1775.3" stroke="#2B318C" stroke-width="3.6"/><rect x="239.7" y="1690.8" width="30.2" height="44.8" fill="#fff" stroke="#2B318C" stroke-width="2.5" stroke-linejoin="round"/><line x1="239.7" x2="269.9" y1="1716.1" y2="1716.1" stroke="#2B318C" stroke-width="3.4"/><circle cx="255.6" cy="1611.7" r="3.0" fill="#1C5A9C" stroke="#2B318C" stroke-width="1.9"/>
<line x1="288.4" x2="288.4" y1="1655.2" y2="1701.2" stroke="#20AE4A" stroke-width="3.6"/><line x1="288.4" x2="288.4" y1="1741.8" y2="1790.7" stroke="#20AE4A" stroke-width="3.6"/><rect x="273.3" y="1701.2" width="30.2" height="40.5" fill="#fff" stroke="#20AE4A" stroke-width="2.5" stroke-linejoin="round"/><line x1="273.3" x2="303.5" y1="1720.1" y2="1720.1" stroke="#20AE4A" stroke-width="3.4"/><circle cx="289.2" cy="1610.4" r="3.0" fill="#50BC48" stroke="#20AE4A" stroke-width="1.9"/><circle cx="289.2" cy="1642.3" r="3.0" fill="#50BC48" stroke="#20AE4A" stroke-width="1.9"/>
<line x1="506.4" x2="506.4" y1="1534.9" y2="1584.5" stroke="#2B318C" stroke-width="3.6"/><line x1="506.4" x2="506.4" y1="1627.6" y2="1679.5" stroke="#2B318C" stroke-width="3.6"/><rect x="491.3" y="1584.5" width="30.2" height="43.1" fill="#fff" stroke="#2B318C" stroke-width="2.5" stroke-linejoin="round"/><line x1="491.3" x2="521.5" y1="1608.4" y2="1608.4" stroke="#2B318C" stroke-width="3.4"/><circle cx="507.2" cy="1505.5" r="3.0" fill="#1C5A9C" stroke="#2B318C" stroke-width="1.9"/><circle cx="507.2" cy="1514.2" r="3.0" fill="#1C5A9C" stroke="#2B318C" stroke-width="1.9"/>
<line x1="540.0" x2="540.0" y1="1487.6" y2="1557.3" stroke="#20AE4A" stroke-width="3.6"/><line x1="540.0" x2="540.0" y1="1621.4" y2="1680.0" stroke="#20AE4A" stroke-width="3.6"/><rect x="524.9" y="1557.3" width="30.2" height="64.0" fill="#fff" stroke="#20AE4A" stroke-width="2.5" stroke-linejoin="round"/><line x1="524.9" x2="555.1" y1="1582.3" y2="1582.3" stroke="#20AE4A" stroke-width="3.4"/>
<line x1="598.6" x2="598.6" y1="1340.6" y2="1381.7" stroke="#A81C26" stroke-width="3.6"/><line x1="598.6" x2="598.6" y1="1416.6" y2="1451.4" stroke="#A81C26" stroke-width="3.6"/><rect x="583.5" y="1381.7" width="30.2" height="34.9" fill="#fff" stroke="#A81C26" stroke-width="2.5" stroke-linejoin="round"/><line x1="583.5" x2="613.7" y1="1400.1" y2="1400.1" stroke="#A81C26" stroke-width="3.4"/><circle cx="599.4" cy="1322.9" r="3.0" fill="#B82236" stroke="#A81C26" stroke-width="1.9"/><circle cx="599.4" cy="1330.6" r="3.0" fill="#B82236" stroke="#A81C26" stroke-width="1.9"/>
<line x1="632.2" x2="632.2" y1="1343.5" y2="1383.4" stroke="#2B318C" stroke-width="3.6"/><line x1="632.2" x2="632.2" y1="1412.1" y2="1454.4" stroke="#2B318C" stroke-width="3.6"/><rect x="617.1" y="1383.4" width="30.2" height="28.7" fill="#fff" stroke="#2B318C" stroke-width="2.5" stroke-linejoin="round"/><line x1="617.1" x2="647.3" y1="1397.1" y2="1397.1" stroke="#2B318C" stroke-width="3.4"/><circle cx="633.0" cy="1313.6" r="3.0" fill="#1C5A9C" stroke="#2B318C" stroke-width="1.9"/><circle cx="633.0" cy="1341.5" r="3.0" fill="#1C5A9C" stroke="#2B318C" stroke-width="1.9"/><circle cx="633.0" cy="1456.2" r="3.0" fill="#1C5A9C" stroke="#2B318C" stroke-width="1.9"/><circle cx="633.0" cy="1470.6" r="3.0" fill="#1C5A9C" stroke="#2B318C" stroke-width="1.9"/>
<line x1="665.8" x2="665.8" y1="1338.1" y2="1377.7" stroke="#20AE4A" stroke-width="3.6"/><line x1="665.8" x2="665.8" y1="1409.6" y2="1452.7" stroke="#20AE4A" stroke-width="3.6"/><rect x="650.7" y="1377.7" width="30.2" height="31.9" fill="#fff" stroke="#20AE4A" stroke-width="2.5" stroke-linejoin="round"/><line x1="650.7" x2="680.9" y1="1393.4" y2="1393.4" stroke="#20AE4A" stroke-width="3.4"/><circle cx="666.6" cy="1324.4" r="3.0" fill="#50BC48" stroke="#20AE4A" stroke-width="1.9"/><circle cx="666.6" cy="1506.8" r="3.0" fill="#50BC48" stroke="#20AE4A" stroke-width="1.9"/>
<line x1="724.4" x2="724.4" y1="1437.5" y2="1468.6" stroke="#A81C26" stroke-width="3.6"/><line x1="724.4" x2="724.4" y1="1511.7" y2="1570.8" stroke="#A81C26" stroke-width="3.6"/><rect x="709.3" y="1468.6" width="30.2" height="43.1" fill="#fff" stroke="#A81C26" stroke-width="2.5" stroke-linejoin="round"/><line x1="709.3" x2="739.5" y1="1486.8" y2="1486.8" stroke="#A81C26" stroke-width="3.4"/>
<line x1="758.0" x2="758.0" y1="1449.0" y2="1495.1" stroke="#2B318C" stroke-width="3.6"/><line x1="758.0" x2="758.0" y1="1539.2" y2="1593.2" stroke="#2B318C" stroke-width="3.6"/><rect x="742.9" y="1495.1" width="30.2" height="44.1" fill="#fff" stroke="#2B318C" stroke-width="2.5" stroke-linejoin="round"/><line x1="742.9" x2="773.1" y1="1516.2" y2="1516.2" stroke="#2B318C" stroke-width="3.4"/><circle cx="758.8" cy="1605.2" r="3.0" fill="#1C5A9C" stroke="#2B318C" stroke-width="1.9"/>
<line x1="791.6" x2="791.6" y1="1429.0" y2="1472.4" stroke="#20AE4A" stroke-width="3.6"/><line x1="791.6" x2="791.6" y1="1536.7" y2="1621.9" stroke="#20AE4A" stroke-width="3.6"/><rect x="776.5" y="1472.4" width="30.2" height="64.3" fill="#fff" stroke="#20AE4A" stroke-width="2.5" stroke-linejoin="round"/><line x1="776.5" x2="806.7" y1="1499.8" y2="1499.8" stroke="#20AE4A" stroke-width="3.4"/>
<line x1="850.2" x2="850.2" y1="1430.8" y2="1464.9" stroke="#A81C26" stroke-width="3.6"/><line x1="850.2" x2="850.2" y1="1520.5" y2="1567.8" stroke="#A81C26" stroke-width="3.6"/><rect x="835.1" y="1464.9" width="30.2" height="55.6" fill="#fff" stroke="#A81C26" stroke-width="2.5" stroke-linejoin="round"/><line x1="835.1" x2="865.3" y1="1490.6" y2="1490.6" stroke="#A81C26" stroke-width="3.4"/>
<line x1="883.8" x2="883.8" y1="1438.7" y2="1490.6" stroke="#2B318C" stroke-width="3.6"/><line x1="883.8" x2="883.8" y1="1544.1" y2="1606.9" stroke="#2B318C" stroke-width="3.6"/><rect x="868.7" y="1490.6" width="30.2" height="53.6" fill="#fff" stroke="#2B318C" stroke-width="2.5" stroke-linejoin="round"/><line x1="868.7" x2="898.9" y1="1516.2" y2="1516.2" stroke="#2B318C" stroke-width="3.4"/>
<line x1="917.4" x2="917.4" y1="1429.5" y2="1450.7" stroke="#20AE4A" stroke-width="3.6"/><line x1="917.4" x2="917.4" y1="1519.7" y2="1604.7" stroke="#20AE4A" stroke-width="3.6"/><rect x="902.3" y="1450.7" width="30.2" height="69.0" fill="#fff" stroke="#20AE4A" stroke-width="2.5" stroke-linejoin="round"/><line x1="902.3" x2="932.5" y1="1480.1" y2="1480.1" stroke="#20AE4A" stroke-width="3.4"/><circle cx="918.2" cy="1622.6" r="3.0" fill="#50BC48" stroke="#20AE4A" stroke-width="1.9"/>
<path d="M53.6 1290.0 V1815.0 H959.5" fill="none" stroke="#000" stroke-width="1.8" stroke-linejoin="miter"/>
<line x1="48.4" x2="53.6" y1="1478.6" y2="1478.6" stroke="#000" stroke-width="1.8"/>
<text x="44.7" y="1485.2" text-anchor="end" class="t">1</text>
<line x1="48.4" x2="53.6" y1="1671.6" y2="1671.6" stroke="#000" stroke-width="1.8"/>
<text x="44.7" y="1678.2" text-anchor="end" class="t">0</text>
<line x1="129.0" x2="129.0" y1="1815.0" y2="1820.6" stroke="#000" stroke-width="1.8"/>
<line x1="254.8" x2="254.8" y1="1815.0" y2="1820.6" stroke="#000" stroke-width="1.8"/>
<line x1="380.6" x2="380.6" y1="1815.0" y2="1820.6" stroke="#000" stroke-width="1.8"/>
<line x1="506.4" x2="506.4" y1="1815.0" y2="1820.6" stroke="#000" stroke-width="1.8"/>
<line x1="632.2" x2="632.2" y1="1815.0" y2="1820.6" stroke="#000" stroke-width="1.8"/>
<line x1="758.0" x2="758.0" y1="1815.0" y2="1820.6" stroke="#000" stroke-width="1.8"/>
<line x1="883.8" x2="883.8" y1="1815.0" y2="1820.6" stroke="#000" stroke-width="1.8"/>
<text x="129.0" y="1837.6" text-anchor="middle" class="t">HCK</text>
<text x="254.8" y="1837.6" text-anchor="middle" class="t">IgG</text>
<text x="380.6" y="1837.6" text-anchor="middle" class="t">Interferon</text>
<text x="506.4" y="1837.6" text-anchor="middle" class="t">LCK</text>
<text x="632.2" y="1837.6" text-anchor="middle" class="t">MHC_I</text>
<text x="758.0" y="1837.6" text-anchor="middle" class="t">MHC_II</text>
<text x="883.8" y="1837.6" text-anchor="middle" class="t">STAT1</text>
<text x="129.0" y="1313.1" text-anchor="middle" class="s" style="font-size:18.3px">****</text>
<text x="254.8" y="1313.1" text-anchor="middle" class="s" style="font-size:18.3px">****</text>
<text x="380.6" y="1313.1" text-anchor="middle" class="s" style="font-size:18.3px">***</text>
<text x="506.4" y="1313.1" text-anchor="middle" class="s" style="font-size:18.3px">****</text>
<text x="632.2" y="1313.5" text-anchor="middle" class="s" style="font-size:19.5px">ns</text>
<text x="758.0" y="1313.1" text-anchor="middle" class="s" style="font-size:18.3px">****</text>
<text x="883.8" y="1313.1" text-anchor="middle" class="s" style="font-size:18.3px">****</text>
<text transform="translate(25.3 1552.8) rotate(-90)" text-anchor="middle" class="t">ssGSEA scores</text>
<text x="-0.3" y="1267.2" class="p">(E)</text>
</g>
<g id="panelF">
<line x1="1077.4" x2="1077.4" y1="1668.1" y2="1676.8" stroke="#A81C26" stroke-width="3.6"/><line x1="1077.4" x2="1077.4" y1="1687.9" y2="1699.6" stroke="#A81C26" stroke-width="3.6"/><rect x="1062.4" y="1676.8" width="30.0" height="11.2" fill="#fff" stroke="#A81C26" stroke-width="2.5" stroke-linejoin="round"/><line x1="1062.4" x2="1092.4" y1="1683.0" y2="1683.0" stroke="#A81C26" stroke-width="3.4"/><circle cx="1078.2" cy="1711.3" r="3.0" fill="#B82236" stroke="#A81C26" stroke-width="1.9"/>
<line x1="1110.6" x2="1110.6" y1="1674.0" y2="1687.2" stroke="#2B318C" stroke-width="3.6"/><line x1="1110.6" x2="1110.6" y1="1704.1" y2="1726.5" stroke="#2B318C" stroke-width="3.6"/><rect x="1095.6" y="1687.2" width="30.0" height="16.9" fill="#fff" stroke="#2B318C" stroke-width="2.5" stroke-linejoin="round"/><line x1="1095.6" x2="1125.6" y1="1695.2" y2="1695.2" stroke="#2B318C" stroke-width="3.4"/>
<line x1="1143.8" x2="1143.8" y1="1674.0" y2="1681.0" stroke="#20AE4A" stroke-width="3.6"/><line x1="1143.8" x2="1143.8" y1="1694.7" y2="1707.1" stroke="#20AE4A" stroke-width="3.6"/><rect x="1128.8" y="1681.0" width="30.0" height="13.7" fill="#fff" stroke="#20AE4A" stroke-width="2.5" stroke-linejoin="round"/><line x1="1128.8" x2="1158.8" y1="1687.7" y2="1687.7" stroke="#20AE4A" stroke-width="3.4"/><circle cx="1144.6" cy="1714.6" r="3.0" fill="#50BC48" stroke="#20AE4A" stroke-width="1.9"/><circle cx="1144.6" cy="1717.5" r="3.0" fill="#50BC48" stroke="#20AE4A" stroke-width="1.9"/>
<line x1="1201.0" x2="1201.0" y1="1753.1" y2="1764.3" stroke="#A81C26" stroke-width="3.6"/><line x1="1201.0" x2="1201.0" y1="1774.2" y2="1782.9" stroke="#A81C26" stroke-width="3.6"/><rect x="1186.0" y="1764.3" width="30.0" height="9.9" fill="#fff" stroke="#A81C26" stroke-width="2.5" stroke-linejoin="round"/><line x1="1186.0" x2="1216.0" y1="1769.3" y2="1769.3" stroke="#A81C26" stroke-width="3.4"/><circle cx="1201.8" cy="1749.4" r="3.0" fill="#B82236" stroke="#A81C26" stroke-width="1.9"/><circle cx="1201.8" cy="1785.4" r="3.0" fill="#B82236" stroke="#A81C26" stroke-width="1.9"/><circle cx="1201.8" cy="1789.2" r="3.0" fill="#B82236" stroke="#A81C26" stroke-width="1.9"/>
<line x1="1234.2" x2="1234.2" y1="1754.3" y2="1766.3" stroke="#2B318C" stroke-width="3.6"/><line x1="1234.2" x2="1234.2" y1="1778.5" y2="1791.2" stroke="#2B318C" stroke-width="3.6"/><rect x="1219.2" y="1766.3" width="30.0" height="12.2" fill="#fff" stroke="#2B318C" stroke-width="2.5" stroke-linejoin="round"/><line x1="1219.2" x2="1249.2" y1="1772.3" y2="1772.3" stroke="#2B318C" stroke-width="3.4"/><circle cx="1235.0" cy="1732.0" r="3.0" fill="#1C5A9C" stroke="#2B318C" stroke-width="1.9"/><circle cx="1235.0" cy="1750.6" r="3.0" fill="#1C5A9C" stroke="#2B318C" stroke-width="1.9"/>
<line x1="1267.4" x2="1267.4" y1="1753.6" y2="1763.5" stroke="#20AE4A" stroke-width="3.6"/><line x1="1267.4" x2="1267.4" y1="1773.5" y2="1782.2" stroke="#20AE4A" stroke-width="3.6"/><rect x="1252.4" y="1763.5" width="30.0" height="9.9" fill="#fff" stroke="#20AE4A" stroke-width="2.5" stroke-linejoin="round"/><line x1="1252.4" x2="1282.4" y1="1768.5" y2="1768.5" stroke="#20AE4A" stroke-width="3.4"/><circle cx="1268.2" cy="1741.2" r="3.0" fill="#50BC48" stroke="#20AE4A" stroke-width="1.9"/><circle cx="1268.2" cy="1745.6" r="3.0" fill="#50BC48" stroke="#20AE4A" stroke-width="1.9"/><circle cx="1268.2" cy="1789.9" r="3.0" fill="#50BC48" stroke="#20AE4A" stroke-width="1.9"/>
<line x1="1324.6" x2="1324.6" y1="1674.8" y2="1683.0" stroke="#A81C26" stroke-width="3.6"/><line x1="1324.6" x2="1324.6" y1="1696.4" y2="1710.1" stroke="#A81C26" stroke-width="3.6"/><rect x="1309.6" y="1683.0" width="30.0" height="13.4" fill="#fff" stroke="#A81C26" stroke-width="2.5" stroke-linejoin="round"/><line x1="1309.6" x2="1339.6" y1="1689.7" y2="1689.7" stroke="#A81C26" stroke-width="3.4"/>
<line x1="1357.8" x2="1357.8" y1="1674.3" y2="1682.7" stroke="#2B318C" stroke-width="3.6"/><line x1="1357.8" x2="1357.8" y1="1702.1" y2="1720.8" stroke="#2B318C" stroke-width="3.6"/><rect x="1342.8" y="1682.7" width="30.0" height="19.4" fill="#fff" stroke="#2B318C" stroke-width="2.5" stroke-linejoin="round"/><line x1="1342.8" x2="1372.8" y1="1693.9" y2="1693.9" stroke="#2B318C" stroke-width="3.4"/><circle cx="1358.6" cy="1731.2" r="3.0" fill="#1C5A9C" stroke="#2B318C" stroke-width="1.9"/>
<line x1="1391.0" x2="1391.0" y1="1673.0" y2="1680.5" stroke="#20AE4A" stroke-width="3.6"/><line x1="1391.0" x2="1391.0" y1="1695.4" y2="1713.3" stroke="#20AE4A" stroke-width="3.6"/><rect x="1376.0" y="1680.5" width="30.0" height="14.9" fill="#fff" stroke="#20AE4A" stroke-width="2.5" stroke-linejoin="round"/><line x1="1376.0" x2="1406.0" y1="1688.9" y2="1688.9" stroke="#20AE4A" stroke-width="3.4"/><circle cx="1391.8" cy="1717.0" r="3.0" fill="#50BC48" stroke="#20AE4A" stroke-width="1.9"/><circle cx="1391.8" cy="1720.8" r="3.0" fill="#50BC48" stroke="#20AE4A" stroke-width="1.9"/><circle cx="1391.8" cy="1724.5" r="3.0" fill="#50BC48" stroke="#20AE4A" stroke-width="1.9"/><circle cx="1391.8" cy="1727.7" r="3.0" fill="#50BC48" stroke="#20AE4A" stroke-width="1.9"/>
<line x1="1448.2" x2="1448.2" y1="1669.0" y2="1682.2" stroke="#A81C26" stroke-width="3.6"/><line x1="1448.2" x2="1448.2" y1="1694.2" y2="1705.9" stroke="#A81C26" stroke-width="3.6"/><rect x="1433.2" y="1682.2" width="30.0" height="11.9" fill="#fff" stroke="#A81C26" stroke-width="2.5" stroke-linejoin="round"/><line x1="1433.2" x2="1463.2" y1="1688.4" y2="1688.4" stroke="#A81C26" stroke-width="3.4"/><circle cx="1449.0" cy="1709.6" r="3.0" fill="#B82236" stroke="#A81C26" stroke-width="1.9"/><circle cx="1449.0" cy="1711.6" r="3.0" fill="#B82236" stroke="#A81C26" stroke-width="1.9"/>
<line x1="1481.4" x2="1481.4" y1="1675.3" y2="1692.9" stroke="#2B318C" stroke-width="3.6"/><line x1="1481.4" x2="1481.4" y1="1710.8" y2="1727.0" stroke="#2B318C" stroke-width="3.6"/><rect x="1466.4" y="1692.9" width="30.0" height="17.9" fill="#fff" stroke="#2B318C" stroke-width="2.5" stroke-linejoin="round"/><line x1="1466.4" x2="1496.4" y1="1701.6" y2="1701.6" stroke="#2B318C" stroke-width="3.4"/>
<line x1="1514.6" x2="1514.6" y1="1674.3" y2="1685.2" stroke="#20AE4A" stroke-width="3.6"/><line x1="1514.6" x2="1514.6" y1="1700.4" y2="1720.8" stroke="#20AE4A" stroke-width="3.6"/><rect x="1499.6" y="1685.2" width="30.0" height="15.2" fill="#fff" stroke="#20AE4A" stroke-width="2.5" stroke-linejoin="round"/><line x1="1499.6" x2="1529.6" y1="1693.4" y2="1693.4" stroke="#20AE4A" stroke-width="3.4"/><circle cx="1515.4" cy="1723.3" r="3.0" fill="#50BC48" stroke="#20AE4A" stroke-width="1.9"/><circle cx="1515.4" cy="1726.2" r="3.0" fill="#50BC48" stroke="#20AE4A" stroke-width="1.9"/>
<line x1="1695.4" x2="1695.4" y1="1656.6" y2="1666.8" stroke="#A81C26" stroke-width="3.6"/><line x1="1695.4" x2="1695.4" y1="1676.5" y2="1685.2" stroke="#A81C26" stroke-width="3.6"/><rect x="1680.4" y="1666.8" width="30.0" height="9.7" fill="#fff" stroke="#A81C26" stroke-width="2.5" stroke-linejoin="round"/><line x1="1680.4" x2="1710.4" y1="1671.5" y2="1671.5" stroke="#A81C26" stroke-width="3.4"/><circle cx="1696.2" cy="1690.4" r="3.0" fill="#B82236" stroke="#A81C26" stroke-width="1.9"/>
<line x1="1728.6" x2="1728.6" y1="1657.4" y2="1670.5" stroke="#2B318C" stroke-width="3.6"/><line x1="1728.6" x2="1728.6" y1="1685.2" y2="1700.9" stroke="#2B318C" stroke-width="3.6"/><rect x="1713.6" y="1670.5" width="30.0" height="14.7" fill="#fff" stroke="#2B318C" stroke-width="2.5" stroke-linejoin="round"/><line x1="1713.6" x2="1743.6" y1="1677.7" y2="1677.7" stroke="#2B318C" stroke-width="3.4"/><circle cx="1729.4" cy="1703.9" r="3.0" fill="#1C5A9C" stroke="#2B318C" stroke-width="1.9"/><circle cx="1729.4" cy="1709.6" r="3.0" fill="#1C5A9C" stroke="#2B318C" stroke-width="1.9"/>
<line x1="1761.8" x2="1761.8" y1="1651.6" y2="1666.6" stroke="#20AE4A" stroke-width="3.6"/><line x1="1761.8" x2="1761.8" y1="1680.5" y2="1690.9" stroke="#20AE4A" stroke-width="3.6"/><rect x="1746.8" y="1666.6" width="30.0" height="13.9" fill="#fff" stroke="#20AE4A" stroke-width="2.5" stroke-linejoin="round"/><line x1="1746.8" x2="1776.8" y1="1671.5" y2="1671.5" stroke="#20AE4A" stroke-width="3.4"/><circle cx="1762.6" cy="1703.4" r="3.0" fill="#50BC48" stroke="#20AE4A" stroke-width="1.9"/><circle cx="1762.6" cy="1708.3" r="3.0" fill="#50BC48" stroke="#20AE4A" stroke-width="1.9"/>
<line x1="1819.0" x2="1819.0" y1="1648.2" y2="1653.1" stroke="#A81C26" stroke-width="3.6"/><line x1="1819.0" x2="1819.0" y1="1672.3" y2="1690.4" stroke="#A81C26" stroke-width="3.6"/><rect x="1804.0" y="1653.1" width="30.0" height="19.1" fill="#fff" stroke="#A81C26" stroke-width="2.5" stroke-linejoin="round"/><line x1="1804.0" x2="1834.0" y1="1661.6" y2="1661.6" stroke="#A81C26" stroke-width="3.4"/>
<line x1="1852.2" x2="1852.2" y1="1648.7" y2="1656.6" stroke="#2B318C" stroke-width="3.6"/><line x1="1852.2" x2="1852.2" y1="1674.3" y2="1695.9" stroke="#2B318C" stroke-width="3.6"/><rect x="1837.2" y="1656.6" width="30.0" height="17.7" fill="#fff" stroke="#2B318C" stroke-width="2.5" stroke-linejoin="round"/><line x1="1837.2" x2="1867.2" y1="1663.6" y2="1663.6" stroke="#2B318C" stroke-width="3.4"/><circle cx="1853.0" cy="1701.6" r="3.0" fill="#1C5A9C" stroke="#2B318C" stroke-width="1.9"/>
<line x1="1885.4" x2="1885.4" y1="1648.2" y2="1650.4" stroke="#20AE4A" stroke-width="3.6"/><line x1="1885.4" x2="1885.4" y1="1669.3" y2="1690.9" stroke="#20AE4A" stroke-width="3.6"/><rect x="1870.4" y="1650.4" width="30.0" height="18.9" fill="#fff" stroke="#20AE4A" stroke-width="2.5" stroke-linejoin="round"/><line x1="1870.4" x2="1900.4" y1="1659.1" y2="1659.1" stroke="#20AE4A" stroke-width="3.4"/><circle cx="1886.2" cy="1694.7" r="3.0" fill="#50BC48" stroke="#20AE4A" stroke-width="1.9"/><circle cx="1886.2" cy="1700.4" r="3.0" fill="#50BC48" stroke="#20AE4A" stroke-width="1.9"/><circle cx="1886.2" cy="1705.9" r="3.0" fill="#50BC48" stroke="#20AE4A" stroke-width="1.9"/>
<line x1="1571.8" x2="1571.8" y1="1313.9" y2="1320.0" stroke="#A81C26" stroke-width="3.6"/><line x1="1571.8" x2="1571.8" y1="1328.7" y2="1334.7" stroke="#A81C26" stroke-width="3.6"/><rect x="1556.8" y="1320.0" width="30.0" height="8.7" fill="#fff" stroke="#A81C26" stroke-width="2.5" stroke-linejoin="round"/><line x1="1556.8" x2="1586.8" y1="1322.0" y2="1322.0" stroke="#A81C26" stroke-width="3.4"/><circle cx="1572.6" cy="1336.6" r="3.0" fill="#B82236" stroke="#A81C26" stroke-width="1.9"/><circle cx="1572.6" cy="1339.7" r="3.0" fill="#B82236" stroke="#A81C26" stroke-width="1.9"/><circle cx="1572.6" cy="1342.8" r="3.0" fill="#B82236" stroke="#A81C26" stroke-width="1.9"/><circle cx="1572.6" cy="1345.9" r="3.0" fill="#B82236" stroke="#A81C26" stroke-width="1.9"/><circle cx="1572.6" cy="1349.0" r="3.0" fill="#B82236" stroke="#A81C26" stroke-width="1.9"/><line x1="1572.6" x2="1572.6" y1="1336.6" y2="1349.0" stroke="#B82236" stroke-width="3.6" stroke-linecap="round" opacity="0.8"/>
<line x1="1605.0" x2="1605.0" y1="1315.4" y2="1319.8" stroke="#2B318C" stroke-width="3.6"/><line x1="1605.0" x2="1605.0" y1="1331.0" y2="1343.4" stroke="#2B318C" stroke-width="3.6"/><rect x="1590.0" y="1319.8" width="30.0" height="11.2" fill="#fff" stroke="#2B318C" stroke-width="2.5" stroke-linejoin="round"/><line x1="1590.0" x2="1620.0" y1="1325.0" y2="1325.0" stroke="#2B318C" stroke-width="3.4"/><circle cx="1605.8" cy="1372.3" r="3.0" fill="#1C5A9C" stroke="#2B318C" stroke-width="1.9"/><circle cx="1605.8" cy="1345.9" r="3.0" fill="#1C5A9C" stroke="#2B318C" stroke-width="1.9"/><circle cx="1605.8" cy="1349.6" r="3.0" fill="#1C5A9C" stroke="#2B318C" stroke-width="1.9"/><circle cx="1605.8" cy="1353.4" r="3.0" fill="#1C5A9C" stroke="#2B318C" stroke-width="1.9"/><line x1="1605.8" x2="1605.8" y1="1345.9" y2="1353.4" stroke="#1C5A9C" stroke-width="3.6" stroke-linecap="round" opacity="0.8"/>
<line x1="1638.2" x2="1638.2" y1="1314.2" y2="1318.8" stroke="#20AE4A" stroke-width="3.6"/><line x1="1638.2" x2="1638.2" y1="1326.3" y2="1333.5" stroke="#20AE4A" stroke-width="3.6"/><rect x="1623.2" y="1318.8" width="30.0" height="7.5" fill="#fff" stroke="#20AE4A" stroke-width="2.5" stroke-linejoin="round"/><line x1="1623.2" x2="1653.2" y1="1322.3" y2="1322.3" stroke="#20AE4A" stroke-width="3.4"/><circle cx="1639.0" cy="1372.0" r="3.0" fill="#50BC48" stroke="#20AE4A" stroke-width="1.9"/><circle cx="1639.0" cy="1334.7" r="3.0" fill="#50BC48" stroke="#20AE4A" stroke-width="1.9"/><circle cx="1639.0" cy="1337.6" r="3.0" fill="#50BC48" stroke="#20AE4A" stroke-width="1.9"/><circle cx="1639.0" cy="1340.5" r="3.0" fill="#50BC48" stroke="#20AE4A" stroke-width="1.9"/><circle cx="1639.0" cy="1343.4" r="3.0" fill="#50BC48" stroke="#20AE4A" stroke-width="1.9"/><circle cx="1639.0" cy="1346.3" r="3.0" fill="#50BC48" stroke="#20AE4A" stroke-width="1.9"/><circle cx="1639.0" cy="1349.2" r="3.0" fill="#50BC48" stroke="#20AE4A" stroke-width="1.9"/><circle cx="1639.0" cy="1352.1" r="3.0" fill="#50BC48" stroke="#20AE4A" stroke-width="1.9"/><line x1="1639.0" x2="1639.0" y1="1334.7" y2="1352.1" stroke="#50BC48" stroke-width="3.6" stroke-linecap="round" opacity="0.8"/>
<path d="M1036.4 1289.9 V1815.0 H1927.0" fill="none" stroke="#000" stroke-width="1.8" stroke-linejoin="miter"/>
<line x1="1031.2" x2="1036.4" y1="1432.5" y2="1432.5" stroke="#000" stroke-width="1.8"/>
<text x="1026.5" y="1439.1" text-anchor="end" class="t">5.0</text>
<line x1="1031.2" x2="1036.4" y1="1579.2" y2="1579.2" stroke="#000" stroke-width="1.8"/>
<text x="1026.5" y="1585.8" text-anchor="end" class="t">2.5</text>
<line x1="1031.2" x2="1036.4" y1="1726.0" y2="1726.0" stroke="#000" stroke-width="1.8"/>
<text x="1026.5" y="1732.6" text-anchor="end" class="t">0.0</text>
<line x1="1110.6" x2="1110.6" y1="1815.0" y2="1820.6" stroke="#000" stroke-width="1.8"/>
<line x1="1234.2" x2="1234.2" y1="1815.0" y2="1820.6" stroke="#000" stroke-width="1.8"/>
<line x1="1357.8" x2="1357.8" y1="1815.0" y2="1820.6" stroke="#000" stroke-width="1.8"/>
<line x1="1481.4" x2="1481.4" y1="1815.0" y2="1820.6" stroke="#000" stroke-width="1.8"/>
<line x1="1605.0" x2="1605.0" y1="1815.0" y2="1820.6" stroke="#000" stroke-width="1.8"/>
<line x1="1728.6" x2="1728.6" y1="1815.0" y2="1820.6" stroke="#000" stroke-width="1.8"/>
<line x1="1852.2" x2="1852.2" y1="1815.0" y2="1820.6" stroke="#000" stroke-width="1.8"/>
<text x="1110.6" y="1837.6" text-anchor="middle" class="t">HCK</text>
<text x="1234.2" y="1837.6" text-anchor="middle" class="t">IgG</text>
<text x="1357.8" y="1837.6" text-anchor="middle" class="t">Interferon</text>
<text x="1481.4" y="1837.6" text-anchor="middle" class="t">LCK</text>
<text x="1605.0" y="1837.6" text-anchor="middle" class="t">MHC_I</text>
<text x="1728.6" y="1837.6" text-anchor="middle" class="t">MHC_II</text>
<text x="1852.2" y="1837.6" text-anchor="middle" class="t">STAT1</text>
<text x="1110.6" y="1312.9" text-anchor="middle" class="s" style="font-size:18.3px">****</text>
<text x="1234.2" y="1312.9" text-anchor="middle" class="s" style="font-size:18.3px">**</text>
<text x="1357.8" y="1312.9" text-anchor="middle" class="s" style="font-size:18.3px">*</text>
<text x="1481.4" y="1312.9" text-anchor="middle" class="s" style="font-size:18.3px">****</text>
<text x="1605.0" y="1312.9" text-anchor="middle" class="s" style="font-size:18.3px">*</text>
<text x="1728.6" y="1312.9" text-anchor="middle" class="s" style="font-size:18.3px">****</text>
<text x="1852.2" y="1312.9" text-anchor="middle" class="s" style="font-size:18.3px">**</text>
<text transform="translate(993.0 1552.5) rotate(-90)" text-anchor="middle" class="t">ssGSEA scores</text>
<text x="968.1" y="1267.0" class="p">(F)</text>
</g>
<g id="legend">
<text x="1654.2" y="23.8" class="t" style="font-size:20px">category</text>
<line x1="1747.2" x2="1747.2" y1="3.6" y2="28.2" stroke="#A81C26" stroke-width="3" stroke-linecap="round"/>
<rect x="1735.7" y="7.7" width="23.1" height="16.6" fill="#fff" stroke="#A81C26" stroke-width="2.4" stroke-linejoin="round"/>
<line x1="1735.7" x2="1758.8" y1="15.9" y2="15.9" stroke="#A81C26" stroke-width="1.8"/>
<text x="1771.2" y="22.3" class="t" style="font-size:16.6px">C1</text>
<line x1="1815.0" x2="1815.0" y1="3.6" y2="28.2" stroke="#2B318C" stroke-width="3" stroke-linecap="round"/>
<rect x="1803.5" y="7.7" width="23.1" height="16.6" fill="#fff" stroke="#2B318C" stroke-width="2.4" stroke-linejoin="round"/>
<line x1="1803.5" x2="1826.6" y1="15.9" y2="15.9" stroke="#2B318C" stroke-width="1.8"/>
<text x="1839.0" y="22.3" class="t" style="font-size:16.6px">C2</text>
<line x1="1883.0" x2="1883.0" y1="3.6" y2="28.2" stroke="#20AE4A" stroke-width="3" stroke-linecap="round"/>
<rect x="1871.5" y="7.7" width="23.1" height="16.6" fill="#fff" stroke="#20AE4A" stroke-width="2.4" stroke-linejoin="round"/>
<line x1="1871.5" x2="1894.6" y1="15.9" y2="15.9" stroke="#20AE4A" stroke-width="1.8"/>
<text x="1907.3" y="22.3" class="t" style="font-size:16.6px">C3</text>
</g>
</svg>
</body></html>
